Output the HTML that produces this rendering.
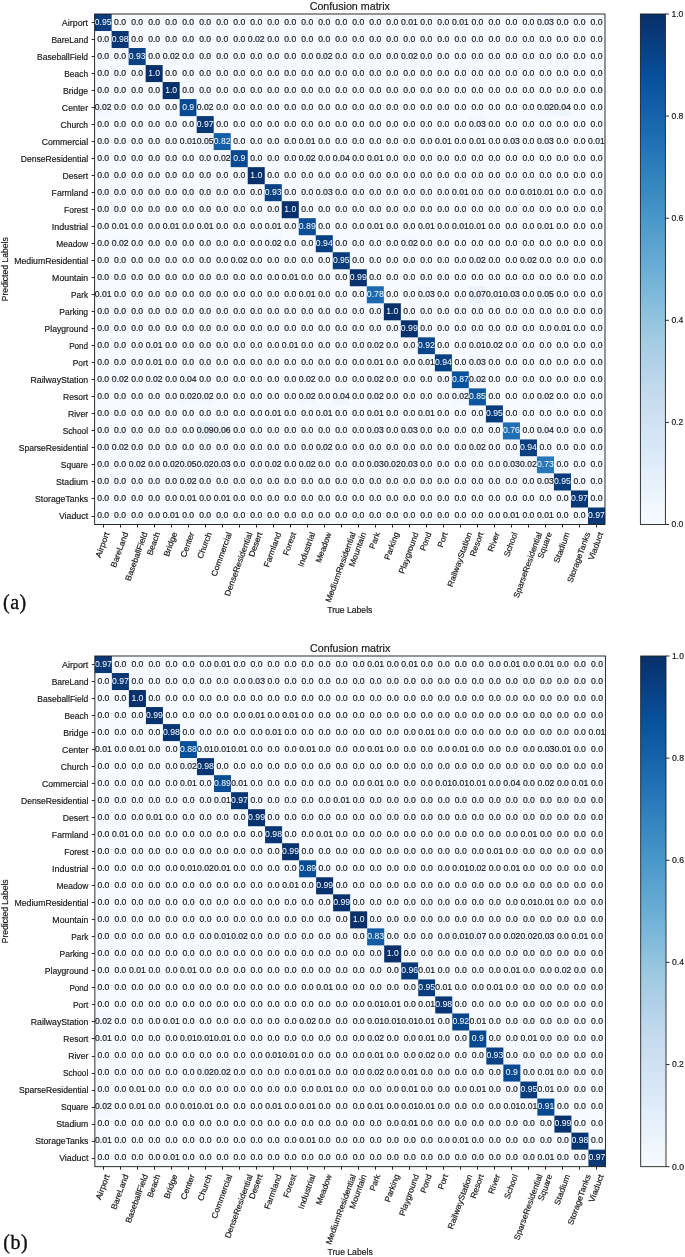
<!DOCTYPE html><html><head><meta charset="utf-8"><title>Confusion matrices</title><style>html,body{margin:0;padding:0;background:#fff}svg{display:block;will-change:transform}text{font-family:"Liberation Sans",sans-serif}.k{stroke:#1a1a1a;stroke-width:0.18px}.w{stroke:none}.s{font-family:"Liberation Serif",serif}</style></head><body>
<svg width="685" height="1257" viewBox="0 0 685 1257">
<defs><linearGradient id="cb" x1="0" y1="1" x2="0" y2="0">
<stop offset="0.0000" stop-color="#f7fbff"/>
<stop offset="0.0156" stop-color="#f4f9fe"/>
<stop offset="0.0312" stop-color="#f1f7fd"/>
<stop offset="0.0469" stop-color="#eef5fc"/>
<stop offset="0.0625" stop-color="#eaf3fb"/>
<stop offset="0.0781" stop-color="#e7f1fa"/>
<stop offset="0.0938" stop-color="#e4eff9"/>
<stop offset="0.1094" stop-color="#e1edf8"/>
<stop offset="0.1250" stop-color="#deebf7"/>
<stop offset="0.1406" stop-color="#dbe9f6"/>
<stop offset="0.1562" stop-color="#d8e7f5"/>
<stop offset="0.1719" stop-color="#d5e5f4"/>
<stop offset="0.1875" stop-color="#d2e3f3"/>
<stop offset="0.2031" stop-color="#cfe1f2"/>
<stop offset="0.2188" stop-color="#ccdff1"/>
<stop offset="0.2344" stop-color="#c9ddf0"/>
<stop offset="0.2500" stop-color="#c6dbef"/>
<stop offset="0.2656" stop-color="#c1d9ed"/>
<stop offset="0.2812" stop-color="#bcd7eb"/>
<stop offset="0.2969" stop-color="#b7d4ea"/>
<stop offset="0.3125" stop-color="#b2d2e8"/>
<stop offset="0.3281" stop-color="#add0e6"/>
<stop offset="0.3438" stop-color="#a8cee4"/>
<stop offset="0.3594" stop-color="#a3cce3"/>
<stop offset="0.3750" stop-color="#9dcae1"/>
<stop offset="0.3906" stop-color="#97c6df"/>
<stop offset="0.4062" stop-color="#91c3de"/>
<stop offset="0.4219" stop-color="#8abfdd"/>
<stop offset="0.4375" stop-color="#84bcdb"/>
<stop offset="0.4531" stop-color="#7db8da"/>
<stop offset="0.4688" stop-color="#77b5d9"/>
<stop offset="0.4844" stop-color="#71b1d7"/>
<stop offset="0.5000" stop-color="#6aaed6"/>
<stop offset="0.5156" stop-color="#65aad4"/>
<stop offset="0.5312" stop-color="#60a7d2"/>
<stop offset="0.5469" stop-color="#5ba3d0"/>
<stop offset="0.5625" stop-color="#56a0ce"/>
<stop offset="0.5781" stop-color="#519ccc"/>
<stop offset="0.5938" stop-color="#4b98ca"/>
<stop offset="0.6094" stop-color="#4695c8"/>
<stop offset="0.6250" stop-color="#4191c6"/>
<stop offset="0.6406" stop-color="#3d8dc4"/>
<stop offset="0.6562" stop-color="#3989c1"/>
<stop offset="0.6719" stop-color="#3585bf"/>
<stop offset="0.6875" stop-color="#3181bd"/>
<stop offset="0.7031" stop-color="#2d7dbb"/>
<stop offset="0.7188" stop-color="#2979b9"/>
<stop offset="0.7344" stop-color="#2474b7"/>
<stop offset="0.7500" stop-color="#2070b4"/>
<stop offset="0.7656" stop-color="#1d6cb1"/>
<stop offset="0.7812" stop-color="#1a68ae"/>
<stop offset="0.7969" stop-color="#1764ab"/>
<stop offset="0.8125" stop-color="#1460a8"/>
<stop offset="0.8281" stop-color="#115ca5"/>
<stop offset="0.8438" stop-color="#0e58a2"/>
<stop offset="0.8594" stop-color="#0a549e"/>
<stop offset="0.8750" stop-color="#08509b"/>
<stop offset="0.8906" stop-color="#084c95"/>
<stop offset="0.9062" stop-color="#08488e"/>
<stop offset="0.9219" stop-color="#084488"/>
<stop offset="0.9375" stop-color="#084082"/>
<stop offset="0.9531" stop-color="#083b7c"/>
<stop offset="0.9688" stop-color="#083776"/>
<stop offset="0.9844" stop-color="#083370"/>
<stop offset="1.0000" stop-color="#08306b"/>
</linearGradient></defs>
<rect width="685" height="1257" fill="#fff"/>
<rect x="94.60" y="14.00" width="510.39" height="510.51" fill="#f7fbff"/>
<rect x="94.60" y="14.00" width="17.03" height="17.04" fill="#083c7d"/>
<rect x="400.83" y="14.00" width="17.03" height="17.04" fill="#f5fafe"/>
<rect x="451.87" y="14.00" width="17.03" height="17.04" fill="#f5fafe"/>
<rect x="536.94" y="14.00" width="17.03" height="17.04" fill="#f2f7fd"/>
<rect x="111.61" y="31.02" width="17.03" height="17.04" fill="#083573"/>
<rect x="247.72" y="31.02" width="17.03" height="17.04" fill="#f3f8fe"/>
<rect x="128.63" y="48.03" width="17.03" height="17.04" fill="#084285"/>
<rect x="162.65" y="48.03" width="17.03" height="17.04" fill="#f3f8fe"/>
<rect x="315.77" y="48.03" width="17.03" height="17.04" fill="#f3f8fe"/>
<rect x="400.83" y="48.03" width="17.03" height="17.04" fill="#f3f8fe"/>
<rect x="145.64" y="65.05" width="17.03" height="17.04" fill="#08306b"/>
<rect x="162.65" y="82.07" width="17.03" height="17.04" fill="#08306b"/>
<rect x="94.60" y="99.08" width="17.03" height="17.04" fill="#f3f8fe"/>
<rect x="179.67" y="99.08" width="17.03" height="17.04" fill="#084a91"/>
<rect x="196.68" y="99.08" width="17.03" height="17.04" fill="#f3f8fe"/>
<rect x="536.94" y="99.08" width="17.03" height="17.04" fill="#f3f8fe"/>
<rect x="553.95" y="99.08" width="17.03" height="17.04" fill="#eff6fc"/>
<rect x="196.68" y="116.10" width="17.03" height="17.04" fill="#083776"/>
<rect x="468.89" y="116.10" width="17.03" height="17.04" fill="#f2f7fd"/>
<rect x="179.67" y="133.12" width="17.03" height="17.04" fill="#f5fafe"/>
<rect x="196.68" y="133.12" width="17.03" height="17.04" fill="#eef5fc"/>
<rect x="213.69" y="133.12" width="17.03" height="17.04" fill="#135fa7"/>
<rect x="298.76" y="133.12" width="17.03" height="17.04" fill="#f5fafe"/>
<rect x="434.86" y="133.12" width="17.03" height="17.04" fill="#f5fafe"/>
<rect x="468.89" y="133.12" width="17.03" height="17.04" fill="#f5fafe"/>
<rect x="502.91" y="133.12" width="17.03" height="17.04" fill="#f2f7fd"/>
<rect x="536.94" y="133.12" width="17.03" height="17.04" fill="#f2f7fd"/>
<rect x="587.98" y="133.12" width="17.03" height="17.04" fill="#f5fafe"/>
<rect x="213.69" y="150.14" width="17.03" height="17.04" fill="#f3f8fe"/>
<rect x="230.70" y="150.14" width="17.03" height="17.04" fill="#084a91"/>
<rect x="298.76" y="150.14" width="17.03" height="17.04" fill="#f3f8fe"/>
<rect x="332.78" y="150.14" width="17.03" height="17.04" fill="#eff6fc"/>
<rect x="366.81" y="150.14" width="17.03" height="17.04" fill="#f5fafe"/>
<rect x="247.72" y="167.15" width="17.03" height="17.04" fill="#08306b"/>
<rect x="264.73" y="184.17" width="17.03" height="17.04" fill="#084285"/>
<rect x="315.77" y="184.17" width="17.03" height="17.04" fill="#f2f7fd"/>
<rect x="451.87" y="184.17" width="17.03" height="17.04" fill="#f5fafe"/>
<rect x="519.93" y="184.17" width="17.03" height="17.04" fill="#f5fafe"/>
<rect x="536.94" y="184.17" width="17.03" height="17.04" fill="#f5fafe"/>
<rect x="281.74" y="201.19" width="17.03" height="17.04" fill="#08306b"/>
<rect x="111.61" y="218.20" width="17.03" height="17.04" fill="#f5fafe"/>
<rect x="162.65" y="218.20" width="17.03" height="17.04" fill="#f5fafe"/>
<rect x="196.68" y="218.20" width="17.03" height="17.04" fill="#f5fafe"/>
<rect x="264.73" y="218.20" width="17.03" height="17.04" fill="#f5fafe"/>
<rect x="298.76" y="218.20" width="17.03" height="17.04" fill="#084d96"/>
<rect x="366.81" y="218.20" width="17.03" height="17.04" fill="#f5fafe"/>
<rect x="417.85" y="218.20" width="17.03" height="17.04" fill="#f5fafe"/>
<rect x="451.87" y="218.20" width="17.03" height="17.04" fill="#f5fafe"/>
<rect x="468.89" y="218.20" width="17.03" height="17.04" fill="#f5fafe"/>
<rect x="536.94" y="218.20" width="17.03" height="17.04" fill="#f5fafe"/>
<rect x="111.61" y="235.22" width="17.03" height="17.04" fill="#f3f8fe"/>
<rect x="264.73" y="235.22" width="17.03" height="17.04" fill="#f3f8fe"/>
<rect x="315.77" y="235.22" width="17.03" height="17.04" fill="#084082"/>
<rect x="400.83" y="235.22" width="17.03" height="17.04" fill="#f3f8fe"/>
<rect x="230.70" y="252.24" width="17.03" height="17.04" fill="#f3f8fe"/>
<rect x="332.78" y="252.24" width="17.03" height="17.04" fill="#083c7d"/>
<rect x="468.89" y="252.24" width="17.03" height="17.04" fill="#f3f8fe"/>
<rect x="519.93" y="252.24" width="17.03" height="17.04" fill="#f3f8fe"/>
<rect x="281.74" y="269.25" width="17.03" height="17.04" fill="#f5fafe"/>
<rect x="349.80" y="269.25" width="17.03" height="17.04" fill="#08326e"/>
<rect x="94.60" y="286.27" width="17.03" height="17.04" fill="#f5fafe"/>
<rect x="298.76" y="286.27" width="17.03" height="17.04" fill="#f5fafe"/>
<rect x="366.81" y="286.27" width="17.03" height="17.04" fill="#1b69af"/>
<rect x="417.85" y="286.27" width="17.03" height="17.04" fill="#f2f7fd"/>
<rect x="468.89" y="286.27" width="17.03" height="17.04" fill="#eaf2fb"/>
<rect x="485.90" y="286.27" width="17.03" height="17.04" fill="#f5fafe"/>
<rect x="502.91" y="286.27" width="17.03" height="17.04" fill="#f2f7fd"/>
<rect x="536.94" y="286.27" width="17.03" height="17.04" fill="#eef5fc"/>
<rect x="383.82" y="303.29" width="17.03" height="17.04" fill="#08306b"/>
<rect x="400.83" y="320.31" width="17.03" height="17.04" fill="#08326e"/>
<rect x="553.95" y="320.31" width="17.03" height="17.04" fill="#f5fafe"/>
<rect x="145.64" y="337.32" width="17.03" height="17.04" fill="#f5fafe"/>
<rect x="281.74" y="337.32" width="17.03" height="17.04" fill="#f5fafe"/>
<rect x="366.81" y="337.32" width="17.03" height="17.04" fill="#f3f8fe"/>
<rect x="417.85" y="337.32" width="17.03" height="17.04" fill="#08458a"/>
<rect x="468.89" y="337.32" width="17.03" height="17.04" fill="#f5fafe"/>
<rect x="485.90" y="337.32" width="17.03" height="17.04" fill="#f3f8fe"/>
<rect x="145.64" y="354.34" width="17.03" height="17.04" fill="#f5fafe"/>
<rect x="366.81" y="354.34" width="17.03" height="17.04" fill="#f5fafe"/>
<rect x="417.85" y="354.34" width="17.03" height="17.04" fill="#f5fafe"/>
<rect x="434.86" y="354.34" width="17.03" height="17.04" fill="#084082"/>
<rect x="468.89" y="354.34" width="17.03" height="17.04" fill="#f2f7fd"/>
<rect x="111.61" y="371.36" width="17.03" height="17.04" fill="#f3f8fe"/>
<rect x="145.64" y="371.36" width="17.03" height="17.04" fill="#f3f8fe"/>
<rect x="179.67" y="371.36" width="17.03" height="17.04" fill="#eff6fc"/>
<rect x="298.76" y="371.36" width="17.03" height="17.04" fill="#f3f8fe"/>
<rect x="366.81" y="371.36" width="17.03" height="17.04" fill="#f3f8fe"/>
<rect x="451.87" y="371.36" width="17.03" height="17.04" fill="#09529d"/>
<rect x="468.89" y="371.36" width="17.03" height="17.04" fill="#f3f8fe"/>
<rect x="179.67" y="388.37" width="17.03" height="17.04" fill="#f3f8fe"/>
<rect x="196.68" y="388.37" width="17.03" height="17.04" fill="#f3f8fe"/>
<rect x="298.76" y="388.37" width="17.03" height="17.04" fill="#f3f8fe"/>
<rect x="332.78" y="388.37" width="17.03" height="17.04" fill="#eff6fc"/>
<rect x="366.81" y="388.37" width="17.03" height="17.04" fill="#f3f8fe"/>
<rect x="451.87" y="388.37" width="17.03" height="17.04" fill="#f3f8fe"/>
<rect x="468.89" y="388.37" width="17.03" height="17.04" fill="#0d57a1"/>
<rect x="536.94" y="388.37" width="17.03" height="17.04" fill="#f3f8fe"/>
<rect x="264.73" y="405.39" width="17.03" height="17.04" fill="#f5fafe"/>
<rect x="315.77" y="405.39" width="17.03" height="17.04" fill="#f5fafe"/>
<rect x="366.81" y="405.39" width="17.03" height="17.04" fill="#f5fafe"/>
<rect x="417.85" y="405.39" width="17.03" height="17.04" fill="#f5fafe"/>
<rect x="485.90" y="405.39" width="17.03" height="17.04" fill="#083c7d"/>
<rect x="196.68" y="422.41" width="17.03" height="17.04" fill="#e5eff9"/>
<rect x="213.69" y="422.41" width="17.03" height="17.04" fill="#ebf3fb"/>
<rect x="366.81" y="422.41" width="17.03" height="17.04" fill="#f2f7fd"/>
<rect x="400.83" y="422.41" width="17.03" height="17.04" fill="#f2f7fd"/>
<rect x="502.91" y="422.41" width="17.03" height="17.04" fill="#1f6eb3"/>
<rect x="536.94" y="422.41" width="17.03" height="17.04" fill="#eff6fc"/>
<rect x="111.61" y="439.43" width="17.03" height="17.04" fill="#f3f8fe"/>
<rect x="315.77" y="439.43" width="17.03" height="17.04" fill="#f3f8fe"/>
<rect x="468.89" y="439.43" width="17.03" height="17.04" fill="#f3f8fe"/>
<rect x="519.93" y="439.43" width="17.03" height="17.04" fill="#084082"/>
<rect x="128.63" y="456.44" width="17.03" height="17.04" fill="#f3f8fe"/>
<rect x="162.65" y="456.44" width="17.03" height="17.04" fill="#f3f8fe"/>
<rect x="179.67" y="456.44" width="17.03" height="17.04" fill="#eef5fc"/>
<rect x="196.68" y="456.44" width="17.03" height="17.04" fill="#f3f8fe"/>
<rect x="213.69" y="456.44" width="17.03" height="17.04" fill="#f2f7fd"/>
<rect x="264.73" y="456.44" width="17.03" height="17.04" fill="#f3f8fe"/>
<rect x="298.76" y="456.44" width="17.03" height="17.04" fill="#f3f8fe"/>
<rect x="366.81" y="456.44" width="17.03" height="17.04" fill="#f2f7fd"/>
<rect x="383.82" y="456.44" width="17.03" height="17.04" fill="#f3f8fe"/>
<rect x="400.83" y="456.44" width="17.03" height="17.04" fill="#f2f7fd"/>
<rect x="502.91" y="456.44" width="17.03" height="17.04" fill="#f2f7fd"/>
<rect x="519.93" y="456.44" width="17.03" height="17.04" fill="#f3f8fe"/>
<rect x="536.94" y="456.44" width="17.03" height="17.04" fill="#2676b8"/>
<rect x="179.67" y="473.46" width="17.03" height="17.04" fill="#f3f8fe"/>
<rect x="536.94" y="473.46" width="17.03" height="17.04" fill="#f2f7fd"/>
<rect x="553.95" y="473.46" width="17.03" height="17.04" fill="#083c7d"/>
<rect x="179.67" y="490.48" width="17.03" height="17.04" fill="#f5fafe"/>
<rect x="213.69" y="490.48" width="17.03" height="17.04" fill="#f5fafe"/>
<rect x="570.96" y="490.48" width="17.03" height="17.04" fill="#083776"/>
<rect x="162.65" y="507.49" width="17.03" height="17.04" fill="#f5fafe"/>
<rect x="502.91" y="507.49" width="17.03" height="17.04" fill="#f5fafe"/>
<rect x="536.94" y="507.49" width="17.03" height="17.04" fill="#f5fafe"/>
<rect x="587.98" y="507.49" width="17.03" height="17.04" fill="#083776"/>
<g class="k" font-size="8.24" text-anchor="middle" fill="#1a1a1a">
<text x="120.12" y="25.26" textLength="11.97" lengthAdjust="spacingAndGlyphs">0.0</text>
<text x="137.13" y="25.26" textLength="11.97" lengthAdjust="spacingAndGlyphs">0.0</text>
<text x="154.15" y="25.26" textLength="11.97" lengthAdjust="spacingAndGlyphs">0.0</text>
<text x="171.16" y="25.26" textLength="11.97" lengthAdjust="spacingAndGlyphs">0.0</text>
<text x="188.17" y="25.26" textLength="11.97" lengthAdjust="spacingAndGlyphs">0.0</text>
<text x="205.18" y="25.26" textLength="11.97" lengthAdjust="spacingAndGlyphs">0.0</text>
<text x="222.20" y="25.26" textLength="11.97" lengthAdjust="spacingAndGlyphs">0.0</text>
<text x="239.21" y="25.26" textLength="11.97" lengthAdjust="spacingAndGlyphs">0.0</text>
<text x="256.22" y="25.26" textLength="11.97" lengthAdjust="spacingAndGlyphs">0.0</text>
<text x="273.24" y="25.26" textLength="11.97" lengthAdjust="spacingAndGlyphs">0.0</text>
<text x="290.25" y="25.26" textLength="11.97" lengthAdjust="spacingAndGlyphs">0.0</text>
<text x="307.26" y="25.26" textLength="11.97" lengthAdjust="spacingAndGlyphs">0.0</text>
<text x="324.28" y="25.26" textLength="11.97" lengthAdjust="spacingAndGlyphs">0.0</text>
<text x="341.29" y="25.26" textLength="11.97" lengthAdjust="spacingAndGlyphs">0.0</text>
<text x="358.30" y="25.26" textLength="11.97" lengthAdjust="spacingAndGlyphs">0.0</text>
<text x="375.31" y="25.26" textLength="11.97" lengthAdjust="spacingAndGlyphs">0.0</text>
<text x="392.33" y="25.26" textLength="11.97" lengthAdjust="spacingAndGlyphs">0.0</text>
<text x="409.34" y="25.26" textLength="16.79" lengthAdjust="spacingAndGlyphs">0.01</text>
<text x="426.35" y="25.26" textLength="11.97" lengthAdjust="spacingAndGlyphs">0.0</text>
<text x="443.37" y="25.26" textLength="11.97" lengthAdjust="spacingAndGlyphs">0.0</text>
<text x="460.38" y="25.26" textLength="16.79" lengthAdjust="spacingAndGlyphs">0.01</text>
<text x="477.39" y="25.26" textLength="11.97" lengthAdjust="spacingAndGlyphs">0.0</text>
<text x="494.41" y="25.26" textLength="11.97" lengthAdjust="spacingAndGlyphs">0.0</text>
<text x="511.42" y="25.26" textLength="11.97" lengthAdjust="spacingAndGlyphs">0.0</text>
<text x="528.43" y="25.26" textLength="11.97" lengthAdjust="spacingAndGlyphs">0.0</text>
<text x="545.44" y="25.26" textLength="16.84" lengthAdjust="spacingAndGlyphs">0.03</text>
<text x="562.46" y="25.26" textLength="11.97" lengthAdjust="spacingAndGlyphs">0.0</text>
<text x="579.47" y="25.26" textLength="11.97" lengthAdjust="spacingAndGlyphs">0.0</text>
<text x="596.48" y="25.26" textLength="11.97" lengthAdjust="spacingAndGlyphs">0.0</text>
<text x="103.11" y="42.25" textLength="11.97" lengthAdjust="spacingAndGlyphs">0.0</text>
<text x="137.13" y="42.25" textLength="11.97" lengthAdjust="spacingAndGlyphs">0.0</text>
<text x="154.15" y="42.25" textLength="11.97" lengthAdjust="spacingAndGlyphs">0.0</text>
<text x="171.16" y="42.25" textLength="11.97" lengthAdjust="spacingAndGlyphs">0.0</text>
<text x="188.17" y="42.25" textLength="11.97" lengthAdjust="spacingAndGlyphs">0.0</text>
<text x="205.18" y="42.25" textLength="11.97" lengthAdjust="spacingAndGlyphs">0.0</text>
<text x="222.20" y="42.25" textLength="11.97" lengthAdjust="spacingAndGlyphs">0.0</text>
<text x="239.21" y="42.25" textLength="11.97" lengthAdjust="spacingAndGlyphs">0.0</text>
<text x="256.22" y="42.25" textLength="16.74" lengthAdjust="spacingAndGlyphs">0.02</text>
<text x="273.24" y="42.25" textLength="11.97" lengthAdjust="spacingAndGlyphs">0.0</text>
<text x="290.25" y="42.25" textLength="11.97" lengthAdjust="spacingAndGlyphs">0.0</text>
<text x="307.26" y="42.25" textLength="11.97" lengthAdjust="spacingAndGlyphs">0.0</text>
<text x="324.28" y="42.25" textLength="11.97" lengthAdjust="spacingAndGlyphs">0.0</text>
<text x="341.29" y="42.25" textLength="11.97" lengthAdjust="spacingAndGlyphs">0.0</text>
<text x="358.30" y="42.25" textLength="11.97" lengthAdjust="spacingAndGlyphs">0.0</text>
<text x="375.31" y="42.25" textLength="11.97" lengthAdjust="spacingAndGlyphs">0.0</text>
<text x="392.33" y="42.25" textLength="11.97" lengthAdjust="spacingAndGlyphs">0.0</text>
<text x="409.34" y="42.25" textLength="11.97" lengthAdjust="spacingAndGlyphs">0.0</text>
<text x="426.35" y="42.25" textLength="11.97" lengthAdjust="spacingAndGlyphs">0.0</text>
<text x="443.37" y="42.25" textLength="11.97" lengthAdjust="spacingAndGlyphs">0.0</text>
<text x="460.38" y="42.25" textLength="11.97" lengthAdjust="spacingAndGlyphs">0.0</text>
<text x="477.39" y="42.25" textLength="11.97" lengthAdjust="spacingAndGlyphs">0.0</text>
<text x="494.41" y="42.25" textLength="11.97" lengthAdjust="spacingAndGlyphs">0.0</text>
<text x="511.42" y="42.25" textLength="11.97" lengthAdjust="spacingAndGlyphs">0.0</text>
<text x="528.43" y="42.25" textLength="11.97" lengthAdjust="spacingAndGlyphs">0.0</text>
<text x="545.44" y="42.25" textLength="11.97" lengthAdjust="spacingAndGlyphs">0.0</text>
<text x="562.46" y="42.25" textLength="11.97" lengthAdjust="spacingAndGlyphs">0.0</text>
<text x="579.47" y="42.25" textLength="11.97" lengthAdjust="spacingAndGlyphs">0.0</text>
<text x="596.48" y="42.25" textLength="11.97" lengthAdjust="spacingAndGlyphs">0.0</text>
<text x="103.11" y="59.24" textLength="11.97" lengthAdjust="spacingAndGlyphs">0.0</text>
<text x="120.12" y="59.24" textLength="11.97" lengthAdjust="spacingAndGlyphs">0.0</text>
<text x="154.15" y="59.24" textLength="11.97" lengthAdjust="spacingAndGlyphs">0.0</text>
<text x="171.16" y="59.24" textLength="16.74" lengthAdjust="spacingAndGlyphs">0.02</text>
<text x="188.17" y="59.24" textLength="11.97" lengthAdjust="spacingAndGlyphs">0.0</text>
<text x="205.18" y="59.24" textLength="11.97" lengthAdjust="spacingAndGlyphs">0.0</text>
<text x="222.20" y="59.24" textLength="11.97" lengthAdjust="spacingAndGlyphs">0.0</text>
<text x="239.21" y="59.24" textLength="11.97" lengthAdjust="spacingAndGlyphs">0.0</text>
<text x="256.22" y="59.24" textLength="11.97" lengthAdjust="spacingAndGlyphs">0.0</text>
<text x="273.24" y="59.24" textLength="11.97" lengthAdjust="spacingAndGlyphs">0.0</text>
<text x="290.25" y="59.24" textLength="11.97" lengthAdjust="spacingAndGlyphs">0.0</text>
<text x="307.26" y="59.24" textLength="11.97" lengthAdjust="spacingAndGlyphs">0.0</text>
<text x="324.28" y="59.24" textLength="16.74" lengthAdjust="spacingAndGlyphs">0.02</text>
<text x="341.29" y="59.24" textLength="11.97" lengthAdjust="spacingAndGlyphs">0.0</text>
<text x="358.30" y="59.24" textLength="11.97" lengthAdjust="spacingAndGlyphs">0.0</text>
<text x="375.31" y="59.24" textLength="11.97" lengthAdjust="spacingAndGlyphs">0.0</text>
<text x="392.33" y="59.24" textLength="11.97" lengthAdjust="spacingAndGlyphs">0.0</text>
<text x="409.34" y="59.24" textLength="16.74" lengthAdjust="spacingAndGlyphs">0.02</text>
<text x="426.35" y="59.24" textLength="11.97" lengthAdjust="spacingAndGlyphs">0.0</text>
<text x="443.37" y="59.24" textLength="11.97" lengthAdjust="spacingAndGlyphs">0.0</text>
<text x="460.38" y="59.24" textLength="11.97" lengthAdjust="spacingAndGlyphs">0.0</text>
<text x="477.39" y="59.24" textLength="11.97" lengthAdjust="spacingAndGlyphs">0.0</text>
<text x="494.41" y="59.24" textLength="11.97" lengthAdjust="spacingAndGlyphs">0.0</text>
<text x="511.42" y="59.24" textLength="11.97" lengthAdjust="spacingAndGlyphs">0.0</text>
<text x="528.43" y="59.24" textLength="11.97" lengthAdjust="spacingAndGlyphs">0.0</text>
<text x="545.44" y="59.24" textLength="11.97" lengthAdjust="spacingAndGlyphs">0.0</text>
<text x="562.46" y="59.24" textLength="11.97" lengthAdjust="spacingAndGlyphs">0.0</text>
<text x="579.47" y="59.24" textLength="11.97" lengthAdjust="spacingAndGlyphs">0.0</text>
<text x="596.48" y="59.24" textLength="11.97" lengthAdjust="spacingAndGlyphs">0.0</text>
<text x="103.11" y="76.23" textLength="11.97" lengthAdjust="spacingAndGlyphs">0.0</text>
<text x="120.12" y="76.23" textLength="11.97" lengthAdjust="spacingAndGlyphs">0.0</text>
<text x="137.13" y="76.23" textLength="11.97" lengthAdjust="spacingAndGlyphs">0.0</text>
<text x="171.16" y="76.23" textLength="11.97" lengthAdjust="spacingAndGlyphs">0.0</text>
<text x="188.17" y="76.23" textLength="11.97" lengthAdjust="spacingAndGlyphs">0.0</text>
<text x="205.18" y="76.23" textLength="11.97" lengthAdjust="spacingAndGlyphs">0.0</text>
<text x="222.20" y="76.23" textLength="11.97" lengthAdjust="spacingAndGlyphs">0.0</text>
<text x="239.21" y="76.23" textLength="11.97" lengthAdjust="spacingAndGlyphs">0.0</text>
<text x="256.22" y="76.23" textLength="11.97" lengthAdjust="spacingAndGlyphs">0.0</text>
<text x="273.24" y="76.23" textLength="11.97" lengthAdjust="spacingAndGlyphs">0.0</text>
<text x="290.25" y="76.23" textLength="11.97" lengthAdjust="spacingAndGlyphs">0.0</text>
<text x="307.26" y="76.23" textLength="11.97" lengthAdjust="spacingAndGlyphs">0.0</text>
<text x="324.28" y="76.23" textLength="11.97" lengthAdjust="spacingAndGlyphs">0.0</text>
<text x="341.29" y="76.23" textLength="11.97" lengthAdjust="spacingAndGlyphs">0.0</text>
<text x="358.30" y="76.23" textLength="11.97" lengthAdjust="spacingAndGlyphs">0.0</text>
<text x="375.31" y="76.23" textLength="11.97" lengthAdjust="spacingAndGlyphs">0.0</text>
<text x="392.33" y="76.23" textLength="11.97" lengthAdjust="spacingAndGlyphs">0.0</text>
<text x="409.34" y="76.23" textLength="11.97" lengthAdjust="spacingAndGlyphs">0.0</text>
<text x="426.35" y="76.23" textLength="11.97" lengthAdjust="spacingAndGlyphs">0.0</text>
<text x="443.37" y="76.23" textLength="11.97" lengthAdjust="spacingAndGlyphs">0.0</text>
<text x="460.38" y="76.23" textLength="11.97" lengthAdjust="spacingAndGlyphs">0.0</text>
<text x="477.39" y="76.23" textLength="11.97" lengthAdjust="spacingAndGlyphs">0.0</text>
<text x="494.41" y="76.23" textLength="11.97" lengthAdjust="spacingAndGlyphs">0.0</text>
<text x="511.42" y="76.23" textLength="11.97" lengthAdjust="spacingAndGlyphs">0.0</text>
<text x="528.43" y="76.23" textLength="11.97" lengthAdjust="spacingAndGlyphs">0.0</text>
<text x="545.44" y="76.23" textLength="11.97" lengthAdjust="spacingAndGlyphs">0.0</text>
<text x="562.46" y="76.23" textLength="11.97" lengthAdjust="spacingAndGlyphs">0.0</text>
<text x="579.47" y="76.23" textLength="11.97" lengthAdjust="spacingAndGlyphs">0.0</text>
<text x="596.48" y="76.23" textLength="11.97" lengthAdjust="spacingAndGlyphs">0.0</text>
<text x="103.11" y="93.22" textLength="11.97" lengthAdjust="spacingAndGlyphs">0.0</text>
<text x="120.12" y="93.22" textLength="11.97" lengthAdjust="spacingAndGlyphs">0.0</text>
<text x="137.13" y="93.22" textLength="11.97" lengthAdjust="spacingAndGlyphs">0.0</text>
<text x="154.15" y="93.22" textLength="11.97" lengthAdjust="spacingAndGlyphs">0.0</text>
<text x="188.17" y="93.22" textLength="11.97" lengthAdjust="spacingAndGlyphs">0.0</text>
<text x="205.18" y="93.22" textLength="11.97" lengthAdjust="spacingAndGlyphs">0.0</text>
<text x="222.20" y="93.22" textLength="11.97" lengthAdjust="spacingAndGlyphs">0.0</text>
<text x="239.21" y="93.22" textLength="11.97" lengthAdjust="spacingAndGlyphs">0.0</text>
<text x="256.22" y="93.22" textLength="11.97" lengthAdjust="spacingAndGlyphs">0.0</text>
<text x="273.24" y="93.22" textLength="11.97" lengthAdjust="spacingAndGlyphs">0.0</text>
<text x="290.25" y="93.22" textLength="11.97" lengthAdjust="spacingAndGlyphs">0.0</text>
<text x="307.26" y="93.22" textLength="11.97" lengthAdjust="spacingAndGlyphs">0.0</text>
<text x="324.28" y="93.22" textLength="11.97" lengthAdjust="spacingAndGlyphs">0.0</text>
<text x="341.29" y="93.22" textLength="11.97" lengthAdjust="spacingAndGlyphs">0.0</text>
<text x="358.30" y="93.22" textLength="11.97" lengthAdjust="spacingAndGlyphs">0.0</text>
<text x="375.31" y="93.22" textLength="11.97" lengthAdjust="spacingAndGlyphs">0.0</text>
<text x="392.33" y="93.22" textLength="11.97" lengthAdjust="spacingAndGlyphs">0.0</text>
<text x="409.34" y="93.22" textLength="11.97" lengthAdjust="spacingAndGlyphs">0.0</text>
<text x="426.35" y="93.22" textLength="11.97" lengthAdjust="spacingAndGlyphs">0.0</text>
<text x="443.37" y="93.22" textLength="11.97" lengthAdjust="spacingAndGlyphs">0.0</text>
<text x="460.38" y="93.22" textLength="11.97" lengthAdjust="spacingAndGlyphs">0.0</text>
<text x="477.39" y="93.22" textLength="11.97" lengthAdjust="spacingAndGlyphs">0.0</text>
<text x="494.41" y="93.22" textLength="11.97" lengthAdjust="spacingAndGlyphs">0.0</text>
<text x="511.42" y="93.22" textLength="11.97" lengthAdjust="spacingAndGlyphs">0.0</text>
<text x="528.43" y="93.22" textLength="11.97" lengthAdjust="spacingAndGlyphs">0.0</text>
<text x="545.44" y="93.22" textLength="11.97" lengthAdjust="spacingAndGlyphs">0.0</text>
<text x="562.46" y="93.22" textLength="11.97" lengthAdjust="spacingAndGlyphs">0.0</text>
<text x="579.47" y="93.22" textLength="11.97" lengthAdjust="spacingAndGlyphs">0.0</text>
<text x="596.48" y="93.22" textLength="11.97" lengthAdjust="spacingAndGlyphs">0.0</text>
<text x="103.11" y="110.21" textLength="16.74" lengthAdjust="spacingAndGlyphs">0.02</text>
<text x="120.12" y="110.21" textLength="11.97" lengthAdjust="spacingAndGlyphs">0.0</text>
<text x="137.13" y="110.21" textLength="11.97" lengthAdjust="spacingAndGlyphs">0.0</text>
<text x="154.15" y="110.21" textLength="11.97" lengthAdjust="spacingAndGlyphs">0.0</text>
<text x="171.16" y="110.21" textLength="11.97" lengthAdjust="spacingAndGlyphs">0.0</text>
<text x="205.18" y="110.21" textLength="16.74" lengthAdjust="spacingAndGlyphs">0.02</text>
<text x="222.20" y="110.21" textLength="11.97" lengthAdjust="spacingAndGlyphs">0.0</text>
<text x="239.21" y="110.21" textLength="11.97" lengthAdjust="spacingAndGlyphs">0.0</text>
<text x="256.22" y="110.21" textLength="11.97" lengthAdjust="spacingAndGlyphs">0.0</text>
<text x="273.24" y="110.21" textLength="11.97" lengthAdjust="spacingAndGlyphs">0.0</text>
<text x="290.25" y="110.21" textLength="11.97" lengthAdjust="spacingAndGlyphs">0.0</text>
<text x="307.26" y="110.21" textLength="11.97" lengthAdjust="spacingAndGlyphs">0.0</text>
<text x="324.28" y="110.21" textLength="11.97" lengthAdjust="spacingAndGlyphs">0.0</text>
<text x="341.29" y="110.21" textLength="11.97" lengthAdjust="spacingAndGlyphs">0.0</text>
<text x="358.30" y="110.21" textLength="11.97" lengthAdjust="spacingAndGlyphs">0.0</text>
<text x="375.31" y="110.21" textLength="11.97" lengthAdjust="spacingAndGlyphs">0.0</text>
<text x="392.33" y="110.21" textLength="11.97" lengthAdjust="spacingAndGlyphs">0.0</text>
<text x="409.34" y="110.21" textLength="11.97" lengthAdjust="spacingAndGlyphs">0.0</text>
<text x="426.35" y="110.21" textLength="11.97" lengthAdjust="spacingAndGlyphs">0.0</text>
<text x="443.37" y="110.21" textLength="11.97" lengthAdjust="spacingAndGlyphs">0.0</text>
<text x="460.38" y="110.21" textLength="11.97" lengthAdjust="spacingAndGlyphs">0.0</text>
<text x="477.39" y="110.21" textLength="11.97" lengthAdjust="spacingAndGlyphs">0.0</text>
<text x="494.41" y="110.21" textLength="11.97" lengthAdjust="spacingAndGlyphs">0.0</text>
<text x="511.42" y="110.21" textLength="11.97" lengthAdjust="spacingAndGlyphs">0.0</text>
<text x="528.43" y="110.21" textLength="11.97" lengthAdjust="spacingAndGlyphs">0.0</text>
<text x="545.44" y="110.21" textLength="16.74" lengthAdjust="spacingAndGlyphs">0.02</text>
<text x="562.46" y="110.21" textLength="16.90" lengthAdjust="spacingAndGlyphs">0.04</text>
<text x="579.47" y="110.21" textLength="11.97" lengthAdjust="spacingAndGlyphs">0.0</text>
<text x="596.48" y="110.21" textLength="11.97" lengthAdjust="spacingAndGlyphs">0.0</text>
<text x="103.11" y="127.20" textLength="11.97" lengthAdjust="spacingAndGlyphs">0.0</text>
<text x="120.12" y="127.20" textLength="11.97" lengthAdjust="spacingAndGlyphs">0.0</text>
<text x="137.13" y="127.20" textLength="11.97" lengthAdjust="spacingAndGlyphs">0.0</text>
<text x="154.15" y="127.20" textLength="11.97" lengthAdjust="spacingAndGlyphs">0.0</text>
<text x="171.16" y="127.20" textLength="11.97" lengthAdjust="spacingAndGlyphs">0.0</text>
<text x="188.17" y="127.20" textLength="11.97" lengthAdjust="spacingAndGlyphs">0.0</text>
<text x="222.20" y="127.20" textLength="11.97" lengthAdjust="spacingAndGlyphs">0.0</text>
<text x="239.21" y="127.20" textLength="11.97" lengthAdjust="spacingAndGlyphs">0.0</text>
<text x="256.22" y="127.20" textLength="11.97" lengthAdjust="spacingAndGlyphs">0.0</text>
<text x="273.24" y="127.20" textLength="11.97" lengthAdjust="spacingAndGlyphs">0.0</text>
<text x="290.25" y="127.20" textLength="11.97" lengthAdjust="spacingAndGlyphs">0.0</text>
<text x="307.26" y="127.20" textLength="11.97" lengthAdjust="spacingAndGlyphs">0.0</text>
<text x="324.28" y="127.20" textLength="11.97" lengthAdjust="spacingAndGlyphs">0.0</text>
<text x="341.29" y="127.20" textLength="11.97" lengthAdjust="spacingAndGlyphs">0.0</text>
<text x="358.30" y="127.20" textLength="11.97" lengthAdjust="spacingAndGlyphs">0.0</text>
<text x="375.31" y="127.20" textLength="11.97" lengthAdjust="spacingAndGlyphs">0.0</text>
<text x="392.33" y="127.20" textLength="11.97" lengthAdjust="spacingAndGlyphs">0.0</text>
<text x="409.34" y="127.20" textLength="11.97" lengthAdjust="spacingAndGlyphs">0.0</text>
<text x="426.35" y="127.20" textLength="11.97" lengthAdjust="spacingAndGlyphs">0.0</text>
<text x="443.37" y="127.20" textLength="11.97" lengthAdjust="spacingAndGlyphs">0.0</text>
<text x="460.38" y="127.20" textLength="11.97" lengthAdjust="spacingAndGlyphs">0.0</text>
<text x="477.39" y="127.20" textLength="16.84" lengthAdjust="spacingAndGlyphs">0.03</text>
<text x="494.41" y="127.20" textLength="11.97" lengthAdjust="spacingAndGlyphs">0.0</text>
<text x="511.42" y="127.20" textLength="11.97" lengthAdjust="spacingAndGlyphs">0.0</text>
<text x="528.43" y="127.20" textLength="11.97" lengthAdjust="spacingAndGlyphs">0.0</text>
<text x="545.44" y="127.20" textLength="11.97" lengthAdjust="spacingAndGlyphs">0.0</text>
<text x="562.46" y="127.20" textLength="11.97" lengthAdjust="spacingAndGlyphs">0.0</text>
<text x="579.47" y="127.20" textLength="11.97" lengthAdjust="spacingAndGlyphs">0.0</text>
<text x="596.48" y="127.20" textLength="11.97" lengthAdjust="spacingAndGlyphs">0.0</text>
<text x="103.11" y="144.19" textLength="11.97" lengthAdjust="spacingAndGlyphs">0.0</text>
<text x="120.12" y="144.19" textLength="11.97" lengthAdjust="spacingAndGlyphs">0.0</text>
<text x="137.13" y="144.19" textLength="11.97" lengthAdjust="spacingAndGlyphs">0.0</text>
<text x="154.15" y="144.19" textLength="11.97" lengthAdjust="spacingAndGlyphs">0.0</text>
<text x="171.16" y="144.19" textLength="11.97" lengthAdjust="spacingAndGlyphs">0.0</text>
<text x="188.17" y="144.19" textLength="16.79" lengthAdjust="spacingAndGlyphs">0.01</text>
<text x="205.18" y="144.19" textLength="16.77" lengthAdjust="spacingAndGlyphs">0.05</text>
<text x="239.21" y="144.19" textLength="11.97" lengthAdjust="spacingAndGlyphs">0.0</text>
<text x="256.22" y="144.19" textLength="11.97" lengthAdjust="spacingAndGlyphs">0.0</text>
<text x="273.24" y="144.19" textLength="11.97" lengthAdjust="spacingAndGlyphs">0.0</text>
<text x="290.25" y="144.19" textLength="11.97" lengthAdjust="spacingAndGlyphs">0.0</text>
<text x="307.26" y="144.19" textLength="16.79" lengthAdjust="spacingAndGlyphs">0.01</text>
<text x="324.28" y="144.19" textLength="11.97" lengthAdjust="spacingAndGlyphs">0.0</text>
<text x="341.29" y="144.19" textLength="11.97" lengthAdjust="spacingAndGlyphs">0.0</text>
<text x="358.30" y="144.19" textLength="11.97" lengthAdjust="spacingAndGlyphs">0.0</text>
<text x="375.31" y="144.19" textLength="11.97" lengthAdjust="spacingAndGlyphs">0.0</text>
<text x="392.33" y="144.19" textLength="11.97" lengthAdjust="spacingAndGlyphs">0.0</text>
<text x="409.34" y="144.19" textLength="11.97" lengthAdjust="spacingAndGlyphs">0.0</text>
<text x="426.35" y="144.19" textLength="11.97" lengthAdjust="spacingAndGlyphs">0.0</text>
<text x="443.37" y="144.19" textLength="16.79" lengthAdjust="spacingAndGlyphs">0.01</text>
<text x="460.38" y="144.19" textLength="11.97" lengthAdjust="spacingAndGlyphs">0.0</text>
<text x="477.39" y="144.19" textLength="16.79" lengthAdjust="spacingAndGlyphs">0.01</text>
<text x="494.41" y="144.19" textLength="11.97" lengthAdjust="spacingAndGlyphs">0.0</text>
<text x="511.42" y="144.19" textLength="16.84" lengthAdjust="spacingAndGlyphs">0.03</text>
<text x="528.43" y="144.19" textLength="11.97" lengthAdjust="spacingAndGlyphs">0.0</text>
<text x="545.44" y="144.19" textLength="16.84" lengthAdjust="spacingAndGlyphs">0.03</text>
<text x="562.46" y="144.19" textLength="11.97" lengthAdjust="spacingAndGlyphs">0.0</text>
<text x="579.47" y="144.19" textLength="11.97" lengthAdjust="spacingAndGlyphs">0.0</text>
<text x="596.48" y="144.19" textLength="16.79" lengthAdjust="spacingAndGlyphs">0.01</text>
<text x="103.11" y="161.18" textLength="11.97" lengthAdjust="spacingAndGlyphs">0.0</text>
<text x="120.12" y="161.18" textLength="11.97" lengthAdjust="spacingAndGlyphs">0.0</text>
<text x="137.13" y="161.18" textLength="11.97" lengthAdjust="spacingAndGlyphs">0.0</text>
<text x="154.15" y="161.18" textLength="11.97" lengthAdjust="spacingAndGlyphs">0.0</text>
<text x="171.16" y="161.18" textLength="11.97" lengthAdjust="spacingAndGlyphs">0.0</text>
<text x="188.17" y="161.18" textLength="11.97" lengthAdjust="spacingAndGlyphs">0.0</text>
<text x="205.18" y="161.18" textLength="11.97" lengthAdjust="spacingAndGlyphs">0.0</text>
<text x="222.20" y="161.18" textLength="16.74" lengthAdjust="spacingAndGlyphs">0.02</text>
<text x="256.22" y="161.18" textLength="11.97" lengthAdjust="spacingAndGlyphs">0.0</text>
<text x="273.24" y="161.18" textLength="11.97" lengthAdjust="spacingAndGlyphs">0.0</text>
<text x="290.25" y="161.18" textLength="11.97" lengthAdjust="spacingAndGlyphs">0.0</text>
<text x="307.26" y="161.18" textLength="16.74" lengthAdjust="spacingAndGlyphs">0.02</text>
<text x="324.28" y="161.18" textLength="11.97" lengthAdjust="spacingAndGlyphs">0.0</text>
<text x="341.29" y="161.18" textLength="16.90" lengthAdjust="spacingAndGlyphs">0.04</text>
<text x="358.30" y="161.18" textLength="11.97" lengthAdjust="spacingAndGlyphs">0.0</text>
<text x="375.31" y="161.18" textLength="16.79" lengthAdjust="spacingAndGlyphs">0.01</text>
<text x="392.33" y="161.18" textLength="11.97" lengthAdjust="spacingAndGlyphs">0.0</text>
<text x="409.34" y="161.18" textLength="11.97" lengthAdjust="spacingAndGlyphs">0.0</text>
<text x="426.35" y="161.18" textLength="11.97" lengthAdjust="spacingAndGlyphs">0.0</text>
<text x="443.37" y="161.18" textLength="11.97" lengthAdjust="spacingAndGlyphs">0.0</text>
<text x="460.38" y="161.18" textLength="11.97" lengthAdjust="spacingAndGlyphs">0.0</text>
<text x="477.39" y="161.18" textLength="11.97" lengthAdjust="spacingAndGlyphs">0.0</text>
<text x="494.41" y="161.18" textLength="11.97" lengthAdjust="spacingAndGlyphs">0.0</text>
<text x="511.42" y="161.18" textLength="11.97" lengthAdjust="spacingAndGlyphs">0.0</text>
<text x="528.43" y="161.18" textLength="11.97" lengthAdjust="spacingAndGlyphs">0.0</text>
<text x="545.44" y="161.18" textLength="11.97" lengthAdjust="spacingAndGlyphs">0.0</text>
<text x="562.46" y="161.18" textLength="11.97" lengthAdjust="spacingAndGlyphs">0.0</text>
<text x="579.47" y="161.18" textLength="11.97" lengthAdjust="spacingAndGlyphs">0.0</text>
<text x="596.48" y="161.18" textLength="11.97" lengthAdjust="spacingAndGlyphs">0.0</text>
<text x="103.11" y="178.17" textLength="11.97" lengthAdjust="spacingAndGlyphs">0.0</text>
<text x="120.12" y="178.17" textLength="11.97" lengthAdjust="spacingAndGlyphs">0.0</text>
<text x="137.13" y="178.17" textLength="11.97" lengthAdjust="spacingAndGlyphs">0.0</text>
<text x="154.15" y="178.17" textLength="11.97" lengthAdjust="spacingAndGlyphs">0.0</text>
<text x="171.16" y="178.17" textLength="11.97" lengthAdjust="spacingAndGlyphs">0.0</text>
<text x="188.17" y="178.17" textLength="11.97" lengthAdjust="spacingAndGlyphs">0.0</text>
<text x="205.18" y="178.17" textLength="11.97" lengthAdjust="spacingAndGlyphs">0.0</text>
<text x="222.20" y="178.17" textLength="11.97" lengthAdjust="spacingAndGlyphs">0.0</text>
<text x="239.21" y="178.17" textLength="11.97" lengthAdjust="spacingAndGlyphs">0.0</text>
<text x="273.24" y="178.17" textLength="11.97" lengthAdjust="spacingAndGlyphs">0.0</text>
<text x="290.25" y="178.17" textLength="11.97" lengthAdjust="spacingAndGlyphs">0.0</text>
<text x="307.26" y="178.17" textLength="11.97" lengthAdjust="spacingAndGlyphs">0.0</text>
<text x="324.28" y="178.17" textLength="11.97" lengthAdjust="spacingAndGlyphs">0.0</text>
<text x="341.29" y="178.17" textLength="11.97" lengthAdjust="spacingAndGlyphs">0.0</text>
<text x="358.30" y="178.17" textLength="11.97" lengthAdjust="spacingAndGlyphs">0.0</text>
<text x="375.31" y="178.17" textLength="11.97" lengthAdjust="spacingAndGlyphs">0.0</text>
<text x="392.33" y="178.17" textLength="11.97" lengthAdjust="spacingAndGlyphs">0.0</text>
<text x="409.34" y="178.17" textLength="11.97" lengthAdjust="spacingAndGlyphs">0.0</text>
<text x="426.35" y="178.17" textLength="11.97" lengthAdjust="spacingAndGlyphs">0.0</text>
<text x="443.37" y="178.17" textLength="11.97" lengthAdjust="spacingAndGlyphs">0.0</text>
<text x="460.38" y="178.17" textLength="11.97" lengthAdjust="spacingAndGlyphs">0.0</text>
<text x="477.39" y="178.17" textLength="11.97" lengthAdjust="spacingAndGlyphs">0.0</text>
<text x="494.41" y="178.17" textLength="11.97" lengthAdjust="spacingAndGlyphs">0.0</text>
<text x="511.42" y="178.17" textLength="11.97" lengthAdjust="spacingAndGlyphs">0.0</text>
<text x="528.43" y="178.17" textLength="11.97" lengthAdjust="spacingAndGlyphs">0.0</text>
<text x="545.44" y="178.17" textLength="11.97" lengthAdjust="spacingAndGlyphs">0.0</text>
<text x="562.46" y="178.17" textLength="11.97" lengthAdjust="spacingAndGlyphs">0.0</text>
<text x="579.47" y="178.17" textLength="11.97" lengthAdjust="spacingAndGlyphs">0.0</text>
<text x="596.48" y="178.17" textLength="11.97" lengthAdjust="spacingAndGlyphs">0.0</text>
<text x="103.11" y="195.16" textLength="11.97" lengthAdjust="spacingAndGlyphs">0.0</text>
<text x="120.12" y="195.16" textLength="11.97" lengthAdjust="spacingAndGlyphs">0.0</text>
<text x="137.13" y="195.16" textLength="11.97" lengthAdjust="spacingAndGlyphs">0.0</text>
<text x="154.15" y="195.16" textLength="11.97" lengthAdjust="spacingAndGlyphs">0.0</text>
<text x="171.16" y="195.16" textLength="11.97" lengthAdjust="spacingAndGlyphs">0.0</text>
<text x="188.17" y="195.16" textLength="11.97" lengthAdjust="spacingAndGlyphs">0.0</text>
<text x="205.18" y="195.16" textLength="11.97" lengthAdjust="spacingAndGlyphs">0.0</text>
<text x="222.20" y="195.16" textLength="11.97" lengthAdjust="spacingAndGlyphs">0.0</text>
<text x="239.21" y="195.16" textLength="11.97" lengthAdjust="spacingAndGlyphs">0.0</text>
<text x="256.22" y="195.16" textLength="11.97" lengthAdjust="spacingAndGlyphs">0.0</text>
<text x="290.25" y="195.16" textLength="11.97" lengthAdjust="spacingAndGlyphs">0.0</text>
<text x="307.26" y="195.16" textLength="11.97" lengthAdjust="spacingAndGlyphs">0.0</text>
<text x="324.28" y="195.16" textLength="16.84" lengthAdjust="spacingAndGlyphs">0.03</text>
<text x="341.29" y="195.16" textLength="11.97" lengthAdjust="spacingAndGlyphs">0.0</text>
<text x="358.30" y="195.16" textLength="11.97" lengthAdjust="spacingAndGlyphs">0.0</text>
<text x="375.31" y="195.16" textLength="11.97" lengthAdjust="spacingAndGlyphs">0.0</text>
<text x="392.33" y="195.16" textLength="11.97" lengthAdjust="spacingAndGlyphs">0.0</text>
<text x="409.34" y="195.16" textLength="11.97" lengthAdjust="spacingAndGlyphs">0.0</text>
<text x="426.35" y="195.16" textLength="11.97" lengthAdjust="spacingAndGlyphs">0.0</text>
<text x="443.37" y="195.16" textLength="11.97" lengthAdjust="spacingAndGlyphs">0.0</text>
<text x="460.38" y="195.16" textLength="16.79" lengthAdjust="spacingAndGlyphs">0.01</text>
<text x="477.39" y="195.16" textLength="11.97" lengthAdjust="spacingAndGlyphs">0.0</text>
<text x="494.41" y="195.16" textLength="11.97" lengthAdjust="spacingAndGlyphs">0.0</text>
<text x="511.42" y="195.16" textLength="11.97" lengthAdjust="spacingAndGlyphs">0.0</text>
<text x="528.43" y="195.16" textLength="16.79" lengthAdjust="spacingAndGlyphs">0.01</text>
<text x="545.44" y="195.16" textLength="16.79" lengthAdjust="spacingAndGlyphs">0.01</text>
<text x="562.46" y="195.16" textLength="11.97" lengthAdjust="spacingAndGlyphs">0.0</text>
<text x="579.47" y="195.16" textLength="11.97" lengthAdjust="spacingAndGlyphs">0.0</text>
<text x="596.48" y="195.16" textLength="11.97" lengthAdjust="spacingAndGlyphs">0.0</text>
<text x="103.11" y="212.15" textLength="11.97" lengthAdjust="spacingAndGlyphs">0.0</text>
<text x="120.12" y="212.15" textLength="11.97" lengthAdjust="spacingAndGlyphs">0.0</text>
<text x="137.13" y="212.15" textLength="11.97" lengthAdjust="spacingAndGlyphs">0.0</text>
<text x="154.15" y="212.15" textLength="11.97" lengthAdjust="spacingAndGlyphs">0.0</text>
<text x="171.16" y="212.15" textLength="11.97" lengthAdjust="spacingAndGlyphs">0.0</text>
<text x="188.17" y="212.15" textLength="11.97" lengthAdjust="spacingAndGlyphs">0.0</text>
<text x="205.18" y="212.15" textLength="11.97" lengthAdjust="spacingAndGlyphs">0.0</text>
<text x="222.20" y="212.15" textLength="11.97" lengthAdjust="spacingAndGlyphs">0.0</text>
<text x="239.21" y="212.15" textLength="11.97" lengthAdjust="spacingAndGlyphs">0.0</text>
<text x="256.22" y="212.15" textLength="11.97" lengthAdjust="spacingAndGlyphs">0.0</text>
<text x="273.24" y="212.15" textLength="11.97" lengthAdjust="spacingAndGlyphs">0.0</text>
<text x="307.26" y="212.15" textLength="11.97" lengthAdjust="spacingAndGlyphs">0.0</text>
<text x="324.28" y="212.15" textLength="11.97" lengthAdjust="spacingAndGlyphs">0.0</text>
<text x="341.29" y="212.15" textLength="11.97" lengthAdjust="spacingAndGlyphs">0.0</text>
<text x="358.30" y="212.15" textLength="11.97" lengthAdjust="spacingAndGlyphs">0.0</text>
<text x="375.31" y="212.15" textLength="11.97" lengthAdjust="spacingAndGlyphs">0.0</text>
<text x="392.33" y="212.15" textLength="11.97" lengthAdjust="spacingAndGlyphs">0.0</text>
<text x="409.34" y="212.15" textLength="11.97" lengthAdjust="spacingAndGlyphs">0.0</text>
<text x="426.35" y="212.15" textLength="11.97" lengthAdjust="spacingAndGlyphs">0.0</text>
<text x="443.37" y="212.15" textLength="11.97" lengthAdjust="spacingAndGlyphs">0.0</text>
<text x="460.38" y="212.15" textLength="11.97" lengthAdjust="spacingAndGlyphs">0.0</text>
<text x="477.39" y="212.15" textLength="11.97" lengthAdjust="spacingAndGlyphs">0.0</text>
<text x="494.41" y="212.15" textLength="11.97" lengthAdjust="spacingAndGlyphs">0.0</text>
<text x="511.42" y="212.15" textLength="11.97" lengthAdjust="spacingAndGlyphs">0.0</text>
<text x="528.43" y="212.15" textLength="11.97" lengthAdjust="spacingAndGlyphs">0.0</text>
<text x="545.44" y="212.15" textLength="11.97" lengthAdjust="spacingAndGlyphs">0.0</text>
<text x="562.46" y="212.15" textLength="11.97" lengthAdjust="spacingAndGlyphs">0.0</text>
<text x="579.47" y="212.15" textLength="11.97" lengthAdjust="spacingAndGlyphs">0.0</text>
<text x="596.48" y="212.15" textLength="11.97" lengthAdjust="spacingAndGlyphs">0.0</text>
<text x="103.11" y="229.14" textLength="11.97" lengthAdjust="spacingAndGlyphs">0.0</text>
<text x="120.12" y="229.14" textLength="16.79" lengthAdjust="spacingAndGlyphs">0.01</text>
<text x="137.13" y="229.14" textLength="11.97" lengthAdjust="spacingAndGlyphs">0.0</text>
<text x="154.15" y="229.14" textLength="11.97" lengthAdjust="spacingAndGlyphs">0.0</text>
<text x="171.16" y="229.14" textLength="16.79" lengthAdjust="spacingAndGlyphs">0.01</text>
<text x="188.17" y="229.14" textLength="11.97" lengthAdjust="spacingAndGlyphs">0.0</text>
<text x="205.18" y="229.14" textLength="16.79" lengthAdjust="spacingAndGlyphs">0.01</text>
<text x="222.20" y="229.14" textLength="11.97" lengthAdjust="spacingAndGlyphs">0.0</text>
<text x="239.21" y="229.14" textLength="11.97" lengthAdjust="spacingAndGlyphs">0.0</text>
<text x="256.22" y="229.14" textLength="11.97" lengthAdjust="spacingAndGlyphs">0.0</text>
<text x="273.24" y="229.14" textLength="16.79" lengthAdjust="spacingAndGlyphs">0.01</text>
<text x="290.25" y="229.14" textLength="11.97" lengthAdjust="spacingAndGlyphs">0.0</text>
<text x="324.28" y="229.14" textLength="11.97" lengthAdjust="spacingAndGlyphs">0.0</text>
<text x="341.29" y="229.14" textLength="11.97" lengthAdjust="spacingAndGlyphs">0.0</text>
<text x="358.30" y="229.14" textLength="11.97" lengthAdjust="spacingAndGlyphs">0.0</text>
<text x="375.31" y="229.14" textLength="16.79" lengthAdjust="spacingAndGlyphs">0.01</text>
<text x="392.33" y="229.14" textLength="11.97" lengthAdjust="spacingAndGlyphs">0.0</text>
<text x="409.34" y="229.14" textLength="11.97" lengthAdjust="spacingAndGlyphs">0.0</text>
<text x="426.35" y="229.14" textLength="16.79" lengthAdjust="spacingAndGlyphs">0.01</text>
<text x="443.37" y="229.14" textLength="11.97" lengthAdjust="spacingAndGlyphs">0.0</text>
<text x="460.38" y="229.14" textLength="16.79" lengthAdjust="spacingAndGlyphs">0.01</text>
<text x="477.39" y="229.14" textLength="16.79" lengthAdjust="spacingAndGlyphs">0.01</text>
<text x="494.41" y="229.14" textLength="11.97" lengthAdjust="spacingAndGlyphs">0.0</text>
<text x="511.42" y="229.14" textLength="11.97" lengthAdjust="spacingAndGlyphs">0.0</text>
<text x="528.43" y="229.14" textLength="11.97" lengthAdjust="spacingAndGlyphs">0.0</text>
<text x="545.44" y="229.14" textLength="16.79" lengthAdjust="spacingAndGlyphs">0.01</text>
<text x="562.46" y="229.14" textLength="11.97" lengthAdjust="spacingAndGlyphs">0.0</text>
<text x="579.47" y="229.14" textLength="11.97" lengthAdjust="spacingAndGlyphs">0.0</text>
<text x="596.48" y="229.14" textLength="11.97" lengthAdjust="spacingAndGlyphs">0.0</text>
<text x="103.11" y="246.13" textLength="11.97" lengthAdjust="spacingAndGlyphs">0.0</text>
<text x="120.12" y="246.13" textLength="16.74" lengthAdjust="spacingAndGlyphs">0.02</text>
<text x="137.13" y="246.13" textLength="11.97" lengthAdjust="spacingAndGlyphs">0.0</text>
<text x="154.15" y="246.13" textLength="11.97" lengthAdjust="spacingAndGlyphs">0.0</text>
<text x="171.16" y="246.13" textLength="11.97" lengthAdjust="spacingAndGlyphs">0.0</text>
<text x="188.17" y="246.13" textLength="11.97" lengthAdjust="spacingAndGlyphs">0.0</text>
<text x="205.18" y="246.13" textLength="11.97" lengthAdjust="spacingAndGlyphs">0.0</text>
<text x="222.20" y="246.13" textLength="11.97" lengthAdjust="spacingAndGlyphs">0.0</text>
<text x="239.21" y="246.13" textLength="11.97" lengthAdjust="spacingAndGlyphs">0.0</text>
<text x="256.22" y="246.13" textLength="11.97" lengthAdjust="spacingAndGlyphs">0.0</text>
<text x="273.24" y="246.13" textLength="16.74" lengthAdjust="spacingAndGlyphs">0.02</text>
<text x="290.25" y="246.13" textLength="11.97" lengthAdjust="spacingAndGlyphs">0.0</text>
<text x="307.26" y="246.13" textLength="11.97" lengthAdjust="spacingAndGlyphs">0.0</text>
<text x="341.29" y="246.13" textLength="11.97" lengthAdjust="spacingAndGlyphs">0.0</text>
<text x="358.30" y="246.13" textLength="11.97" lengthAdjust="spacingAndGlyphs">0.0</text>
<text x="375.31" y="246.13" textLength="11.97" lengthAdjust="spacingAndGlyphs">0.0</text>
<text x="392.33" y="246.13" textLength="11.97" lengthAdjust="spacingAndGlyphs">0.0</text>
<text x="409.34" y="246.13" textLength="16.74" lengthAdjust="spacingAndGlyphs">0.02</text>
<text x="426.35" y="246.13" textLength="11.97" lengthAdjust="spacingAndGlyphs">0.0</text>
<text x="443.37" y="246.13" textLength="11.97" lengthAdjust="spacingAndGlyphs">0.0</text>
<text x="460.38" y="246.13" textLength="11.97" lengthAdjust="spacingAndGlyphs">0.0</text>
<text x="477.39" y="246.13" textLength="11.97" lengthAdjust="spacingAndGlyphs">0.0</text>
<text x="494.41" y="246.13" textLength="11.97" lengthAdjust="spacingAndGlyphs">0.0</text>
<text x="511.42" y="246.13" textLength="11.97" lengthAdjust="spacingAndGlyphs">0.0</text>
<text x="528.43" y="246.13" textLength="11.97" lengthAdjust="spacingAndGlyphs">0.0</text>
<text x="545.44" y="246.13" textLength="11.97" lengthAdjust="spacingAndGlyphs">0.0</text>
<text x="562.46" y="246.13" textLength="11.97" lengthAdjust="spacingAndGlyphs">0.0</text>
<text x="579.47" y="246.13" textLength="11.97" lengthAdjust="spacingAndGlyphs">0.0</text>
<text x="596.48" y="246.13" textLength="11.97" lengthAdjust="spacingAndGlyphs">0.0</text>
<text x="103.11" y="263.12" textLength="11.97" lengthAdjust="spacingAndGlyphs">0.0</text>
<text x="120.12" y="263.12" textLength="11.97" lengthAdjust="spacingAndGlyphs">0.0</text>
<text x="137.13" y="263.12" textLength="11.97" lengthAdjust="spacingAndGlyphs">0.0</text>
<text x="154.15" y="263.12" textLength="11.97" lengthAdjust="spacingAndGlyphs">0.0</text>
<text x="171.16" y="263.12" textLength="11.97" lengthAdjust="spacingAndGlyphs">0.0</text>
<text x="188.17" y="263.12" textLength="11.97" lengthAdjust="spacingAndGlyphs">0.0</text>
<text x="205.18" y="263.12" textLength="11.97" lengthAdjust="spacingAndGlyphs">0.0</text>
<text x="222.20" y="263.12" textLength="11.97" lengthAdjust="spacingAndGlyphs">0.0</text>
<text x="239.21" y="263.12" textLength="16.74" lengthAdjust="spacingAndGlyphs">0.02</text>
<text x="256.22" y="263.12" textLength="11.97" lengthAdjust="spacingAndGlyphs">0.0</text>
<text x="273.24" y="263.12" textLength="11.97" lengthAdjust="spacingAndGlyphs">0.0</text>
<text x="290.25" y="263.12" textLength="11.97" lengthAdjust="spacingAndGlyphs">0.0</text>
<text x="307.26" y="263.12" textLength="11.97" lengthAdjust="spacingAndGlyphs">0.0</text>
<text x="324.28" y="263.12" textLength="11.97" lengthAdjust="spacingAndGlyphs">0.0</text>
<text x="358.30" y="263.12" textLength="11.97" lengthAdjust="spacingAndGlyphs">0.0</text>
<text x="375.31" y="263.12" textLength="11.97" lengthAdjust="spacingAndGlyphs">0.0</text>
<text x="392.33" y="263.12" textLength="11.97" lengthAdjust="spacingAndGlyphs">0.0</text>
<text x="409.34" y="263.12" textLength="11.97" lengthAdjust="spacingAndGlyphs">0.0</text>
<text x="426.35" y="263.12" textLength="11.97" lengthAdjust="spacingAndGlyphs">0.0</text>
<text x="443.37" y="263.12" textLength="11.97" lengthAdjust="spacingAndGlyphs">0.0</text>
<text x="460.38" y="263.12" textLength="11.97" lengthAdjust="spacingAndGlyphs">0.0</text>
<text x="477.39" y="263.12" textLength="16.74" lengthAdjust="spacingAndGlyphs">0.02</text>
<text x="494.41" y="263.12" textLength="11.97" lengthAdjust="spacingAndGlyphs">0.0</text>
<text x="511.42" y="263.12" textLength="11.97" lengthAdjust="spacingAndGlyphs">0.0</text>
<text x="528.43" y="263.12" textLength="16.74" lengthAdjust="spacingAndGlyphs">0.02</text>
<text x="545.44" y="263.12" textLength="11.97" lengthAdjust="spacingAndGlyphs">0.0</text>
<text x="562.46" y="263.12" textLength="11.97" lengthAdjust="spacingAndGlyphs">0.0</text>
<text x="579.47" y="263.12" textLength="11.97" lengthAdjust="spacingAndGlyphs">0.0</text>
<text x="596.48" y="263.12" textLength="11.97" lengthAdjust="spacingAndGlyphs">0.0</text>
<text x="103.11" y="280.11" textLength="11.97" lengthAdjust="spacingAndGlyphs">0.0</text>
<text x="120.12" y="280.11" textLength="11.97" lengthAdjust="spacingAndGlyphs">0.0</text>
<text x="137.13" y="280.11" textLength="11.97" lengthAdjust="spacingAndGlyphs">0.0</text>
<text x="154.15" y="280.11" textLength="11.97" lengthAdjust="spacingAndGlyphs">0.0</text>
<text x="171.16" y="280.11" textLength="11.97" lengthAdjust="spacingAndGlyphs">0.0</text>
<text x="188.17" y="280.11" textLength="11.97" lengthAdjust="spacingAndGlyphs">0.0</text>
<text x="205.18" y="280.11" textLength="11.97" lengthAdjust="spacingAndGlyphs">0.0</text>
<text x="222.20" y="280.11" textLength="11.97" lengthAdjust="spacingAndGlyphs">0.0</text>
<text x="239.21" y="280.11" textLength="11.97" lengthAdjust="spacingAndGlyphs">0.0</text>
<text x="256.22" y="280.11" textLength="11.97" lengthAdjust="spacingAndGlyphs">0.0</text>
<text x="273.24" y="280.11" textLength="11.97" lengthAdjust="spacingAndGlyphs">0.0</text>
<text x="290.25" y="280.11" textLength="16.79" lengthAdjust="spacingAndGlyphs">0.01</text>
<text x="307.26" y="280.11" textLength="11.97" lengthAdjust="spacingAndGlyphs">0.0</text>
<text x="324.28" y="280.11" textLength="11.97" lengthAdjust="spacingAndGlyphs">0.0</text>
<text x="341.29" y="280.11" textLength="11.97" lengthAdjust="spacingAndGlyphs">0.0</text>
<text x="375.31" y="280.11" textLength="11.97" lengthAdjust="spacingAndGlyphs">0.0</text>
<text x="392.33" y="280.11" textLength="11.97" lengthAdjust="spacingAndGlyphs">0.0</text>
<text x="409.34" y="280.11" textLength="11.97" lengthAdjust="spacingAndGlyphs">0.0</text>
<text x="426.35" y="280.11" textLength="11.97" lengthAdjust="spacingAndGlyphs">0.0</text>
<text x="443.37" y="280.11" textLength="11.97" lengthAdjust="spacingAndGlyphs">0.0</text>
<text x="460.38" y="280.11" textLength="11.97" lengthAdjust="spacingAndGlyphs">0.0</text>
<text x="477.39" y="280.11" textLength="11.97" lengthAdjust="spacingAndGlyphs">0.0</text>
<text x="494.41" y="280.11" textLength="11.97" lengthAdjust="spacingAndGlyphs">0.0</text>
<text x="511.42" y="280.11" textLength="11.97" lengthAdjust="spacingAndGlyphs">0.0</text>
<text x="528.43" y="280.11" textLength="11.97" lengthAdjust="spacingAndGlyphs">0.0</text>
<text x="545.44" y="280.11" textLength="11.97" lengthAdjust="spacingAndGlyphs">0.0</text>
<text x="562.46" y="280.11" textLength="11.97" lengthAdjust="spacingAndGlyphs">0.0</text>
<text x="579.47" y="280.11" textLength="11.97" lengthAdjust="spacingAndGlyphs">0.0</text>
<text x="596.48" y="280.11" textLength="11.97" lengthAdjust="spacingAndGlyphs">0.0</text>
<text x="103.11" y="297.10" textLength="16.79" lengthAdjust="spacingAndGlyphs">0.01</text>
<text x="120.12" y="297.10" textLength="11.97" lengthAdjust="spacingAndGlyphs">0.0</text>
<text x="137.13" y="297.10" textLength="11.97" lengthAdjust="spacingAndGlyphs">0.0</text>
<text x="154.15" y="297.10" textLength="11.97" lengthAdjust="spacingAndGlyphs">0.0</text>
<text x="171.16" y="297.10" textLength="11.97" lengthAdjust="spacingAndGlyphs">0.0</text>
<text x="188.17" y="297.10" textLength="11.97" lengthAdjust="spacingAndGlyphs">0.0</text>
<text x="205.18" y="297.10" textLength="11.97" lengthAdjust="spacingAndGlyphs">0.0</text>
<text x="222.20" y="297.10" textLength="11.97" lengthAdjust="spacingAndGlyphs">0.0</text>
<text x="239.21" y="297.10" textLength="11.97" lengthAdjust="spacingAndGlyphs">0.0</text>
<text x="256.22" y="297.10" textLength="11.97" lengthAdjust="spacingAndGlyphs">0.0</text>
<text x="273.24" y="297.10" textLength="11.97" lengthAdjust="spacingAndGlyphs">0.0</text>
<text x="290.25" y="297.10" textLength="11.97" lengthAdjust="spacingAndGlyphs">0.0</text>
<text x="307.26" y="297.10" textLength="16.79" lengthAdjust="spacingAndGlyphs">0.01</text>
<text x="324.28" y="297.10" textLength="11.97" lengthAdjust="spacingAndGlyphs">0.0</text>
<text x="341.29" y="297.10" textLength="11.97" lengthAdjust="spacingAndGlyphs">0.0</text>
<text x="358.30" y="297.10" textLength="11.97" lengthAdjust="spacingAndGlyphs">0.0</text>
<text x="392.33" y="297.10" textLength="11.97" lengthAdjust="spacingAndGlyphs">0.0</text>
<text x="409.34" y="297.10" textLength="11.97" lengthAdjust="spacingAndGlyphs">0.0</text>
<text x="426.35" y="297.10" textLength="16.84" lengthAdjust="spacingAndGlyphs">0.03</text>
<text x="443.37" y="297.10" textLength="11.97" lengthAdjust="spacingAndGlyphs">0.0</text>
<text x="460.38" y="297.10" textLength="11.97" lengthAdjust="spacingAndGlyphs">0.0</text>
<text x="477.39" y="297.10" textLength="16.86" lengthAdjust="spacingAndGlyphs">0.07</text>
<text x="494.41" y="297.10" textLength="16.79" lengthAdjust="spacingAndGlyphs">0.01</text>
<text x="511.42" y="297.10" textLength="16.84" lengthAdjust="spacingAndGlyphs">0.03</text>
<text x="528.43" y="297.10" textLength="11.97" lengthAdjust="spacingAndGlyphs">0.0</text>
<text x="545.44" y="297.10" textLength="16.77" lengthAdjust="spacingAndGlyphs">0.05</text>
<text x="562.46" y="297.10" textLength="11.97" lengthAdjust="spacingAndGlyphs">0.0</text>
<text x="579.47" y="297.10" textLength="11.97" lengthAdjust="spacingAndGlyphs">0.0</text>
<text x="596.48" y="297.10" textLength="11.97" lengthAdjust="spacingAndGlyphs">0.0</text>
<text x="103.11" y="314.09" textLength="11.97" lengthAdjust="spacingAndGlyphs">0.0</text>
<text x="120.12" y="314.09" textLength="11.97" lengthAdjust="spacingAndGlyphs">0.0</text>
<text x="137.13" y="314.09" textLength="11.97" lengthAdjust="spacingAndGlyphs">0.0</text>
<text x="154.15" y="314.09" textLength="11.97" lengthAdjust="spacingAndGlyphs">0.0</text>
<text x="171.16" y="314.09" textLength="11.97" lengthAdjust="spacingAndGlyphs">0.0</text>
<text x="188.17" y="314.09" textLength="11.97" lengthAdjust="spacingAndGlyphs">0.0</text>
<text x="205.18" y="314.09" textLength="11.97" lengthAdjust="spacingAndGlyphs">0.0</text>
<text x="222.20" y="314.09" textLength="11.97" lengthAdjust="spacingAndGlyphs">0.0</text>
<text x="239.21" y="314.09" textLength="11.97" lengthAdjust="spacingAndGlyphs">0.0</text>
<text x="256.22" y="314.09" textLength="11.97" lengthAdjust="spacingAndGlyphs">0.0</text>
<text x="273.24" y="314.09" textLength="11.97" lengthAdjust="spacingAndGlyphs">0.0</text>
<text x="290.25" y="314.09" textLength="11.97" lengthAdjust="spacingAndGlyphs">0.0</text>
<text x="307.26" y="314.09" textLength="11.97" lengthAdjust="spacingAndGlyphs">0.0</text>
<text x="324.28" y="314.09" textLength="11.97" lengthAdjust="spacingAndGlyphs">0.0</text>
<text x="341.29" y="314.09" textLength="11.97" lengthAdjust="spacingAndGlyphs">0.0</text>
<text x="358.30" y="314.09" textLength="11.97" lengthAdjust="spacingAndGlyphs">0.0</text>
<text x="375.31" y="314.09" textLength="11.97" lengthAdjust="spacingAndGlyphs">0.0</text>
<text x="409.34" y="314.09" textLength="11.97" lengthAdjust="spacingAndGlyphs">0.0</text>
<text x="426.35" y="314.09" textLength="11.97" lengthAdjust="spacingAndGlyphs">0.0</text>
<text x="443.37" y="314.09" textLength="11.97" lengthAdjust="spacingAndGlyphs">0.0</text>
<text x="460.38" y="314.09" textLength="11.97" lengthAdjust="spacingAndGlyphs">0.0</text>
<text x="477.39" y="314.09" textLength="11.97" lengthAdjust="spacingAndGlyphs">0.0</text>
<text x="494.41" y="314.09" textLength="11.97" lengthAdjust="spacingAndGlyphs">0.0</text>
<text x="511.42" y="314.09" textLength="11.97" lengthAdjust="spacingAndGlyphs">0.0</text>
<text x="528.43" y="314.09" textLength="11.97" lengthAdjust="spacingAndGlyphs">0.0</text>
<text x="545.44" y="314.09" textLength="11.97" lengthAdjust="spacingAndGlyphs">0.0</text>
<text x="562.46" y="314.09" textLength="11.97" lengthAdjust="spacingAndGlyphs">0.0</text>
<text x="579.47" y="314.09" textLength="11.97" lengthAdjust="spacingAndGlyphs">0.0</text>
<text x="596.48" y="314.09" textLength="11.97" lengthAdjust="spacingAndGlyphs">0.0</text>
<text x="103.11" y="331.08" textLength="11.97" lengthAdjust="spacingAndGlyphs">0.0</text>
<text x="120.12" y="331.08" textLength="11.97" lengthAdjust="spacingAndGlyphs">0.0</text>
<text x="137.13" y="331.08" textLength="11.97" lengthAdjust="spacingAndGlyphs">0.0</text>
<text x="154.15" y="331.08" textLength="11.97" lengthAdjust="spacingAndGlyphs">0.0</text>
<text x="171.16" y="331.08" textLength="11.97" lengthAdjust="spacingAndGlyphs">0.0</text>
<text x="188.17" y="331.08" textLength="11.97" lengthAdjust="spacingAndGlyphs">0.0</text>
<text x="205.18" y="331.08" textLength="11.97" lengthAdjust="spacingAndGlyphs">0.0</text>
<text x="222.20" y="331.08" textLength="11.97" lengthAdjust="spacingAndGlyphs">0.0</text>
<text x="239.21" y="331.08" textLength="11.97" lengthAdjust="spacingAndGlyphs">0.0</text>
<text x="256.22" y="331.08" textLength="11.97" lengthAdjust="spacingAndGlyphs">0.0</text>
<text x="273.24" y="331.08" textLength="11.97" lengthAdjust="spacingAndGlyphs">0.0</text>
<text x="290.25" y="331.08" textLength="11.97" lengthAdjust="spacingAndGlyphs">0.0</text>
<text x="307.26" y="331.08" textLength="11.97" lengthAdjust="spacingAndGlyphs">0.0</text>
<text x="324.28" y="331.08" textLength="11.97" lengthAdjust="spacingAndGlyphs">0.0</text>
<text x="341.29" y="331.08" textLength="11.97" lengthAdjust="spacingAndGlyphs">0.0</text>
<text x="358.30" y="331.08" textLength="11.97" lengthAdjust="spacingAndGlyphs">0.0</text>
<text x="375.31" y="331.08" textLength="11.97" lengthAdjust="spacingAndGlyphs">0.0</text>
<text x="392.33" y="331.08" textLength="11.97" lengthAdjust="spacingAndGlyphs">0.0</text>
<text x="426.35" y="331.08" textLength="11.97" lengthAdjust="spacingAndGlyphs">0.0</text>
<text x="443.37" y="331.08" textLength="11.97" lengthAdjust="spacingAndGlyphs">0.0</text>
<text x="460.38" y="331.08" textLength="11.97" lengthAdjust="spacingAndGlyphs">0.0</text>
<text x="477.39" y="331.08" textLength="11.97" lengthAdjust="spacingAndGlyphs">0.0</text>
<text x="494.41" y="331.08" textLength="11.97" lengthAdjust="spacingAndGlyphs">0.0</text>
<text x="511.42" y="331.08" textLength="11.97" lengthAdjust="spacingAndGlyphs">0.0</text>
<text x="528.43" y="331.08" textLength="11.97" lengthAdjust="spacingAndGlyphs">0.0</text>
<text x="545.44" y="331.08" textLength="11.97" lengthAdjust="spacingAndGlyphs">0.0</text>
<text x="562.46" y="331.08" textLength="16.79" lengthAdjust="spacingAndGlyphs">0.01</text>
<text x="579.47" y="331.08" textLength="11.97" lengthAdjust="spacingAndGlyphs">0.0</text>
<text x="596.48" y="331.08" textLength="11.97" lengthAdjust="spacingAndGlyphs">0.0</text>
<text x="103.11" y="348.07" textLength="11.97" lengthAdjust="spacingAndGlyphs">0.0</text>
<text x="120.12" y="348.07" textLength="11.97" lengthAdjust="spacingAndGlyphs">0.0</text>
<text x="137.13" y="348.07" textLength="11.97" lengthAdjust="spacingAndGlyphs">0.0</text>
<text x="154.15" y="348.07" textLength="16.79" lengthAdjust="spacingAndGlyphs">0.01</text>
<text x="171.16" y="348.07" textLength="11.97" lengthAdjust="spacingAndGlyphs">0.0</text>
<text x="188.17" y="348.07" textLength="11.97" lengthAdjust="spacingAndGlyphs">0.0</text>
<text x="205.18" y="348.07" textLength="11.97" lengthAdjust="spacingAndGlyphs">0.0</text>
<text x="222.20" y="348.07" textLength="11.97" lengthAdjust="spacingAndGlyphs">0.0</text>
<text x="239.21" y="348.07" textLength="11.97" lengthAdjust="spacingAndGlyphs">0.0</text>
<text x="256.22" y="348.07" textLength="11.97" lengthAdjust="spacingAndGlyphs">0.0</text>
<text x="273.24" y="348.07" textLength="11.97" lengthAdjust="spacingAndGlyphs">0.0</text>
<text x="290.25" y="348.07" textLength="16.79" lengthAdjust="spacingAndGlyphs">0.01</text>
<text x="307.26" y="348.07" textLength="11.97" lengthAdjust="spacingAndGlyphs">0.0</text>
<text x="324.28" y="348.07" textLength="11.97" lengthAdjust="spacingAndGlyphs">0.0</text>
<text x="341.29" y="348.07" textLength="11.97" lengthAdjust="spacingAndGlyphs">0.0</text>
<text x="358.30" y="348.07" textLength="11.97" lengthAdjust="spacingAndGlyphs">0.0</text>
<text x="375.31" y="348.07" textLength="16.74" lengthAdjust="spacingAndGlyphs">0.02</text>
<text x="392.33" y="348.07" textLength="11.97" lengthAdjust="spacingAndGlyphs">0.0</text>
<text x="409.34" y="348.07" textLength="11.97" lengthAdjust="spacingAndGlyphs">0.0</text>
<text x="443.37" y="348.07" textLength="11.97" lengthAdjust="spacingAndGlyphs">0.0</text>
<text x="460.38" y="348.07" textLength="11.97" lengthAdjust="spacingAndGlyphs">0.0</text>
<text x="477.39" y="348.07" textLength="16.79" lengthAdjust="spacingAndGlyphs">0.01</text>
<text x="494.41" y="348.07" textLength="16.74" lengthAdjust="spacingAndGlyphs">0.02</text>
<text x="511.42" y="348.07" textLength="11.97" lengthAdjust="spacingAndGlyphs">0.0</text>
<text x="528.43" y="348.07" textLength="11.97" lengthAdjust="spacingAndGlyphs">0.0</text>
<text x="545.44" y="348.07" textLength="11.97" lengthAdjust="spacingAndGlyphs">0.0</text>
<text x="562.46" y="348.07" textLength="11.97" lengthAdjust="spacingAndGlyphs">0.0</text>
<text x="579.47" y="348.07" textLength="11.97" lengthAdjust="spacingAndGlyphs">0.0</text>
<text x="596.48" y="348.07" textLength="11.97" lengthAdjust="spacingAndGlyphs">0.0</text>
<text x="103.11" y="365.06" textLength="11.97" lengthAdjust="spacingAndGlyphs">0.0</text>
<text x="120.12" y="365.06" textLength="11.97" lengthAdjust="spacingAndGlyphs">0.0</text>
<text x="137.13" y="365.06" textLength="11.97" lengthAdjust="spacingAndGlyphs">0.0</text>
<text x="154.15" y="365.06" textLength="16.79" lengthAdjust="spacingAndGlyphs">0.01</text>
<text x="171.16" y="365.06" textLength="11.97" lengthAdjust="spacingAndGlyphs">0.0</text>
<text x="188.17" y="365.06" textLength="11.97" lengthAdjust="spacingAndGlyphs">0.0</text>
<text x="205.18" y="365.06" textLength="11.97" lengthAdjust="spacingAndGlyphs">0.0</text>
<text x="222.20" y="365.06" textLength="11.97" lengthAdjust="spacingAndGlyphs">0.0</text>
<text x="239.21" y="365.06" textLength="11.97" lengthAdjust="spacingAndGlyphs">0.0</text>
<text x="256.22" y="365.06" textLength="11.97" lengthAdjust="spacingAndGlyphs">0.0</text>
<text x="273.24" y="365.06" textLength="11.97" lengthAdjust="spacingAndGlyphs">0.0</text>
<text x="290.25" y="365.06" textLength="11.97" lengthAdjust="spacingAndGlyphs">0.0</text>
<text x="307.26" y="365.06" textLength="11.97" lengthAdjust="spacingAndGlyphs">0.0</text>
<text x="324.28" y="365.06" textLength="11.97" lengthAdjust="spacingAndGlyphs">0.0</text>
<text x="341.29" y="365.06" textLength="11.97" lengthAdjust="spacingAndGlyphs">0.0</text>
<text x="358.30" y="365.06" textLength="11.97" lengthAdjust="spacingAndGlyphs">0.0</text>
<text x="375.31" y="365.06" textLength="16.79" lengthAdjust="spacingAndGlyphs">0.01</text>
<text x="392.33" y="365.06" textLength="11.97" lengthAdjust="spacingAndGlyphs">0.0</text>
<text x="409.34" y="365.06" textLength="11.97" lengthAdjust="spacingAndGlyphs">0.0</text>
<text x="426.35" y="365.06" textLength="16.79" lengthAdjust="spacingAndGlyphs">0.01</text>
<text x="460.38" y="365.06" textLength="11.97" lengthAdjust="spacingAndGlyphs">0.0</text>
<text x="477.39" y="365.06" textLength="16.84" lengthAdjust="spacingAndGlyphs">0.03</text>
<text x="494.41" y="365.06" textLength="11.97" lengthAdjust="spacingAndGlyphs">0.0</text>
<text x="511.42" y="365.06" textLength="11.97" lengthAdjust="spacingAndGlyphs">0.0</text>
<text x="528.43" y="365.06" textLength="11.97" lengthAdjust="spacingAndGlyphs">0.0</text>
<text x="545.44" y="365.06" textLength="11.97" lengthAdjust="spacingAndGlyphs">0.0</text>
<text x="562.46" y="365.06" textLength="11.97" lengthAdjust="spacingAndGlyphs">0.0</text>
<text x="579.47" y="365.06" textLength="11.97" lengthAdjust="spacingAndGlyphs">0.0</text>
<text x="596.48" y="365.06" textLength="11.97" lengthAdjust="spacingAndGlyphs">0.0</text>
<text x="103.11" y="382.05" textLength="11.97" lengthAdjust="spacingAndGlyphs">0.0</text>
<text x="120.12" y="382.05" textLength="16.74" lengthAdjust="spacingAndGlyphs">0.02</text>
<text x="137.13" y="382.05" textLength="11.97" lengthAdjust="spacingAndGlyphs">0.0</text>
<text x="154.15" y="382.05" textLength="16.74" lengthAdjust="spacingAndGlyphs">0.02</text>
<text x="171.16" y="382.05" textLength="11.97" lengthAdjust="spacingAndGlyphs">0.0</text>
<text x="188.17" y="382.05" textLength="16.90" lengthAdjust="spacingAndGlyphs">0.04</text>
<text x="205.18" y="382.05" textLength="11.97" lengthAdjust="spacingAndGlyphs">0.0</text>
<text x="222.20" y="382.05" textLength="11.97" lengthAdjust="spacingAndGlyphs">0.0</text>
<text x="239.21" y="382.05" textLength="11.97" lengthAdjust="spacingAndGlyphs">0.0</text>
<text x="256.22" y="382.05" textLength="11.97" lengthAdjust="spacingAndGlyphs">0.0</text>
<text x="273.24" y="382.05" textLength="11.97" lengthAdjust="spacingAndGlyphs">0.0</text>
<text x="290.25" y="382.05" textLength="11.97" lengthAdjust="spacingAndGlyphs">0.0</text>
<text x="307.26" y="382.05" textLength="16.74" lengthAdjust="spacingAndGlyphs">0.02</text>
<text x="324.28" y="382.05" textLength="11.97" lengthAdjust="spacingAndGlyphs">0.0</text>
<text x="341.29" y="382.05" textLength="11.97" lengthAdjust="spacingAndGlyphs">0.0</text>
<text x="358.30" y="382.05" textLength="11.97" lengthAdjust="spacingAndGlyphs">0.0</text>
<text x="375.31" y="382.05" textLength="16.74" lengthAdjust="spacingAndGlyphs">0.02</text>
<text x="392.33" y="382.05" textLength="11.97" lengthAdjust="spacingAndGlyphs">0.0</text>
<text x="409.34" y="382.05" textLength="11.97" lengthAdjust="spacingAndGlyphs">0.0</text>
<text x="426.35" y="382.05" textLength="11.97" lengthAdjust="spacingAndGlyphs">0.0</text>
<text x="443.37" y="382.05" textLength="11.97" lengthAdjust="spacingAndGlyphs">0.0</text>
<text x="477.39" y="382.05" textLength="16.74" lengthAdjust="spacingAndGlyphs">0.02</text>
<text x="494.41" y="382.05" textLength="11.97" lengthAdjust="spacingAndGlyphs">0.0</text>
<text x="511.42" y="382.05" textLength="11.97" lengthAdjust="spacingAndGlyphs">0.0</text>
<text x="528.43" y="382.05" textLength="11.97" lengthAdjust="spacingAndGlyphs">0.0</text>
<text x="545.44" y="382.05" textLength="11.97" lengthAdjust="spacingAndGlyphs">0.0</text>
<text x="562.46" y="382.05" textLength="11.97" lengthAdjust="spacingAndGlyphs">0.0</text>
<text x="579.47" y="382.05" textLength="11.97" lengthAdjust="spacingAndGlyphs">0.0</text>
<text x="596.48" y="382.05" textLength="11.97" lengthAdjust="spacingAndGlyphs">0.0</text>
<text x="103.11" y="399.04" textLength="11.97" lengthAdjust="spacingAndGlyphs">0.0</text>
<text x="120.12" y="399.04" textLength="11.97" lengthAdjust="spacingAndGlyphs">0.0</text>
<text x="137.13" y="399.04" textLength="11.97" lengthAdjust="spacingAndGlyphs">0.0</text>
<text x="154.15" y="399.04" textLength="11.97" lengthAdjust="spacingAndGlyphs">0.0</text>
<text x="171.16" y="399.04" textLength="11.97" lengthAdjust="spacingAndGlyphs">0.0</text>
<text x="188.17" y="399.04" textLength="16.74" lengthAdjust="spacingAndGlyphs">0.02</text>
<text x="205.18" y="399.04" textLength="16.74" lengthAdjust="spacingAndGlyphs">0.02</text>
<text x="222.20" y="399.04" textLength="11.97" lengthAdjust="spacingAndGlyphs">0.0</text>
<text x="239.21" y="399.04" textLength="11.97" lengthAdjust="spacingAndGlyphs">0.0</text>
<text x="256.22" y="399.04" textLength="11.97" lengthAdjust="spacingAndGlyphs">0.0</text>
<text x="273.24" y="399.04" textLength="11.97" lengthAdjust="spacingAndGlyphs">0.0</text>
<text x="290.25" y="399.04" textLength="11.97" lengthAdjust="spacingAndGlyphs">0.0</text>
<text x="307.26" y="399.04" textLength="16.74" lengthAdjust="spacingAndGlyphs">0.02</text>
<text x="324.28" y="399.04" textLength="11.97" lengthAdjust="spacingAndGlyphs">0.0</text>
<text x="341.29" y="399.04" textLength="16.90" lengthAdjust="spacingAndGlyphs">0.04</text>
<text x="358.30" y="399.04" textLength="11.97" lengthAdjust="spacingAndGlyphs">0.0</text>
<text x="375.31" y="399.04" textLength="16.74" lengthAdjust="spacingAndGlyphs">0.02</text>
<text x="392.33" y="399.04" textLength="11.97" lengthAdjust="spacingAndGlyphs">0.0</text>
<text x="409.34" y="399.04" textLength="11.97" lengthAdjust="spacingAndGlyphs">0.0</text>
<text x="426.35" y="399.04" textLength="11.97" lengthAdjust="spacingAndGlyphs">0.0</text>
<text x="443.37" y="399.04" textLength="11.97" lengthAdjust="spacingAndGlyphs">0.0</text>
<text x="460.38" y="399.04" textLength="16.74" lengthAdjust="spacingAndGlyphs">0.02</text>
<text x="494.41" y="399.04" textLength="11.97" lengthAdjust="spacingAndGlyphs">0.0</text>
<text x="511.42" y="399.04" textLength="11.97" lengthAdjust="spacingAndGlyphs">0.0</text>
<text x="528.43" y="399.04" textLength="11.97" lengthAdjust="spacingAndGlyphs">0.0</text>
<text x="545.44" y="399.04" textLength="16.74" lengthAdjust="spacingAndGlyphs">0.02</text>
<text x="562.46" y="399.04" textLength="11.97" lengthAdjust="spacingAndGlyphs">0.0</text>
<text x="579.47" y="399.04" textLength="11.97" lengthAdjust="spacingAndGlyphs">0.0</text>
<text x="596.48" y="399.04" textLength="11.97" lengthAdjust="spacingAndGlyphs">0.0</text>
<text x="103.11" y="416.03" textLength="11.97" lengthAdjust="spacingAndGlyphs">0.0</text>
<text x="120.12" y="416.03" textLength="11.97" lengthAdjust="spacingAndGlyphs">0.0</text>
<text x="137.13" y="416.03" textLength="11.97" lengthAdjust="spacingAndGlyphs">0.0</text>
<text x="154.15" y="416.03" textLength="11.97" lengthAdjust="spacingAndGlyphs">0.0</text>
<text x="171.16" y="416.03" textLength="11.97" lengthAdjust="spacingAndGlyphs">0.0</text>
<text x="188.17" y="416.03" textLength="11.97" lengthAdjust="spacingAndGlyphs">0.0</text>
<text x="205.18" y="416.03" textLength="11.97" lengthAdjust="spacingAndGlyphs">0.0</text>
<text x="222.20" y="416.03" textLength="11.97" lengthAdjust="spacingAndGlyphs">0.0</text>
<text x="239.21" y="416.03" textLength="11.97" lengthAdjust="spacingAndGlyphs">0.0</text>
<text x="256.22" y="416.03" textLength="11.97" lengthAdjust="spacingAndGlyphs">0.0</text>
<text x="273.24" y="416.03" textLength="16.79" lengthAdjust="spacingAndGlyphs">0.01</text>
<text x="290.25" y="416.03" textLength="11.97" lengthAdjust="spacingAndGlyphs">0.0</text>
<text x="307.26" y="416.03" textLength="11.97" lengthAdjust="spacingAndGlyphs">0.0</text>
<text x="324.28" y="416.03" textLength="16.79" lengthAdjust="spacingAndGlyphs">0.01</text>
<text x="341.29" y="416.03" textLength="11.97" lengthAdjust="spacingAndGlyphs">0.0</text>
<text x="358.30" y="416.03" textLength="11.97" lengthAdjust="spacingAndGlyphs">0.0</text>
<text x="375.31" y="416.03" textLength="16.79" lengthAdjust="spacingAndGlyphs">0.01</text>
<text x="392.33" y="416.03" textLength="11.97" lengthAdjust="spacingAndGlyphs">0.0</text>
<text x="409.34" y="416.03" textLength="11.97" lengthAdjust="spacingAndGlyphs">0.0</text>
<text x="426.35" y="416.03" textLength="16.79" lengthAdjust="spacingAndGlyphs">0.01</text>
<text x="443.37" y="416.03" textLength="11.97" lengthAdjust="spacingAndGlyphs">0.0</text>
<text x="460.38" y="416.03" textLength="11.97" lengthAdjust="spacingAndGlyphs">0.0</text>
<text x="477.39" y="416.03" textLength="11.97" lengthAdjust="spacingAndGlyphs">0.0</text>
<text x="511.42" y="416.03" textLength="11.97" lengthAdjust="spacingAndGlyphs">0.0</text>
<text x="528.43" y="416.03" textLength="11.97" lengthAdjust="spacingAndGlyphs">0.0</text>
<text x="545.44" y="416.03" textLength="11.97" lengthAdjust="spacingAndGlyphs">0.0</text>
<text x="562.46" y="416.03" textLength="11.97" lengthAdjust="spacingAndGlyphs">0.0</text>
<text x="579.47" y="416.03" textLength="11.97" lengthAdjust="spacingAndGlyphs">0.0</text>
<text x="596.48" y="416.03" textLength="11.97" lengthAdjust="spacingAndGlyphs">0.0</text>
<text x="103.11" y="433.02" textLength="11.97" lengthAdjust="spacingAndGlyphs">0.0</text>
<text x="120.12" y="433.02" textLength="11.97" lengthAdjust="spacingAndGlyphs">0.0</text>
<text x="137.13" y="433.02" textLength="11.97" lengthAdjust="spacingAndGlyphs">0.0</text>
<text x="154.15" y="433.02" textLength="11.97" lengthAdjust="spacingAndGlyphs">0.0</text>
<text x="171.16" y="433.02" textLength="11.97" lengthAdjust="spacingAndGlyphs">0.0</text>
<text x="188.17" y="433.02" textLength="11.97" lengthAdjust="spacingAndGlyphs">0.0</text>
<text x="205.18" y="433.02" textLength="16.95" lengthAdjust="spacingAndGlyphs">0.09</text>
<text x="222.20" y="433.02" textLength="16.98" lengthAdjust="spacingAndGlyphs">0.06</text>
<text x="239.21" y="433.02" textLength="11.97" lengthAdjust="spacingAndGlyphs">0.0</text>
<text x="256.22" y="433.02" textLength="11.97" lengthAdjust="spacingAndGlyphs">0.0</text>
<text x="273.24" y="433.02" textLength="11.97" lengthAdjust="spacingAndGlyphs">0.0</text>
<text x="290.25" y="433.02" textLength="11.97" lengthAdjust="spacingAndGlyphs">0.0</text>
<text x="307.26" y="433.02" textLength="11.97" lengthAdjust="spacingAndGlyphs">0.0</text>
<text x="324.28" y="433.02" textLength="11.97" lengthAdjust="spacingAndGlyphs">0.0</text>
<text x="341.29" y="433.02" textLength="11.97" lengthAdjust="spacingAndGlyphs">0.0</text>
<text x="358.30" y="433.02" textLength="11.97" lengthAdjust="spacingAndGlyphs">0.0</text>
<text x="375.31" y="433.02" textLength="16.84" lengthAdjust="spacingAndGlyphs">0.03</text>
<text x="392.33" y="433.02" textLength="11.97" lengthAdjust="spacingAndGlyphs">0.0</text>
<text x="409.34" y="433.02" textLength="16.84" lengthAdjust="spacingAndGlyphs">0.03</text>
<text x="426.35" y="433.02" textLength="11.97" lengthAdjust="spacingAndGlyphs">0.0</text>
<text x="443.37" y="433.02" textLength="11.97" lengthAdjust="spacingAndGlyphs">0.0</text>
<text x="460.38" y="433.02" textLength="11.97" lengthAdjust="spacingAndGlyphs">0.0</text>
<text x="477.39" y="433.02" textLength="11.97" lengthAdjust="spacingAndGlyphs">0.0</text>
<text x="494.41" y="433.02" textLength="11.97" lengthAdjust="spacingAndGlyphs">0.0</text>
<text x="528.43" y="433.02" textLength="11.97" lengthAdjust="spacingAndGlyphs">0.0</text>
<text x="545.44" y="433.02" textLength="16.90" lengthAdjust="spacingAndGlyphs">0.04</text>
<text x="562.46" y="433.02" textLength="11.97" lengthAdjust="spacingAndGlyphs">0.0</text>
<text x="579.47" y="433.02" textLength="11.97" lengthAdjust="spacingAndGlyphs">0.0</text>
<text x="596.48" y="433.02" textLength="11.97" lengthAdjust="spacingAndGlyphs">0.0</text>
<text x="103.11" y="450.01" textLength="11.97" lengthAdjust="spacingAndGlyphs">0.0</text>
<text x="120.12" y="450.01" textLength="16.74" lengthAdjust="spacingAndGlyphs">0.02</text>
<text x="137.13" y="450.01" textLength="11.97" lengthAdjust="spacingAndGlyphs">0.0</text>
<text x="154.15" y="450.01" textLength="11.97" lengthAdjust="spacingAndGlyphs">0.0</text>
<text x="171.16" y="450.01" textLength="11.97" lengthAdjust="spacingAndGlyphs">0.0</text>
<text x="188.17" y="450.01" textLength="11.97" lengthAdjust="spacingAndGlyphs">0.0</text>
<text x="205.18" y="450.01" textLength="11.97" lengthAdjust="spacingAndGlyphs">0.0</text>
<text x="222.20" y="450.01" textLength="11.97" lengthAdjust="spacingAndGlyphs">0.0</text>
<text x="239.21" y="450.01" textLength="11.97" lengthAdjust="spacingAndGlyphs">0.0</text>
<text x="256.22" y="450.01" textLength="11.97" lengthAdjust="spacingAndGlyphs">0.0</text>
<text x="273.24" y="450.01" textLength="11.97" lengthAdjust="spacingAndGlyphs">0.0</text>
<text x="290.25" y="450.01" textLength="11.97" lengthAdjust="spacingAndGlyphs">0.0</text>
<text x="307.26" y="450.01" textLength="11.97" lengthAdjust="spacingAndGlyphs">0.0</text>
<text x="324.28" y="450.01" textLength="16.74" lengthAdjust="spacingAndGlyphs">0.02</text>
<text x="341.29" y="450.01" textLength="11.97" lengthAdjust="spacingAndGlyphs">0.0</text>
<text x="358.30" y="450.01" textLength="11.97" lengthAdjust="spacingAndGlyphs">0.0</text>
<text x="375.31" y="450.01" textLength="11.97" lengthAdjust="spacingAndGlyphs">0.0</text>
<text x="392.33" y="450.01" textLength="11.97" lengthAdjust="spacingAndGlyphs">0.0</text>
<text x="409.34" y="450.01" textLength="11.97" lengthAdjust="spacingAndGlyphs">0.0</text>
<text x="426.35" y="450.01" textLength="11.97" lengthAdjust="spacingAndGlyphs">0.0</text>
<text x="443.37" y="450.01" textLength="11.97" lengthAdjust="spacingAndGlyphs">0.0</text>
<text x="460.38" y="450.01" textLength="11.97" lengthAdjust="spacingAndGlyphs">0.0</text>
<text x="477.39" y="450.01" textLength="16.74" lengthAdjust="spacingAndGlyphs">0.02</text>
<text x="494.41" y="450.01" textLength="11.97" lengthAdjust="spacingAndGlyphs">0.0</text>
<text x="511.42" y="450.01" textLength="11.97" lengthAdjust="spacingAndGlyphs">0.0</text>
<text x="545.44" y="450.01" textLength="11.97" lengthAdjust="spacingAndGlyphs">0.0</text>
<text x="562.46" y="450.01" textLength="11.97" lengthAdjust="spacingAndGlyphs">0.0</text>
<text x="579.47" y="450.01" textLength="11.97" lengthAdjust="spacingAndGlyphs">0.0</text>
<text x="596.48" y="450.01" textLength="11.97" lengthAdjust="spacingAndGlyphs">0.0</text>
<text x="103.11" y="467.00" textLength="11.97" lengthAdjust="spacingAndGlyphs">0.0</text>
<text x="120.12" y="467.00" textLength="11.97" lengthAdjust="spacingAndGlyphs">0.0</text>
<text x="137.13" y="467.00" textLength="16.74" lengthAdjust="spacingAndGlyphs">0.02</text>
<text x="154.15" y="467.00" textLength="11.97" lengthAdjust="spacingAndGlyphs">0.0</text>
<text x="171.16" y="467.00" textLength="16.74" lengthAdjust="spacingAndGlyphs">0.02</text>
<text x="188.17" y="467.00" textLength="16.77" lengthAdjust="spacingAndGlyphs">0.05</text>
<text x="205.18" y="467.00" textLength="16.74" lengthAdjust="spacingAndGlyphs">0.02</text>
<text x="222.20" y="467.00" textLength="16.84" lengthAdjust="spacingAndGlyphs">0.03</text>
<text x="239.21" y="467.00" textLength="11.97" lengthAdjust="spacingAndGlyphs">0.0</text>
<text x="256.22" y="467.00" textLength="11.97" lengthAdjust="spacingAndGlyphs">0.0</text>
<text x="273.24" y="467.00" textLength="16.74" lengthAdjust="spacingAndGlyphs">0.02</text>
<text x="290.25" y="467.00" textLength="11.97" lengthAdjust="spacingAndGlyphs">0.0</text>
<text x="307.26" y="467.00" textLength="16.74" lengthAdjust="spacingAndGlyphs">0.02</text>
<text x="324.28" y="467.00" textLength="11.97" lengthAdjust="spacingAndGlyphs">0.0</text>
<text x="341.29" y="467.00" textLength="11.97" lengthAdjust="spacingAndGlyphs">0.0</text>
<text x="358.30" y="467.00" textLength="11.97" lengthAdjust="spacingAndGlyphs">0.0</text>
<text x="375.31" y="467.00" textLength="16.84" lengthAdjust="spacingAndGlyphs">0.03</text>
<text x="392.33" y="467.00" textLength="16.74" lengthAdjust="spacingAndGlyphs">0.02</text>
<text x="409.34" y="467.00" textLength="16.84" lengthAdjust="spacingAndGlyphs">0.03</text>
<text x="426.35" y="467.00" textLength="11.97" lengthAdjust="spacingAndGlyphs">0.0</text>
<text x="443.37" y="467.00" textLength="11.97" lengthAdjust="spacingAndGlyphs">0.0</text>
<text x="460.38" y="467.00" textLength="11.97" lengthAdjust="spacingAndGlyphs">0.0</text>
<text x="477.39" y="467.00" textLength="11.97" lengthAdjust="spacingAndGlyphs">0.0</text>
<text x="494.41" y="467.00" textLength="11.97" lengthAdjust="spacingAndGlyphs">0.0</text>
<text x="511.42" y="467.00" textLength="16.84" lengthAdjust="spacingAndGlyphs">0.03</text>
<text x="528.43" y="467.00" textLength="16.74" lengthAdjust="spacingAndGlyphs">0.02</text>
<text x="562.46" y="467.00" textLength="11.97" lengthAdjust="spacingAndGlyphs">0.0</text>
<text x="579.47" y="467.00" textLength="11.97" lengthAdjust="spacingAndGlyphs">0.0</text>
<text x="596.48" y="467.00" textLength="11.97" lengthAdjust="spacingAndGlyphs">0.0</text>
<text x="103.11" y="483.99" textLength="11.97" lengthAdjust="spacingAndGlyphs">0.0</text>
<text x="120.12" y="483.99" textLength="11.97" lengthAdjust="spacingAndGlyphs">0.0</text>
<text x="137.13" y="483.99" textLength="11.97" lengthAdjust="spacingAndGlyphs">0.0</text>
<text x="154.15" y="483.99" textLength="11.97" lengthAdjust="spacingAndGlyphs">0.0</text>
<text x="171.16" y="483.99" textLength="11.97" lengthAdjust="spacingAndGlyphs">0.0</text>
<text x="188.17" y="483.99" textLength="16.74" lengthAdjust="spacingAndGlyphs">0.02</text>
<text x="205.18" y="483.99" textLength="11.97" lengthAdjust="spacingAndGlyphs">0.0</text>
<text x="222.20" y="483.99" textLength="11.97" lengthAdjust="spacingAndGlyphs">0.0</text>
<text x="239.21" y="483.99" textLength="11.97" lengthAdjust="spacingAndGlyphs">0.0</text>
<text x="256.22" y="483.99" textLength="11.97" lengthAdjust="spacingAndGlyphs">0.0</text>
<text x="273.24" y="483.99" textLength="11.97" lengthAdjust="spacingAndGlyphs">0.0</text>
<text x="290.25" y="483.99" textLength="11.97" lengthAdjust="spacingAndGlyphs">0.0</text>
<text x="307.26" y="483.99" textLength="11.97" lengthAdjust="spacingAndGlyphs">0.0</text>
<text x="324.28" y="483.99" textLength="11.97" lengthAdjust="spacingAndGlyphs">0.0</text>
<text x="341.29" y="483.99" textLength="11.97" lengthAdjust="spacingAndGlyphs">0.0</text>
<text x="358.30" y="483.99" textLength="11.97" lengthAdjust="spacingAndGlyphs">0.0</text>
<text x="375.31" y="483.99" textLength="11.97" lengthAdjust="spacingAndGlyphs">0.0</text>
<text x="392.33" y="483.99" textLength="11.97" lengthAdjust="spacingAndGlyphs">0.0</text>
<text x="409.34" y="483.99" textLength="11.97" lengthAdjust="spacingAndGlyphs">0.0</text>
<text x="426.35" y="483.99" textLength="11.97" lengthAdjust="spacingAndGlyphs">0.0</text>
<text x="443.37" y="483.99" textLength="11.97" lengthAdjust="spacingAndGlyphs">0.0</text>
<text x="460.38" y="483.99" textLength="11.97" lengthAdjust="spacingAndGlyphs">0.0</text>
<text x="477.39" y="483.99" textLength="11.97" lengthAdjust="spacingAndGlyphs">0.0</text>
<text x="494.41" y="483.99" textLength="11.97" lengthAdjust="spacingAndGlyphs">0.0</text>
<text x="511.42" y="483.99" textLength="11.97" lengthAdjust="spacingAndGlyphs">0.0</text>
<text x="528.43" y="483.99" textLength="11.97" lengthAdjust="spacingAndGlyphs">0.0</text>
<text x="545.44" y="483.99" textLength="16.84" lengthAdjust="spacingAndGlyphs">0.03</text>
<text x="579.47" y="483.99" textLength="11.97" lengthAdjust="spacingAndGlyphs">0.0</text>
<text x="596.48" y="483.99" textLength="11.97" lengthAdjust="spacingAndGlyphs">0.0</text>
<text x="103.11" y="500.98" textLength="11.97" lengthAdjust="spacingAndGlyphs">0.0</text>
<text x="120.12" y="500.98" textLength="11.97" lengthAdjust="spacingAndGlyphs">0.0</text>
<text x="137.13" y="500.98" textLength="11.97" lengthAdjust="spacingAndGlyphs">0.0</text>
<text x="154.15" y="500.98" textLength="11.97" lengthAdjust="spacingAndGlyphs">0.0</text>
<text x="171.16" y="500.98" textLength="11.97" lengthAdjust="spacingAndGlyphs">0.0</text>
<text x="188.17" y="500.98" textLength="16.79" lengthAdjust="spacingAndGlyphs">0.01</text>
<text x="205.18" y="500.98" textLength="11.97" lengthAdjust="spacingAndGlyphs">0.0</text>
<text x="222.20" y="500.98" textLength="16.79" lengthAdjust="spacingAndGlyphs">0.01</text>
<text x="239.21" y="500.98" textLength="11.97" lengthAdjust="spacingAndGlyphs">0.0</text>
<text x="256.22" y="500.98" textLength="11.97" lengthAdjust="spacingAndGlyphs">0.0</text>
<text x="273.24" y="500.98" textLength="11.97" lengthAdjust="spacingAndGlyphs">0.0</text>
<text x="290.25" y="500.98" textLength="11.97" lengthAdjust="spacingAndGlyphs">0.0</text>
<text x="307.26" y="500.98" textLength="11.97" lengthAdjust="spacingAndGlyphs">0.0</text>
<text x="324.28" y="500.98" textLength="11.97" lengthAdjust="spacingAndGlyphs">0.0</text>
<text x="341.29" y="500.98" textLength="11.97" lengthAdjust="spacingAndGlyphs">0.0</text>
<text x="358.30" y="500.98" textLength="11.97" lengthAdjust="spacingAndGlyphs">0.0</text>
<text x="375.31" y="500.98" textLength="11.97" lengthAdjust="spacingAndGlyphs">0.0</text>
<text x="392.33" y="500.98" textLength="11.97" lengthAdjust="spacingAndGlyphs">0.0</text>
<text x="409.34" y="500.98" textLength="11.97" lengthAdjust="spacingAndGlyphs">0.0</text>
<text x="426.35" y="500.98" textLength="11.97" lengthAdjust="spacingAndGlyphs">0.0</text>
<text x="443.37" y="500.98" textLength="11.97" lengthAdjust="spacingAndGlyphs">0.0</text>
<text x="460.38" y="500.98" textLength="11.97" lengthAdjust="spacingAndGlyphs">0.0</text>
<text x="477.39" y="500.98" textLength="11.97" lengthAdjust="spacingAndGlyphs">0.0</text>
<text x="494.41" y="500.98" textLength="11.97" lengthAdjust="spacingAndGlyphs">0.0</text>
<text x="511.42" y="500.98" textLength="11.97" lengthAdjust="spacingAndGlyphs">0.0</text>
<text x="528.43" y="500.98" textLength="11.97" lengthAdjust="spacingAndGlyphs">0.0</text>
<text x="545.44" y="500.98" textLength="11.97" lengthAdjust="spacingAndGlyphs">0.0</text>
<text x="562.46" y="500.98" textLength="11.97" lengthAdjust="spacingAndGlyphs">0.0</text>
<text x="596.48" y="500.98" textLength="11.97" lengthAdjust="spacingAndGlyphs">0.0</text>
<text x="103.11" y="517.97" textLength="11.97" lengthAdjust="spacingAndGlyphs">0.0</text>
<text x="120.12" y="517.97" textLength="11.97" lengthAdjust="spacingAndGlyphs">0.0</text>
<text x="137.13" y="517.97" textLength="11.97" lengthAdjust="spacingAndGlyphs">0.0</text>
<text x="154.15" y="517.97" textLength="11.97" lengthAdjust="spacingAndGlyphs">0.0</text>
<text x="171.16" y="517.97" textLength="16.79" lengthAdjust="spacingAndGlyphs">0.01</text>
<text x="188.17" y="517.97" textLength="11.97" lengthAdjust="spacingAndGlyphs">0.0</text>
<text x="205.18" y="517.97" textLength="11.97" lengthAdjust="spacingAndGlyphs">0.0</text>
<text x="222.20" y="517.97" textLength="11.97" lengthAdjust="spacingAndGlyphs">0.0</text>
<text x="239.21" y="517.97" textLength="11.97" lengthAdjust="spacingAndGlyphs">0.0</text>
<text x="256.22" y="517.97" textLength="11.97" lengthAdjust="spacingAndGlyphs">0.0</text>
<text x="273.24" y="517.97" textLength="11.97" lengthAdjust="spacingAndGlyphs">0.0</text>
<text x="290.25" y="517.97" textLength="11.97" lengthAdjust="spacingAndGlyphs">0.0</text>
<text x="307.26" y="517.97" textLength="11.97" lengthAdjust="spacingAndGlyphs">0.0</text>
<text x="324.28" y="517.97" textLength="11.97" lengthAdjust="spacingAndGlyphs">0.0</text>
<text x="341.29" y="517.97" textLength="11.97" lengthAdjust="spacingAndGlyphs">0.0</text>
<text x="358.30" y="517.97" textLength="11.97" lengthAdjust="spacingAndGlyphs">0.0</text>
<text x="375.31" y="517.97" textLength="11.97" lengthAdjust="spacingAndGlyphs">0.0</text>
<text x="392.33" y="517.97" textLength="11.97" lengthAdjust="spacingAndGlyphs">0.0</text>
<text x="409.34" y="517.97" textLength="11.97" lengthAdjust="spacingAndGlyphs">0.0</text>
<text x="426.35" y="517.97" textLength="11.97" lengthAdjust="spacingAndGlyphs">0.0</text>
<text x="443.37" y="517.97" textLength="11.97" lengthAdjust="spacingAndGlyphs">0.0</text>
<text x="460.38" y="517.97" textLength="11.97" lengthAdjust="spacingAndGlyphs">0.0</text>
<text x="477.39" y="517.97" textLength="11.97" lengthAdjust="spacingAndGlyphs">0.0</text>
<text x="494.41" y="517.97" textLength="11.97" lengthAdjust="spacingAndGlyphs">0.0</text>
<text x="511.42" y="517.97" textLength="16.79" lengthAdjust="spacingAndGlyphs">0.01</text>
<text x="528.43" y="517.97" textLength="11.97" lengthAdjust="spacingAndGlyphs">0.0</text>
<text x="545.44" y="517.97" textLength="16.79" lengthAdjust="spacingAndGlyphs">0.01</text>
<text x="562.46" y="517.97" textLength="11.97" lengthAdjust="spacingAndGlyphs">0.0</text>
<text x="579.47" y="517.97" textLength="11.97" lengthAdjust="spacingAndGlyphs">0.0</text>
</g>
<g class="w" font-size="8.24" text-anchor="middle" fill="#fff"><text x="103.11" y="25.26" textLength="16.77" lengthAdjust="spacingAndGlyphs">0.95</text><text x="120.12" y="42.25" textLength="16.93" lengthAdjust="spacingAndGlyphs">0.98</text><text x="137.13" y="59.24" textLength="16.84" lengthAdjust="spacingAndGlyphs">0.93</text><text x="154.15" y="76.23" textLength="11.95" lengthAdjust="spacingAndGlyphs">1.0</text><text x="171.16" y="93.22" textLength="11.95" lengthAdjust="spacingAndGlyphs">1.0</text><text x="188.17" y="110.21" textLength="12.02" lengthAdjust="spacingAndGlyphs">0.9</text><text x="205.18" y="127.20" textLength="16.86" lengthAdjust="spacingAndGlyphs">0.97</text><text x="222.20" y="144.19" textLength="16.74" lengthAdjust="spacingAndGlyphs">0.82</text><text x="239.21" y="161.18" textLength="12.02" lengthAdjust="spacingAndGlyphs">0.9</text><text x="256.22" y="178.17" textLength="11.95" lengthAdjust="spacingAndGlyphs">1.0</text><text x="273.24" y="195.16" textLength="16.84" lengthAdjust="spacingAndGlyphs">0.93</text><text x="290.25" y="212.15" textLength="11.95" lengthAdjust="spacingAndGlyphs">1.0</text><text x="307.26" y="229.14" textLength="16.95" lengthAdjust="spacingAndGlyphs">0.89</text><text x="324.28" y="246.13" textLength="16.90" lengthAdjust="spacingAndGlyphs">0.94</text><text x="341.29" y="263.12" textLength="16.77" lengthAdjust="spacingAndGlyphs">0.95</text><text x="358.30" y="280.11" textLength="16.95" lengthAdjust="spacingAndGlyphs">0.99</text><text x="375.31" y="297.10" textLength="16.93" lengthAdjust="spacingAndGlyphs">0.78</text><text x="392.33" y="314.09" textLength="11.95" lengthAdjust="spacingAndGlyphs">1.0</text><text x="409.34" y="331.08" textLength="16.95" lengthAdjust="spacingAndGlyphs">0.99</text><text x="426.35" y="348.07" textLength="16.74" lengthAdjust="spacingAndGlyphs">0.92</text><text x="443.37" y="365.06" textLength="16.90" lengthAdjust="spacingAndGlyphs">0.94</text><text x="460.38" y="382.05" textLength="16.86" lengthAdjust="spacingAndGlyphs">0.87</text><text x="477.39" y="399.04" textLength="16.77" lengthAdjust="spacingAndGlyphs">0.85</text><text x="494.41" y="416.03" textLength="16.77" lengthAdjust="spacingAndGlyphs">0.95</text><text x="511.42" y="433.02" textLength="16.98" lengthAdjust="spacingAndGlyphs">0.76</text><text x="528.43" y="450.01" textLength="16.90" lengthAdjust="spacingAndGlyphs">0.94</text><text x="545.44" y="467.00" textLength="16.84" lengthAdjust="spacingAndGlyphs">0.73</text><text x="562.46" y="483.99" textLength="16.77" lengthAdjust="spacingAndGlyphs">0.95</text><text x="579.47" y="500.98" textLength="16.86" lengthAdjust="spacingAndGlyphs">0.97</text><text x="596.48" y="517.97" textLength="16.86" lengthAdjust="spacingAndGlyphs">0.97</text></g>
<rect x="94.60" y="14.00" width="510.39" height="510.51" fill="none" stroke="#222" stroke-width="0.95"/>
<path d="M91.60 22.50H94.60M103.50 524.51V527.51M91.60 39.50H94.60M120.50 524.51V527.51M91.60 56.50H94.60M137.50 524.51V527.51M91.60 73.50H94.60M154.50 524.51V527.51M91.60 90.50H94.60M171.50 524.51V527.51M91.60 107.50H94.60M188.50 524.51V527.51M91.60 124.50H94.60M205.50 524.51V527.51M91.60 141.50H94.60M222.50 524.51V527.51M91.60 158.50H94.60M239.50 524.51V527.51M91.60 175.50H94.60M256.50 524.51V527.51M91.60 192.50H94.60M273.50 524.51V527.51M91.60 209.50H94.60M290.50 524.51V527.51M91.60 226.50H94.60M307.50 524.51V527.51M91.60 243.50H94.60M324.50 524.51V527.51M91.60 260.50H94.60M341.50 524.51V527.51M91.60 277.50H94.60M358.50 524.51V527.51M91.60 294.50H94.60M375.50 524.51V527.51M91.60 311.50H94.60M392.50 524.51V527.51M91.60 328.50H94.60M409.50 524.51V527.51M91.60 345.50H94.60M426.50 524.51V527.51M91.60 362.50H94.60M443.50 524.51V527.51M91.60 379.50H94.60M460.50 524.51V527.51M91.60 396.50H94.60M477.50 524.51V527.51M91.60 413.50H94.60M494.50 524.51V527.51M91.60 430.50H94.60M511.50 524.51V527.51M91.60 447.50H94.60M528.50 524.51V527.51M91.60 464.50H94.60M545.50 524.51V527.51M91.60 481.50H94.60M562.50 524.51V527.51M91.60 498.50H94.60M579.50 524.51V527.51M91.60 516.50H94.60M596.50 524.51V527.51" stroke="#2a2a2a" stroke-width="1" fill="none"/>
<g class="k" font-size="8.24" text-anchor="end" fill="#1a1a1a">
<text x="88.10" y="25.96" textLength="26.36" lengthAdjust="spacingAndGlyphs">Airport</text>
<text x="88.10" y="42.95" textLength="36.69" lengthAdjust="spacingAndGlyphs">BareLand</text>
<text x="88.10" y="59.94" textLength="51.08" lengthAdjust="spacingAndGlyphs">BaseballField</text>
<text x="88.10" y="76.93" textLength="23.82" lengthAdjust="spacingAndGlyphs">Beach</text>
<text x="88.10" y="93.92" textLength="25.19" lengthAdjust="spacingAndGlyphs">Bridge</text>
<text x="88.10" y="110.91" textLength="26.24" lengthAdjust="spacingAndGlyphs">Center</text>
<text x="88.10" y="127.90" textLength="27.49" lengthAdjust="spacingAndGlyphs">Church</text>
<text x="88.10" y="144.89" textLength="46.38" lengthAdjust="spacingAndGlyphs">Commercial</text>
<text x="88.10" y="161.88" textLength="67.28" lengthAdjust="spacingAndGlyphs">DenseResidential</text>
<text x="88.10" y="178.87" textLength="25.60" lengthAdjust="spacingAndGlyphs">Desert</text>
<text x="88.10" y="195.86" textLength="36.48" lengthAdjust="spacingAndGlyphs">Farmland</text>
<text x="88.10" y="212.85" textLength="24.04" lengthAdjust="spacingAndGlyphs">Forest</text>
<text x="88.10" y="229.84" textLength="36.28" lengthAdjust="spacingAndGlyphs">Industrial</text>
<text x="88.10" y="246.83" textLength="31.79" lengthAdjust="spacingAndGlyphs">Meadow</text>
<text x="88.10" y="263.82" textLength="73.83" lengthAdjust="spacingAndGlyphs">MediumResidential</text>
<text x="88.10" y="280.81" textLength="35.97" lengthAdjust="spacingAndGlyphs">Mountain</text>
<text x="88.10" y="297.80" textLength="16.98" lengthAdjust="spacingAndGlyphs">Park</text>
<text x="88.10" y="314.79" textLength="28.86" lengthAdjust="spacingAndGlyphs">Parking</text>
<text x="88.10" y="331.78" textLength="43.55" lengthAdjust="spacingAndGlyphs">Playground</text>
<text x="88.10" y="348.77" textLength="18.97" lengthAdjust="spacingAndGlyphs">Pond</text>
<text x="88.10" y="365.76" textLength="15.45" lengthAdjust="spacingAndGlyphs">Port</text>
<text x="88.10" y="382.75" textLength="57.53" lengthAdjust="spacingAndGlyphs">RailwayStation</text>
<text x="88.10" y="399.74" textLength="24.97" lengthAdjust="spacingAndGlyphs">Resort</text>
<text x="88.10" y="416.73" textLength="20.17" lengthAdjust="spacingAndGlyphs">River</text>
<text x="88.10" y="433.72" textLength="25.43" lengthAdjust="spacingAndGlyphs">School</text>
<text x="88.10" y="450.71" textLength="69.34" lengthAdjust="spacingAndGlyphs">SparseResidential</text>
<text x="88.10" y="467.70" textLength="27.29" lengthAdjust="spacingAndGlyphs">Square</text>
<text x="88.10" y="484.69" textLength="32.04" lengthAdjust="spacingAndGlyphs">Stadium</text>
<text x="88.10" y="501.68" textLength="53.05" lengthAdjust="spacingAndGlyphs">StorageTanks</text>
<text x="88.10" y="518.67" textLength="29.19" lengthAdjust="spacingAndGlyphs">Viaduct</text>
</g>
<g class="k" font-size="8.24" text-anchor="end" fill="#1a1a1a">
<text x="109.51" y="533.42" transform="rotate(-70 109.51 533.42)" textLength="26.36" lengthAdjust="spacingAndGlyphs">Airport</text>
<text x="128.29" y="533.42" transform="rotate(-70 128.29 533.42)" textLength="36.69" lengthAdjust="spacingAndGlyphs">BareLand</text>
<text x="147.76" y="533.42" transform="rotate(-70 147.76 533.42)" textLength="51.08" lengthAdjust="spacingAndGlyphs">BaseballField</text>
<text x="160.11" y="533.42" transform="rotate(-70 160.11 533.42)" textLength="23.82" lengthAdjust="spacingAndGlyphs">Beach</text>
<text x="177.36" y="533.42" transform="rotate(-70 177.36 533.42)" textLength="25.19" lengthAdjust="spacingAndGlyphs">Bridge</text>
<text x="194.55" y="533.42" transform="rotate(-70 194.55 533.42)" textLength="26.24" lengthAdjust="spacingAndGlyphs">Center</text>
<text x="211.78" y="533.42" transform="rotate(-70 211.78 533.42)" textLength="27.49" lengthAdjust="spacingAndGlyphs">Church</text>
<text x="232.02" y="533.42" transform="rotate(-70 232.02 533.42)" textLength="46.38" lengthAdjust="spacingAndGlyphs">Commercial</text>
<text x="252.61" y="533.42" transform="rotate(-70 252.61 533.42)" textLength="67.28" lengthAdjust="spacingAndGlyphs">DenseResidential</text>
<text x="262.49" y="533.42" transform="rotate(-70 262.49 533.42)" textLength="25.60" lengthAdjust="spacingAndGlyphs">Desert</text>
<text x="281.37" y="533.42" transform="rotate(-70 281.37 533.42)" textLength="36.48" lengthAdjust="spacingAndGlyphs">Farmland</text>
<text x="296.25" y="533.42" transform="rotate(-70 296.25 533.42)" textLength="24.04" lengthAdjust="spacingAndGlyphs">Forest</text>
<text x="315.36" y="533.42" transform="rotate(-70 315.36 533.42)" textLength="36.28" lengthAdjust="spacingAndGlyphs">Industrial</text>
<text x="331.60" y="533.42" transform="rotate(-70 331.60 533.42)" textLength="31.79" lengthAdjust="spacingAndGlyphs">Meadow</text>
<text x="355.81" y="533.42" transform="rotate(-70 355.81 533.42)" textLength="73.83" lengthAdjust="spacingAndGlyphs">MediumResidential</text>
<text x="366.35" y="533.42" transform="rotate(-70 366.35 533.42)" textLength="35.97" lengthAdjust="spacingAndGlyphs">Mountain</text>
<text x="380.11" y="533.42" transform="rotate(-70 380.11 533.42)" textLength="16.98" lengthAdjust="spacingAndGlyphs">Park</text>
<text x="399.16" y="533.42" transform="rotate(-70 399.16 533.42)" textLength="28.86" lengthAdjust="spacingAndGlyphs">Parking</text>
<text x="418.68" y="533.42" transform="rotate(-70 418.68 533.42)" textLength="43.55" lengthAdjust="spacingAndGlyphs">Playground</text>
<text x="431.49" y="533.42" transform="rotate(-70 431.49 533.42)" textLength="18.97" lengthAdjust="spacingAndGlyphs">Pond</text>
<text x="447.90" y="533.42" transform="rotate(-70 447.90 533.42)" textLength="15.45" lengthAdjust="spacingAndGlyphs">Port</text>
<text x="472.11" y="533.42" transform="rotate(-70 472.11 533.42)" textLength="57.53" lengthAdjust="spacingAndGlyphs">RailwayStation</text>
<text x="483.56" y="533.42" transform="rotate(-70 483.56 533.42)" textLength="24.97" lengthAdjust="spacingAndGlyphs">Resort</text>
<text x="499.75" y="533.42" transform="rotate(-70 499.75 533.42)" textLength="20.17" lengthAdjust="spacingAndGlyphs">River</text>
<text x="517.66" y="533.42" transform="rotate(-70 517.66 533.42)" textLength="25.43" lengthAdjust="spacingAndGlyphs">School</text>
<text x="542.18" y="533.42" transform="rotate(-70 542.18 533.42)" textLength="69.34" lengthAdjust="spacingAndGlyphs">SparseResidential</text>
<text x="552.01" y="533.42" transform="rotate(-70 552.01 533.42)" textLength="27.29" lengthAdjust="spacingAndGlyphs">Square</text>
<text x="569.83" y="533.42" transform="rotate(-70 569.83 533.42)" textLength="32.04" lengthAdjust="spacingAndGlyphs">Stadium</text>
<text x="590.44" y="533.42" transform="rotate(-70 590.44 533.42)" textLength="53.05" lengthAdjust="spacingAndGlyphs">StorageTanks</text>
<text x="603.37" y="533.42" transform="rotate(-70 603.37 533.42)" textLength="29.19" lengthAdjust="spacingAndGlyphs">Viaduct</text>
</g>
<text class="k" x="349.80" y="613.20" font-size="8.24" text-anchor="middle" fill="#1a1a1a" textLength="45.15" lengthAdjust="spacingAndGlyphs">True Labels</text>
<text class="k" x="0" y="0" transform="translate(7.9 269.25) rotate(-90)" font-size="8.24" text-anchor="middle" fill="#1a1a1a" textLength="63.97" lengthAdjust="spacingAndGlyphs">Predicted Labels</text>
<text class="k" x="349.80" y="9.50" font-size="9.99" text-anchor="middle" fill="#1a1a1a" textLength="80.21" lengthAdjust="spacingAndGlyphs">Confusion matrix</text>
<rect x="640.4" y="14.00" width="25.00" height="510.51" fill="url(#cb)" stroke="#222" stroke-width="0.9"/>
<g class="k" font-size="8.24" fill="#1a1a1a">
<text x="671.40" y="527.36" textLength="11.97" lengthAdjust="spacingAndGlyphs">0.0</text>
<text x="671.40" y="425.26" textLength="11.80" lengthAdjust="spacingAndGlyphs">0.2</text>
<text x="671.40" y="323.16" textLength="11.97" lengthAdjust="spacingAndGlyphs">0.4</text>
<text x="671.40" y="221.05" textLength="12.05" lengthAdjust="spacingAndGlyphs">0.6</text>
<text x="671.40" y="118.95" textLength="12.00" lengthAdjust="spacingAndGlyphs">0.8</text>
<text x="671.40" y="16.85" textLength="11.95" lengthAdjust="spacingAndGlyphs">1.0</text>
</g>
<path d="M665.40 524.51H668.90M665.40 422.41H668.90M665.40 320.31H668.90M665.40 218.20H668.90M665.40 116.10H668.90M665.40 14.00H668.90" stroke="#2a2a2a" stroke-width="1" fill="none"/>
<text class="s" x="3.0" y="609.2" font-size="20" letter-spacing="0.5" fill="#111" stroke="#111" stroke-width="0.35">(a)</text>
<rect x="94.85" y="656.00" width="510.60" height="510.66" fill="#f7fbff"/>
<rect x="94.85" y="656.00" width="17.04" height="17.04" fill="#083776"/>
<rect x="213.99" y="656.00" width="17.04" height="17.04" fill="#f5fafe"/>
<rect x="367.17" y="656.00" width="17.04" height="17.04" fill="#f5fafe"/>
<rect x="401.21" y="656.00" width="17.04" height="17.04" fill="#f5fafe"/>
<rect x="503.33" y="656.00" width="17.04" height="17.04" fill="#f5fafe"/>
<rect x="537.37" y="656.00" width="17.04" height="17.04" fill="#f5fafe"/>
<rect x="111.87" y="673.02" width="17.04" height="17.04" fill="#083776"/>
<rect x="248.03" y="673.02" width="17.04" height="17.04" fill="#f2f7fd"/>
<rect x="128.89" y="690.04" width="17.04" height="17.04" fill="#08306b"/>
<rect x="145.91" y="707.07" width="17.04" height="17.04" fill="#08326e"/>
<rect x="248.03" y="707.07" width="17.04" height="17.04" fill="#f5fafe"/>
<rect x="282.07" y="707.07" width="17.04" height="17.04" fill="#f5fafe"/>
<rect x="162.93" y="724.09" width="17.04" height="17.04" fill="#083573"/>
<rect x="265.05" y="724.09" width="17.04" height="17.04" fill="#f5fafe"/>
<rect x="418.23" y="724.09" width="17.04" height="17.04" fill="#f5fafe"/>
<rect x="588.43" y="724.09" width="17.04" height="17.04" fill="#f5fafe"/>
<rect x="94.85" y="741.11" width="17.04" height="17.04" fill="#f5fafe"/>
<rect x="128.89" y="741.11" width="17.04" height="17.04" fill="#f5fafe"/>
<rect x="179.95" y="741.11" width="17.04" height="17.04" fill="#084f99"/>
<rect x="196.97" y="741.11" width="17.04" height="17.04" fill="#f5fafe"/>
<rect x="213.99" y="741.11" width="17.04" height="17.04" fill="#f5fafe"/>
<rect x="231.01" y="741.11" width="17.04" height="17.04" fill="#f5fafe"/>
<rect x="299.09" y="741.11" width="17.04" height="17.04" fill="#f5fafe"/>
<rect x="367.17" y="741.11" width="17.04" height="17.04" fill="#f5fafe"/>
<rect x="452.27" y="741.11" width="17.04" height="17.04" fill="#f5fafe"/>
<rect x="537.37" y="741.11" width="17.04" height="17.04" fill="#f2f7fd"/>
<rect x="554.39" y="741.11" width="17.04" height="17.04" fill="#f5fafe"/>
<rect x="179.95" y="758.13" width="17.04" height="17.04" fill="#f3f8fe"/>
<rect x="196.97" y="758.13" width="17.04" height="17.04" fill="#083573"/>
<rect x="179.95" y="775.15" width="17.04" height="17.04" fill="#f5fafe"/>
<rect x="213.99" y="775.15" width="17.04" height="17.04" fill="#084d96"/>
<rect x="231.01" y="775.15" width="17.04" height="17.04" fill="#f5fafe"/>
<rect x="367.17" y="775.15" width="17.04" height="17.04" fill="#f5fafe"/>
<rect x="435.25" y="775.15" width="17.04" height="17.04" fill="#f5fafe"/>
<rect x="452.27" y="775.15" width="17.04" height="17.04" fill="#f5fafe"/>
<rect x="469.29" y="775.15" width="17.04" height="17.04" fill="#f5fafe"/>
<rect x="503.33" y="775.15" width="17.04" height="17.04" fill="#eff6fc"/>
<rect x="537.37" y="775.15" width="17.04" height="17.04" fill="#f3f8fe"/>
<rect x="571.41" y="775.15" width="17.04" height="17.04" fill="#f5fafe"/>
<rect x="213.99" y="792.18" width="17.04" height="17.04" fill="#f5fafe"/>
<rect x="231.01" y="792.18" width="17.04" height="17.04" fill="#083776"/>
<rect x="333.13" y="792.18" width="17.04" height="17.04" fill="#f5fafe"/>
<rect x="145.91" y="809.20" width="17.04" height="17.04" fill="#f5fafe"/>
<rect x="248.03" y="809.20" width="17.04" height="17.04" fill="#08326e"/>
<rect x="111.87" y="826.22" width="17.04" height="17.04" fill="#f5fafe"/>
<rect x="265.05" y="826.22" width="17.04" height="17.04" fill="#083573"/>
<rect x="316.11" y="826.22" width="17.04" height="17.04" fill="#f5fafe"/>
<rect x="520.35" y="826.22" width="17.04" height="17.04" fill="#f5fafe"/>
<rect x="282.07" y="843.24" width="17.04" height="17.04" fill="#08326e"/>
<rect x="486.31" y="843.24" width="17.04" height="17.04" fill="#f5fafe"/>
<rect x="179.95" y="860.26" width="17.04" height="17.04" fill="#f5fafe"/>
<rect x="196.97" y="860.26" width="17.04" height="17.04" fill="#f3f8fe"/>
<rect x="213.99" y="860.26" width="17.04" height="17.04" fill="#f5fafe"/>
<rect x="299.09" y="860.26" width="17.04" height="17.04" fill="#084d96"/>
<rect x="452.27" y="860.26" width="17.04" height="17.04" fill="#f5fafe"/>
<rect x="469.29" y="860.26" width="17.04" height="17.04" fill="#f3f8fe"/>
<rect x="503.33" y="860.26" width="17.04" height="17.04" fill="#f5fafe"/>
<rect x="282.07" y="877.29" width="17.04" height="17.04" fill="#f5fafe"/>
<rect x="316.11" y="877.29" width="17.04" height="17.04" fill="#08326e"/>
<rect x="333.13" y="894.31" width="17.04" height="17.04" fill="#08326e"/>
<rect x="520.35" y="894.31" width="17.04" height="17.04" fill="#f5fafe"/>
<rect x="537.37" y="894.31" width="17.04" height="17.04" fill="#f5fafe"/>
<rect x="350.15" y="911.33" width="17.04" height="17.04" fill="#08306b"/>
<rect x="213.99" y="928.35" width="17.04" height="17.04" fill="#f5fafe"/>
<rect x="231.01" y="928.35" width="17.04" height="17.04" fill="#f3f8fe"/>
<rect x="367.17" y="928.35" width="17.04" height="17.04" fill="#115ca5"/>
<rect x="452.27" y="928.35" width="17.04" height="17.04" fill="#f5fafe"/>
<rect x="469.29" y="928.35" width="17.04" height="17.04" fill="#eaf2fb"/>
<rect x="503.33" y="928.35" width="17.04" height="17.04" fill="#f3f8fe"/>
<rect x="520.35" y="928.35" width="17.04" height="17.04" fill="#f3f8fe"/>
<rect x="537.37" y="928.35" width="17.04" height="17.04" fill="#f2f7fd"/>
<rect x="571.41" y="928.35" width="17.04" height="17.04" fill="#f5fafe"/>
<rect x="384.19" y="945.37" width="17.04" height="17.04" fill="#08306b"/>
<rect x="128.89" y="962.40" width="17.04" height="17.04" fill="#f5fafe"/>
<rect x="179.95" y="962.40" width="17.04" height="17.04" fill="#f5fafe"/>
<rect x="401.21" y="962.40" width="17.04" height="17.04" fill="#083a7a"/>
<rect x="418.23" y="962.40" width="17.04" height="17.04" fill="#f5fafe"/>
<rect x="503.33" y="962.40" width="17.04" height="17.04" fill="#f5fafe"/>
<rect x="554.39" y="962.40" width="17.04" height="17.04" fill="#f3f8fe"/>
<rect x="316.11" y="979.42" width="17.04" height="17.04" fill="#f5fafe"/>
<rect x="418.23" y="979.42" width="17.04" height="17.04" fill="#083c7d"/>
<rect x="435.25" y="979.42" width="17.04" height="17.04" fill="#f5fafe"/>
<rect x="486.31" y="979.42" width="17.04" height="17.04" fill="#f5fafe"/>
<rect x="367.17" y="996.44" width="17.04" height="17.04" fill="#f5fafe"/>
<rect x="384.19" y="996.44" width="17.04" height="17.04" fill="#f5fafe"/>
<rect x="418.23" y="996.44" width="17.04" height="17.04" fill="#f5fafe"/>
<rect x="435.25" y="996.44" width="17.04" height="17.04" fill="#083573"/>
<rect x="94.85" y="1013.46" width="17.04" height="17.04" fill="#f3f8fe"/>
<rect x="162.93" y="1013.46" width="17.04" height="17.04" fill="#f5fafe"/>
<rect x="299.09" y="1013.46" width="17.04" height="17.04" fill="#f3f8fe"/>
<rect x="367.17" y="1013.46" width="17.04" height="17.04" fill="#f5fafe"/>
<rect x="384.19" y="1013.46" width="17.04" height="17.04" fill="#f5fafe"/>
<rect x="401.21" y="1013.46" width="17.04" height="17.04" fill="#f5fafe"/>
<rect x="418.23" y="1013.46" width="17.04" height="17.04" fill="#f5fafe"/>
<rect x="452.27" y="1013.46" width="17.04" height="17.04" fill="#08458a"/>
<rect x="469.29" y="1013.46" width="17.04" height="17.04" fill="#f5fafe"/>
<rect x="94.85" y="1030.48" width="17.04" height="17.04" fill="#f5fafe"/>
<rect x="179.95" y="1030.48" width="17.04" height="17.04" fill="#f5fafe"/>
<rect x="196.97" y="1030.48" width="17.04" height="17.04" fill="#f5fafe"/>
<rect x="213.99" y="1030.48" width="17.04" height="17.04" fill="#f5fafe"/>
<rect x="367.17" y="1030.48" width="17.04" height="17.04" fill="#f3f8fe"/>
<rect x="418.23" y="1030.48" width="17.04" height="17.04" fill="#f5fafe"/>
<rect x="469.29" y="1030.48" width="17.04" height="17.04" fill="#084a91"/>
<rect x="520.35" y="1030.48" width="17.04" height="17.04" fill="#f5fafe"/>
<rect x="265.05" y="1047.51" width="17.04" height="17.04" fill="#f5fafe"/>
<rect x="282.07" y="1047.51" width="17.04" height="17.04" fill="#f5fafe"/>
<rect x="367.17" y="1047.51" width="17.04" height="17.04" fill="#f5fafe"/>
<rect x="418.23" y="1047.51" width="17.04" height="17.04" fill="#f3f8fe"/>
<rect x="486.31" y="1047.51" width="17.04" height="17.04" fill="#084285"/>
<rect x="196.97" y="1064.53" width="17.04" height="17.04" fill="#f3f8fe"/>
<rect x="213.99" y="1064.53" width="17.04" height="17.04" fill="#f3f8fe"/>
<rect x="299.09" y="1064.53" width="17.04" height="17.04" fill="#f5fafe"/>
<rect x="367.17" y="1064.53" width="17.04" height="17.04" fill="#f3f8fe"/>
<rect x="401.21" y="1064.53" width="17.04" height="17.04" fill="#f5fafe"/>
<rect x="503.33" y="1064.53" width="17.04" height="17.04" fill="#084a91"/>
<rect x="537.37" y="1064.53" width="17.04" height="17.04" fill="#f5fafe"/>
<rect x="128.89" y="1081.55" width="17.04" height="17.04" fill="#f5fafe"/>
<rect x="316.11" y="1081.55" width="17.04" height="17.04" fill="#f5fafe"/>
<rect x="401.21" y="1081.55" width="17.04" height="17.04" fill="#f5fafe"/>
<rect x="469.29" y="1081.55" width="17.04" height="17.04" fill="#f5fafe"/>
<rect x="520.35" y="1081.55" width="17.04" height="17.04" fill="#083c7d"/>
<rect x="537.37" y="1081.55" width="17.04" height="17.04" fill="#f5fafe"/>
<rect x="94.85" y="1098.57" width="17.04" height="17.04" fill="#f3f8fe"/>
<rect x="128.89" y="1098.57" width="17.04" height="17.04" fill="#f5fafe"/>
<rect x="179.95" y="1098.57" width="17.04" height="17.04" fill="#f5fafe"/>
<rect x="196.97" y="1098.57" width="17.04" height="17.04" fill="#f5fafe"/>
<rect x="265.05" y="1098.57" width="17.04" height="17.04" fill="#f5fafe"/>
<rect x="299.09" y="1098.57" width="17.04" height="17.04" fill="#f5fafe"/>
<rect x="367.17" y="1098.57" width="17.04" height="17.04" fill="#f5fafe"/>
<rect x="401.21" y="1098.57" width="17.04" height="17.04" fill="#f5fafe"/>
<rect x="418.23" y="1098.57" width="17.04" height="17.04" fill="#f5fafe"/>
<rect x="503.33" y="1098.57" width="17.04" height="17.04" fill="#f5fafe"/>
<rect x="520.35" y="1098.57" width="17.04" height="17.04" fill="#f5fafe"/>
<rect x="537.37" y="1098.57" width="17.04" height="17.04" fill="#08488e"/>
<rect x="401.21" y="1115.59" width="17.04" height="17.04" fill="#f5fafe"/>
<rect x="554.39" y="1115.59" width="17.04" height="17.04" fill="#08326e"/>
<rect x="94.85" y="1132.62" width="17.04" height="17.04" fill="#f5fafe"/>
<rect x="299.09" y="1132.62" width="17.04" height="17.04" fill="#f5fafe"/>
<rect x="452.27" y="1132.62" width="17.04" height="17.04" fill="#f5fafe"/>
<rect x="571.41" y="1132.62" width="17.04" height="17.04" fill="#083573"/>
<rect x="162.93" y="1149.64" width="17.04" height="17.04" fill="#f5fafe"/>
<rect x="537.37" y="1149.64" width="17.04" height="17.04" fill="#f5fafe"/>
<rect x="588.43" y="1149.64" width="17.04" height="17.04" fill="#083776"/>
<g class="k" font-size="8.24" text-anchor="middle" fill="#1a1a1a">
<text x="120.38" y="667.26" textLength="11.97" lengthAdjust="spacingAndGlyphs">0.0</text>
<text x="137.40" y="667.26" textLength="11.97" lengthAdjust="spacingAndGlyphs">0.0</text>
<text x="154.42" y="667.26" textLength="11.97" lengthAdjust="spacingAndGlyphs">0.0</text>
<text x="171.44" y="667.26" textLength="11.97" lengthAdjust="spacingAndGlyphs">0.0</text>
<text x="188.46" y="667.26" textLength="11.97" lengthAdjust="spacingAndGlyphs">0.0</text>
<text x="205.48" y="667.26" textLength="11.97" lengthAdjust="spacingAndGlyphs">0.0</text>
<text x="222.50" y="667.26" textLength="16.79" lengthAdjust="spacingAndGlyphs">0.01</text>
<text x="239.52" y="667.26" textLength="11.97" lengthAdjust="spacingAndGlyphs">0.0</text>
<text x="256.54" y="667.26" textLength="11.97" lengthAdjust="spacingAndGlyphs">0.0</text>
<text x="273.56" y="667.26" textLength="11.97" lengthAdjust="spacingAndGlyphs">0.0</text>
<text x="290.58" y="667.26" textLength="11.97" lengthAdjust="spacingAndGlyphs">0.0</text>
<text x="307.60" y="667.26" textLength="11.97" lengthAdjust="spacingAndGlyphs">0.0</text>
<text x="324.62" y="667.26" textLength="11.97" lengthAdjust="spacingAndGlyphs">0.0</text>
<text x="341.64" y="667.26" textLength="11.97" lengthAdjust="spacingAndGlyphs">0.0</text>
<text x="358.66" y="667.26" textLength="11.97" lengthAdjust="spacingAndGlyphs">0.0</text>
<text x="375.68" y="667.26" textLength="16.79" lengthAdjust="spacingAndGlyphs">0.01</text>
<text x="392.70" y="667.26" textLength="11.97" lengthAdjust="spacingAndGlyphs">0.0</text>
<text x="409.72" y="667.26" textLength="16.79" lengthAdjust="spacingAndGlyphs">0.01</text>
<text x="426.74" y="667.26" textLength="11.97" lengthAdjust="spacingAndGlyphs">0.0</text>
<text x="443.76" y="667.26" textLength="11.97" lengthAdjust="spacingAndGlyphs">0.0</text>
<text x="460.78" y="667.26" textLength="11.97" lengthAdjust="spacingAndGlyphs">0.0</text>
<text x="477.80" y="667.26" textLength="11.97" lengthAdjust="spacingAndGlyphs">0.0</text>
<text x="494.82" y="667.26" textLength="11.97" lengthAdjust="spacingAndGlyphs">0.0</text>
<text x="511.84" y="667.26" textLength="16.79" lengthAdjust="spacingAndGlyphs">0.01</text>
<text x="528.86" y="667.26" textLength="11.97" lengthAdjust="spacingAndGlyphs">0.0</text>
<text x="545.88" y="667.26" textLength="16.79" lengthAdjust="spacingAndGlyphs">0.01</text>
<text x="562.90" y="667.26" textLength="11.97" lengthAdjust="spacingAndGlyphs">0.0</text>
<text x="579.92" y="667.26" textLength="11.97" lengthAdjust="spacingAndGlyphs">0.0</text>
<text x="596.94" y="667.26" textLength="11.97" lengthAdjust="spacingAndGlyphs">0.0</text>
<text x="103.36" y="684.26" textLength="11.97" lengthAdjust="spacingAndGlyphs">0.0</text>
<text x="137.40" y="684.26" textLength="11.97" lengthAdjust="spacingAndGlyphs">0.0</text>
<text x="154.42" y="684.26" textLength="11.97" lengthAdjust="spacingAndGlyphs">0.0</text>
<text x="171.44" y="684.26" textLength="11.97" lengthAdjust="spacingAndGlyphs">0.0</text>
<text x="188.46" y="684.26" textLength="11.97" lengthAdjust="spacingAndGlyphs">0.0</text>
<text x="205.48" y="684.26" textLength="11.97" lengthAdjust="spacingAndGlyphs">0.0</text>
<text x="222.50" y="684.26" textLength="11.97" lengthAdjust="spacingAndGlyphs">0.0</text>
<text x="239.52" y="684.26" textLength="11.97" lengthAdjust="spacingAndGlyphs">0.0</text>
<text x="256.54" y="684.26" textLength="16.84" lengthAdjust="spacingAndGlyphs">0.03</text>
<text x="273.56" y="684.26" textLength="11.97" lengthAdjust="spacingAndGlyphs">0.0</text>
<text x="290.58" y="684.26" textLength="11.97" lengthAdjust="spacingAndGlyphs">0.0</text>
<text x="307.60" y="684.26" textLength="11.97" lengthAdjust="spacingAndGlyphs">0.0</text>
<text x="324.62" y="684.26" textLength="11.97" lengthAdjust="spacingAndGlyphs">0.0</text>
<text x="341.64" y="684.26" textLength="11.97" lengthAdjust="spacingAndGlyphs">0.0</text>
<text x="358.66" y="684.26" textLength="11.97" lengthAdjust="spacingAndGlyphs">0.0</text>
<text x="375.68" y="684.26" textLength="11.97" lengthAdjust="spacingAndGlyphs">0.0</text>
<text x="392.70" y="684.26" textLength="11.97" lengthAdjust="spacingAndGlyphs">0.0</text>
<text x="409.72" y="684.26" textLength="11.97" lengthAdjust="spacingAndGlyphs">0.0</text>
<text x="426.74" y="684.26" textLength="11.97" lengthAdjust="spacingAndGlyphs">0.0</text>
<text x="443.76" y="684.26" textLength="11.97" lengthAdjust="spacingAndGlyphs">0.0</text>
<text x="460.78" y="684.26" textLength="11.97" lengthAdjust="spacingAndGlyphs">0.0</text>
<text x="477.80" y="684.26" textLength="11.97" lengthAdjust="spacingAndGlyphs">0.0</text>
<text x="494.82" y="684.26" textLength="11.97" lengthAdjust="spacingAndGlyphs">0.0</text>
<text x="511.84" y="684.26" textLength="11.97" lengthAdjust="spacingAndGlyphs">0.0</text>
<text x="528.86" y="684.26" textLength="11.97" lengthAdjust="spacingAndGlyphs">0.0</text>
<text x="545.88" y="684.26" textLength="11.97" lengthAdjust="spacingAndGlyphs">0.0</text>
<text x="562.90" y="684.26" textLength="11.97" lengthAdjust="spacingAndGlyphs">0.0</text>
<text x="579.92" y="684.26" textLength="11.97" lengthAdjust="spacingAndGlyphs">0.0</text>
<text x="596.94" y="684.26" textLength="11.97" lengthAdjust="spacingAndGlyphs">0.0</text>
<text x="103.36" y="701.26" textLength="11.97" lengthAdjust="spacingAndGlyphs">0.0</text>
<text x="120.38" y="701.26" textLength="11.97" lengthAdjust="spacingAndGlyphs">0.0</text>
<text x="154.42" y="701.26" textLength="11.97" lengthAdjust="spacingAndGlyphs">0.0</text>
<text x="171.44" y="701.26" textLength="11.97" lengthAdjust="spacingAndGlyphs">0.0</text>
<text x="188.46" y="701.26" textLength="11.97" lengthAdjust="spacingAndGlyphs">0.0</text>
<text x="205.48" y="701.26" textLength="11.97" lengthAdjust="spacingAndGlyphs">0.0</text>
<text x="222.50" y="701.26" textLength="11.97" lengthAdjust="spacingAndGlyphs">0.0</text>
<text x="239.52" y="701.26" textLength="11.97" lengthAdjust="spacingAndGlyphs">0.0</text>
<text x="256.54" y="701.26" textLength="11.97" lengthAdjust="spacingAndGlyphs">0.0</text>
<text x="273.56" y="701.26" textLength="11.97" lengthAdjust="spacingAndGlyphs">0.0</text>
<text x="290.58" y="701.26" textLength="11.97" lengthAdjust="spacingAndGlyphs">0.0</text>
<text x="307.60" y="701.26" textLength="11.97" lengthAdjust="spacingAndGlyphs">0.0</text>
<text x="324.62" y="701.26" textLength="11.97" lengthAdjust="spacingAndGlyphs">0.0</text>
<text x="341.64" y="701.26" textLength="11.97" lengthAdjust="spacingAndGlyphs">0.0</text>
<text x="358.66" y="701.26" textLength="11.97" lengthAdjust="spacingAndGlyphs">0.0</text>
<text x="375.68" y="701.26" textLength="11.97" lengthAdjust="spacingAndGlyphs">0.0</text>
<text x="392.70" y="701.26" textLength="11.97" lengthAdjust="spacingAndGlyphs">0.0</text>
<text x="409.72" y="701.26" textLength="11.97" lengthAdjust="spacingAndGlyphs">0.0</text>
<text x="426.74" y="701.26" textLength="11.97" lengthAdjust="spacingAndGlyphs">0.0</text>
<text x="443.76" y="701.26" textLength="11.97" lengthAdjust="spacingAndGlyphs">0.0</text>
<text x="460.78" y="701.26" textLength="11.97" lengthAdjust="spacingAndGlyphs">0.0</text>
<text x="477.80" y="701.26" textLength="11.97" lengthAdjust="spacingAndGlyphs">0.0</text>
<text x="494.82" y="701.26" textLength="11.97" lengthAdjust="spacingAndGlyphs">0.0</text>
<text x="511.84" y="701.26" textLength="11.97" lengthAdjust="spacingAndGlyphs">0.0</text>
<text x="528.86" y="701.26" textLength="11.97" lengthAdjust="spacingAndGlyphs">0.0</text>
<text x="545.88" y="701.26" textLength="11.97" lengthAdjust="spacingAndGlyphs">0.0</text>
<text x="562.90" y="701.26" textLength="11.97" lengthAdjust="spacingAndGlyphs">0.0</text>
<text x="579.92" y="701.26" textLength="11.97" lengthAdjust="spacingAndGlyphs">0.0</text>
<text x="596.94" y="701.26" textLength="11.97" lengthAdjust="spacingAndGlyphs">0.0</text>
<text x="103.36" y="718.26" textLength="11.97" lengthAdjust="spacingAndGlyphs">0.0</text>
<text x="120.38" y="718.26" textLength="11.97" lengthAdjust="spacingAndGlyphs">0.0</text>
<text x="137.40" y="718.26" textLength="11.97" lengthAdjust="spacingAndGlyphs">0.0</text>
<text x="171.44" y="718.26" textLength="11.97" lengthAdjust="spacingAndGlyphs">0.0</text>
<text x="188.46" y="718.26" textLength="11.97" lengthAdjust="spacingAndGlyphs">0.0</text>
<text x="205.48" y="718.26" textLength="11.97" lengthAdjust="spacingAndGlyphs">0.0</text>
<text x="222.50" y="718.26" textLength="11.97" lengthAdjust="spacingAndGlyphs">0.0</text>
<text x="239.52" y="718.26" textLength="11.97" lengthAdjust="spacingAndGlyphs">0.0</text>
<text x="256.54" y="718.26" textLength="16.79" lengthAdjust="spacingAndGlyphs">0.01</text>
<text x="273.56" y="718.26" textLength="11.97" lengthAdjust="spacingAndGlyphs">0.0</text>
<text x="290.58" y="718.26" textLength="16.79" lengthAdjust="spacingAndGlyphs">0.01</text>
<text x="307.60" y="718.26" textLength="11.97" lengthAdjust="spacingAndGlyphs">0.0</text>
<text x="324.62" y="718.26" textLength="11.97" lengthAdjust="spacingAndGlyphs">0.0</text>
<text x="341.64" y="718.26" textLength="11.97" lengthAdjust="spacingAndGlyphs">0.0</text>
<text x="358.66" y="718.26" textLength="11.97" lengthAdjust="spacingAndGlyphs">0.0</text>
<text x="375.68" y="718.26" textLength="11.97" lengthAdjust="spacingAndGlyphs">0.0</text>
<text x="392.70" y="718.26" textLength="11.97" lengthAdjust="spacingAndGlyphs">0.0</text>
<text x="409.72" y="718.26" textLength="11.97" lengthAdjust="spacingAndGlyphs">0.0</text>
<text x="426.74" y="718.26" textLength="11.97" lengthAdjust="spacingAndGlyphs">0.0</text>
<text x="443.76" y="718.26" textLength="11.97" lengthAdjust="spacingAndGlyphs">0.0</text>
<text x="460.78" y="718.26" textLength="11.97" lengthAdjust="spacingAndGlyphs">0.0</text>
<text x="477.80" y="718.26" textLength="11.97" lengthAdjust="spacingAndGlyphs">0.0</text>
<text x="494.82" y="718.26" textLength="11.97" lengthAdjust="spacingAndGlyphs">0.0</text>
<text x="511.84" y="718.26" textLength="11.97" lengthAdjust="spacingAndGlyphs">0.0</text>
<text x="528.86" y="718.26" textLength="11.97" lengthAdjust="spacingAndGlyphs">0.0</text>
<text x="545.88" y="718.26" textLength="11.97" lengthAdjust="spacingAndGlyphs">0.0</text>
<text x="562.90" y="718.26" textLength="11.97" lengthAdjust="spacingAndGlyphs">0.0</text>
<text x="579.92" y="718.26" textLength="11.97" lengthAdjust="spacingAndGlyphs">0.0</text>
<text x="596.94" y="718.26" textLength="11.97" lengthAdjust="spacingAndGlyphs">0.0</text>
<text x="103.36" y="735.26" textLength="11.97" lengthAdjust="spacingAndGlyphs">0.0</text>
<text x="120.38" y="735.26" textLength="11.97" lengthAdjust="spacingAndGlyphs">0.0</text>
<text x="137.40" y="735.26" textLength="11.97" lengthAdjust="spacingAndGlyphs">0.0</text>
<text x="154.42" y="735.26" textLength="11.97" lengthAdjust="spacingAndGlyphs">0.0</text>
<text x="188.46" y="735.26" textLength="11.97" lengthAdjust="spacingAndGlyphs">0.0</text>
<text x="205.48" y="735.26" textLength="11.97" lengthAdjust="spacingAndGlyphs">0.0</text>
<text x="222.50" y="735.26" textLength="11.97" lengthAdjust="spacingAndGlyphs">0.0</text>
<text x="239.52" y="735.26" textLength="11.97" lengthAdjust="spacingAndGlyphs">0.0</text>
<text x="256.54" y="735.26" textLength="11.97" lengthAdjust="spacingAndGlyphs">0.0</text>
<text x="273.56" y="735.26" textLength="16.79" lengthAdjust="spacingAndGlyphs">0.01</text>
<text x="290.58" y="735.26" textLength="11.97" lengthAdjust="spacingAndGlyphs">0.0</text>
<text x="307.60" y="735.26" textLength="11.97" lengthAdjust="spacingAndGlyphs">0.0</text>
<text x="324.62" y="735.26" textLength="11.97" lengthAdjust="spacingAndGlyphs">0.0</text>
<text x="341.64" y="735.26" textLength="11.97" lengthAdjust="spacingAndGlyphs">0.0</text>
<text x="358.66" y="735.26" textLength="11.97" lengthAdjust="spacingAndGlyphs">0.0</text>
<text x="375.68" y="735.26" textLength="11.97" lengthAdjust="spacingAndGlyphs">0.0</text>
<text x="392.70" y="735.26" textLength="11.97" lengthAdjust="spacingAndGlyphs">0.0</text>
<text x="409.72" y="735.26" textLength="11.97" lengthAdjust="spacingAndGlyphs">0.0</text>
<text x="426.74" y="735.26" textLength="16.79" lengthAdjust="spacingAndGlyphs">0.01</text>
<text x="443.76" y="735.26" textLength="11.97" lengthAdjust="spacingAndGlyphs">0.0</text>
<text x="460.78" y="735.26" textLength="11.97" lengthAdjust="spacingAndGlyphs">0.0</text>
<text x="477.80" y="735.26" textLength="11.97" lengthAdjust="spacingAndGlyphs">0.0</text>
<text x="494.82" y="735.26" textLength="11.97" lengthAdjust="spacingAndGlyphs">0.0</text>
<text x="511.84" y="735.26" textLength="11.97" lengthAdjust="spacingAndGlyphs">0.0</text>
<text x="528.86" y="735.26" textLength="11.97" lengthAdjust="spacingAndGlyphs">0.0</text>
<text x="545.88" y="735.26" textLength="11.97" lengthAdjust="spacingAndGlyphs">0.0</text>
<text x="562.90" y="735.26" textLength="11.97" lengthAdjust="spacingAndGlyphs">0.0</text>
<text x="579.92" y="735.26" textLength="11.97" lengthAdjust="spacingAndGlyphs">0.0</text>
<text x="596.94" y="735.26" textLength="16.79" lengthAdjust="spacingAndGlyphs">0.01</text>
<text x="103.36" y="752.26" textLength="16.79" lengthAdjust="spacingAndGlyphs">0.01</text>
<text x="120.38" y="752.26" textLength="11.97" lengthAdjust="spacingAndGlyphs">0.0</text>
<text x="137.40" y="752.26" textLength="16.79" lengthAdjust="spacingAndGlyphs">0.01</text>
<text x="154.42" y="752.26" textLength="11.97" lengthAdjust="spacingAndGlyphs">0.0</text>
<text x="171.44" y="752.26" textLength="11.97" lengthAdjust="spacingAndGlyphs">0.0</text>
<text x="205.48" y="752.26" textLength="16.79" lengthAdjust="spacingAndGlyphs">0.01</text>
<text x="222.50" y="752.26" textLength="16.79" lengthAdjust="spacingAndGlyphs">0.01</text>
<text x="239.52" y="752.26" textLength="16.79" lengthAdjust="spacingAndGlyphs">0.01</text>
<text x="256.54" y="752.26" textLength="11.97" lengthAdjust="spacingAndGlyphs">0.0</text>
<text x="273.56" y="752.26" textLength="11.97" lengthAdjust="spacingAndGlyphs">0.0</text>
<text x="290.58" y="752.26" textLength="11.97" lengthAdjust="spacingAndGlyphs">0.0</text>
<text x="307.60" y="752.26" textLength="16.79" lengthAdjust="spacingAndGlyphs">0.01</text>
<text x="324.62" y="752.26" textLength="11.97" lengthAdjust="spacingAndGlyphs">0.0</text>
<text x="341.64" y="752.26" textLength="11.97" lengthAdjust="spacingAndGlyphs">0.0</text>
<text x="358.66" y="752.26" textLength="11.97" lengthAdjust="spacingAndGlyphs">0.0</text>
<text x="375.68" y="752.26" textLength="16.79" lengthAdjust="spacingAndGlyphs">0.01</text>
<text x="392.70" y="752.26" textLength="11.97" lengthAdjust="spacingAndGlyphs">0.0</text>
<text x="409.72" y="752.26" textLength="11.97" lengthAdjust="spacingAndGlyphs">0.0</text>
<text x="426.74" y="752.26" textLength="11.97" lengthAdjust="spacingAndGlyphs">0.0</text>
<text x="443.76" y="752.26" textLength="11.97" lengthAdjust="spacingAndGlyphs">0.0</text>
<text x="460.78" y="752.26" textLength="16.79" lengthAdjust="spacingAndGlyphs">0.01</text>
<text x="477.80" y="752.26" textLength="11.97" lengthAdjust="spacingAndGlyphs">0.0</text>
<text x="494.82" y="752.26" textLength="11.97" lengthAdjust="spacingAndGlyphs">0.0</text>
<text x="511.84" y="752.26" textLength="11.97" lengthAdjust="spacingAndGlyphs">0.0</text>
<text x="528.86" y="752.26" textLength="11.97" lengthAdjust="spacingAndGlyphs">0.0</text>
<text x="545.88" y="752.26" textLength="16.84" lengthAdjust="spacingAndGlyphs">0.03</text>
<text x="562.90" y="752.26" textLength="16.79" lengthAdjust="spacingAndGlyphs">0.01</text>
<text x="579.92" y="752.26" textLength="11.97" lengthAdjust="spacingAndGlyphs">0.0</text>
<text x="596.94" y="752.26" textLength="11.97" lengthAdjust="spacingAndGlyphs">0.0</text>
<text x="103.36" y="769.26" textLength="11.97" lengthAdjust="spacingAndGlyphs">0.0</text>
<text x="120.38" y="769.26" textLength="11.97" lengthAdjust="spacingAndGlyphs">0.0</text>
<text x="137.40" y="769.26" textLength="11.97" lengthAdjust="spacingAndGlyphs">0.0</text>
<text x="154.42" y="769.26" textLength="11.97" lengthAdjust="spacingAndGlyphs">0.0</text>
<text x="171.44" y="769.26" textLength="11.97" lengthAdjust="spacingAndGlyphs">0.0</text>
<text x="188.46" y="769.26" textLength="16.74" lengthAdjust="spacingAndGlyphs">0.02</text>
<text x="222.50" y="769.26" textLength="11.97" lengthAdjust="spacingAndGlyphs">0.0</text>
<text x="239.52" y="769.26" textLength="11.97" lengthAdjust="spacingAndGlyphs">0.0</text>
<text x="256.54" y="769.26" textLength="11.97" lengthAdjust="spacingAndGlyphs">0.0</text>
<text x="273.56" y="769.26" textLength="11.97" lengthAdjust="spacingAndGlyphs">0.0</text>
<text x="290.58" y="769.26" textLength="11.97" lengthAdjust="spacingAndGlyphs">0.0</text>
<text x="307.60" y="769.26" textLength="11.97" lengthAdjust="spacingAndGlyphs">0.0</text>
<text x="324.62" y="769.26" textLength="11.97" lengthAdjust="spacingAndGlyphs">0.0</text>
<text x="341.64" y="769.26" textLength="11.97" lengthAdjust="spacingAndGlyphs">0.0</text>
<text x="358.66" y="769.26" textLength="11.97" lengthAdjust="spacingAndGlyphs">0.0</text>
<text x="375.68" y="769.26" textLength="11.97" lengthAdjust="spacingAndGlyphs">0.0</text>
<text x="392.70" y="769.26" textLength="11.97" lengthAdjust="spacingAndGlyphs">0.0</text>
<text x="409.72" y="769.26" textLength="11.97" lengthAdjust="spacingAndGlyphs">0.0</text>
<text x="426.74" y="769.26" textLength="11.97" lengthAdjust="spacingAndGlyphs">0.0</text>
<text x="443.76" y="769.26" textLength="11.97" lengthAdjust="spacingAndGlyphs">0.0</text>
<text x="460.78" y="769.26" textLength="11.97" lengthAdjust="spacingAndGlyphs">0.0</text>
<text x="477.80" y="769.26" textLength="11.97" lengthAdjust="spacingAndGlyphs">0.0</text>
<text x="494.82" y="769.26" textLength="11.97" lengthAdjust="spacingAndGlyphs">0.0</text>
<text x="511.84" y="769.26" textLength="11.97" lengthAdjust="spacingAndGlyphs">0.0</text>
<text x="528.86" y="769.26" textLength="11.97" lengthAdjust="spacingAndGlyphs">0.0</text>
<text x="545.88" y="769.26" textLength="11.97" lengthAdjust="spacingAndGlyphs">0.0</text>
<text x="562.90" y="769.26" textLength="11.97" lengthAdjust="spacingAndGlyphs">0.0</text>
<text x="579.92" y="769.26" textLength="11.97" lengthAdjust="spacingAndGlyphs">0.0</text>
<text x="596.94" y="769.26" textLength="11.97" lengthAdjust="spacingAndGlyphs">0.0</text>
<text x="103.36" y="786.26" textLength="11.97" lengthAdjust="spacingAndGlyphs">0.0</text>
<text x="120.38" y="786.26" textLength="11.97" lengthAdjust="spacingAndGlyphs">0.0</text>
<text x="137.40" y="786.26" textLength="11.97" lengthAdjust="spacingAndGlyphs">0.0</text>
<text x="154.42" y="786.26" textLength="11.97" lengthAdjust="spacingAndGlyphs">0.0</text>
<text x="171.44" y="786.26" textLength="11.97" lengthAdjust="spacingAndGlyphs">0.0</text>
<text x="188.46" y="786.26" textLength="16.79" lengthAdjust="spacingAndGlyphs">0.01</text>
<text x="205.48" y="786.26" textLength="11.97" lengthAdjust="spacingAndGlyphs">0.0</text>
<text x="239.52" y="786.26" textLength="16.79" lengthAdjust="spacingAndGlyphs">0.01</text>
<text x="256.54" y="786.26" textLength="11.97" lengthAdjust="spacingAndGlyphs">0.0</text>
<text x="273.56" y="786.26" textLength="11.97" lengthAdjust="spacingAndGlyphs">0.0</text>
<text x="290.58" y="786.26" textLength="11.97" lengthAdjust="spacingAndGlyphs">0.0</text>
<text x="307.60" y="786.26" textLength="11.97" lengthAdjust="spacingAndGlyphs">0.0</text>
<text x="324.62" y="786.26" textLength="11.97" lengthAdjust="spacingAndGlyphs">0.0</text>
<text x="341.64" y="786.26" textLength="11.97" lengthAdjust="spacingAndGlyphs">0.0</text>
<text x="358.66" y="786.26" textLength="11.97" lengthAdjust="spacingAndGlyphs">0.0</text>
<text x="375.68" y="786.26" textLength="16.79" lengthAdjust="spacingAndGlyphs">0.01</text>
<text x="392.70" y="786.26" textLength="11.97" lengthAdjust="spacingAndGlyphs">0.0</text>
<text x="409.72" y="786.26" textLength="11.97" lengthAdjust="spacingAndGlyphs">0.0</text>
<text x="426.74" y="786.26" textLength="11.97" lengthAdjust="spacingAndGlyphs">0.0</text>
<text x="443.76" y="786.26" textLength="16.79" lengthAdjust="spacingAndGlyphs">0.01</text>
<text x="460.78" y="786.26" textLength="16.79" lengthAdjust="spacingAndGlyphs">0.01</text>
<text x="477.80" y="786.26" textLength="16.79" lengthAdjust="spacingAndGlyphs">0.01</text>
<text x="494.82" y="786.26" textLength="11.97" lengthAdjust="spacingAndGlyphs">0.0</text>
<text x="511.84" y="786.26" textLength="16.90" lengthAdjust="spacingAndGlyphs">0.04</text>
<text x="528.86" y="786.26" textLength="11.97" lengthAdjust="spacingAndGlyphs">0.0</text>
<text x="545.88" y="786.26" textLength="16.74" lengthAdjust="spacingAndGlyphs">0.02</text>
<text x="562.90" y="786.26" textLength="11.97" lengthAdjust="spacingAndGlyphs">0.0</text>
<text x="579.92" y="786.26" textLength="16.79" lengthAdjust="spacingAndGlyphs">0.01</text>
<text x="596.94" y="786.26" textLength="11.97" lengthAdjust="spacingAndGlyphs">0.0</text>
<text x="103.36" y="803.26" textLength="11.97" lengthAdjust="spacingAndGlyphs">0.0</text>
<text x="120.38" y="803.26" textLength="11.97" lengthAdjust="spacingAndGlyphs">0.0</text>
<text x="137.40" y="803.26" textLength="11.97" lengthAdjust="spacingAndGlyphs">0.0</text>
<text x="154.42" y="803.26" textLength="11.97" lengthAdjust="spacingAndGlyphs">0.0</text>
<text x="171.44" y="803.26" textLength="11.97" lengthAdjust="spacingAndGlyphs">0.0</text>
<text x="188.46" y="803.26" textLength="11.97" lengthAdjust="spacingAndGlyphs">0.0</text>
<text x="205.48" y="803.26" textLength="11.97" lengthAdjust="spacingAndGlyphs">0.0</text>
<text x="222.50" y="803.26" textLength="16.79" lengthAdjust="spacingAndGlyphs">0.01</text>
<text x="256.54" y="803.26" textLength="11.97" lengthAdjust="spacingAndGlyphs">0.0</text>
<text x="273.56" y="803.26" textLength="11.97" lengthAdjust="spacingAndGlyphs">0.0</text>
<text x="290.58" y="803.26" textLength="11.97" lengthAdjust="spacingAndGlyphs">0.0</text>
<text x="307.60" y="803.26" textLength="11.97" lengthAdjust="spacingAndGlyphs">0.0</text>
<text x="324.62" y="803.26" textLength="11.97" lengthAdjust="spacingAndGlyphs">0.0</text>
<text x="341.64" y="803.26" textLength="16.79" lengthAdjust="spacingAndGlyphs">0.01</text>
<text x="358.66" y="803.26" textLength="11.97" lengthAdjust="spacingAndGlyphs">0.0</text>
<text x="375.68" y="803.26" textLength="11.97" lengthAdjust="spacingAndGlyphs">0.0</text>
<text x="392.70" y="803.26" textLength="11.97" lengthAdjust="spacingAndGlyphs">0.0</text>
<text x="409.72" y="803.26" textLength="11.97" lengthAdjust="spacingAndGlyphs">0.0</text>
<text x="426.74" y="803.26" textLength="11.97" lengthAdjust="spacingAndGlyphs">0.0</text>
<text x="443.76" y="803.26" textLength="11.97" lengthAdjust="spacingAndGlyphs">0.0</text>
<text x="460.78" y="803.26" textLength="11.97" lengthAdjust="spacingAndGlyphs">0.0</text>
<text x="477.80" y="803.26" textLength="11.97" lengthAdjust="spacingAndGlyphs">0.0</text>
<text x="494.82" y="803.26" textLength="11.97" lengthAdjust="spacingAndGlyphs">0.0</text>
<text x="511.84" y="803.26" textLength="11.97" lengthAdjust="spacingAndGlyphs">0.0</text>
<text x="528.86" y="803.26" textLength="11.97" lengthAdjust="spacingAndGlyphs">0.0</text>
<text x="545.88" y="803.26" textLength="11.97" lengthAdjust="spacingAndGlyphs">0.0</text>
<text x="562.90" y="803.26" textLength="11.97" lengthAdjust="spacingAndGlyphs">0.0</text>
<text x="579.92" y="803.26" textLength="11.97" lengthAdjust="spacingAndGlyphs">0.0</text>
<text x="596.94" y="803.26" textLength="11.97" lengthAdjust="spacingAndGlyphs">0.0</text>
<text x="103.36" y="820.26" textLength="11.97" lengthAdjust="spacingAndGlyphs">0.0</text>
<text x="120.38" y="820.26" textLength="11.97" lengthAdjust="spacingAndGlyphs">0.0</text>
<text x="137.40" y="820.26" textLength="11.97" lengthAdjust="spacingAndGlyphs">0.0</text>
<text x="154.42" y="820.26" textLength="16.79" lengthAdjust="spacingAndGlyphs">0.01</text>
<text x="171.44" y="820.26" textLength="11.97" lengthAdjust="spacingAndGlyphs">0.0</text>
<text x="188.46" y="820.26" textLength="11.97" lengthAdjust="spacingAndGlyphs">0.0</text>
<text x="205.48" y="820.26" textLength="11.97" lengthAdjust="spacingAndGlyphs">0.0</text>
<text x="222.50" y="820.26" textLength="11.97" lengthAdjust="spacingAndGlyphs">0.0</text>
<text x="239.52" y="820.26" textLength="11.97" lengthAdjust="spacingAndGlyphs">0.0</text>
<text x="273.56" y="820.26" textLength="11.97" lengthAdjust="spacingAndGlyphs">0.0</text>
<text x="290.58" y="820.26" textLength="11.97" lengthAdjust="spacingAndGlyphs">0.0</text>
<text x="307.60" y="820.26" textLength="11.97" lengthAdjust="spacingAndGlyphs">0.0</text>
<text x="324.62" y="820.26" textLength="11.97" lengthAdjust="spacingAndGlyphs">0.0</text>
<text x="341.64" y="820.26" textLength="11.97" lengthAdjust="spacingAndGlyphs">0.0</text>
<text x="358.66" y="820.26" textLength="11.97" lengthAdjust="spacingAndGlyphs">0.0</text>
<text x="375.68" y="820.26" textLength="11.97" lengthAdjust="spacingAndGlyphs">0.0</text>
<text x="392.70" y="820.26" textLength="11.97" lengthAdjust="spacingAndGlyphs">0.0</text>
<text x="409.72" y="820.26" textLength="11.97" lengthAdjust="spacingAndGlyphs">0.0</text>
<text x="426.74" y="820.26" textLength="11.97" lengthAdjust="spacingAndGlyphs">0.0</text>
<text x="443.76" y="820.26" textLength="11.97" lengthAdjust="spacingAndGlyphs">0.0</text>
<text x="460.78" y="820.26" textLength="11.97" lengthAdjust="spacingAndGlyphs">0.0</text>
<text x="477.80" y="820.26" textLength="11.97" lengthAdjust="spacingAndGlyphs">0.0</text>
<text x="494.82" y="820.26" textLength="11.97" lengthAdjust="spacingAndGlyphs">0.0</text>
<text x="511.84" y="820.26" textLength="11.97" lengthAdjust="spacingAndGlyphs">0.0</text>
<text x="528.86" y="820.26" textLength="11.97" lengthAdjust="spacingAndGlyphs">0.0</text>
<text x="545.88" y="820.26" textLength="11.97" lengthAdjust="spacingAndGlyphs">0.0</text>
<text x="562.90" y="820.26" textLength="11.97" lengthAdjust="spacingAndGlyphs">0.0</text>
<text x="579.92" y="820.26" textLength="11.97" lengthAdjust="spacingAndGlyphs">0.0</text>
<text x="596.94" y="820.26" textLength="11.97" lengthAdjust="spacingAndGlyphs">0.0</text>
<text x="103.36" y="837.26" textLength="11.97" lengthAdjust="spacingAndGlyphs">0.0</text>
<text x="120.38" y="837.26" textLength="16.79" lengthAdjust="spacingAndGlyphs">0.01</text>
<text x="137.40" y="837.26" textLength="11.97" lengthAdjust="spacingAndGlyphs">0.0</text>
<text x="154.42" y="837.26" textLength="11.97" lengthAdjust="spacingAndGlyphs">0.0</text>
<text x="171.44" y="837.26" textLength="11.97" lengthAdjust="spacingAndGlyphs">0.0</text>
<text x="188.46" y="837.26" textLength="11.97" lengthAdjust="spacingAndGlyphs">0.0</text>
<text x="205.48" y="837.26" textLength="11.97" lengthAdjust="spacingAndGlyphs">0.0</text>
<text x="222.50" y="837.26" textLength="11.97" lengthAdjust="spacingAndGlyphs">0.0</text>
<text x="239.52" y="837.26" textLength="11.97" lengthAdjust="spacingAndGlyphs">0.0</text>
<text x="256.54" y="837.26" textLength="11.97" lengthAdjust="spacingAndGlyphs">0.0</text>
<text x="290.58" y="837.26" textLength="11.97" lengthAdjust="spacingAndGlyphs">0.0</text>
<text x="307.60" y="837.26" textLength="11.97" lengthAdjust="spacingAndGlyphs">0.0</text>
<text x="324.62" y="837.26" textLength="16.79" lengthAdjust="spacingAndGlyphs">0.01</text>
<text x="341.64" y="837.26" textLength="11.97" lengthAdjust="spacingAndGlyphs">0.0</text>
<text x="358.66" y="837.26" textLength="11.97" lengthAdjust="spacingAndGlyphs">0.0</text>
<text x="375.68" y="837.26" textLength="11.97" lengthAdjust="spacingAndGlyphs">0.0</text>
<text x="392.70" y="837.26" textLength="11.97" lengthAdjust="spacingAndGlyphs">0.0</text>
<text x="409.72" y="837.26" textLength="11.97" lengthAdjust="spacingAndGlyphs">0.0</text>
<text x="426.74" y="837.26" textLength="11.97" lengthAdjust="spacingAndGlyphs">0.0</text>
<text x="443.76" y="837.26" textLength="11.97" lengthAdjust="spacingAndGlyphs">0.0</text>
<text x="460.78" y="837.26" textLength="11.97" lengthAdjust="spacingAndGlyphs">0.0</text>
<text x="477.80" y="837.26" textLength="11.97" lengthAdjust="spacingAndGlyphs">0.0</text>
<text x="494.82" y="837.26" textLength="11.97" lengthAdjust="spacingAndGlyphs">0.0</text>
<text x="511.84" y="837.26" textLength="11.97" lengthAdjust="spacingAndGlyphs">0.0</text>
<text x="528.86" y="837.26" textLength="16.79" lengthAdjust="spacingAndGlyphs">0.01</text>
<text x="545.88" y="837.26" textLength="11.97" lengthAdjust="spacingAndGlyphs">0.0</text>
<text x="562.90" y="837.26" textLength="11.97" lengthAdjust="spacingAndGlyphs">0.0</text>
<text x="579.92" y="837.26" textLength="11.97" lengthAdjust="spacingAndGlyphs">0.0</text>
<text x="596.94" y="837.26" textLength="11.97" lengthAdjust="spacingAndGlyphs">0.0</text>
<text x="103.36" y="854.26" textLength="11.97" lengthAdjust="spacingAndGlyphs">0.0</text>
<text x="120.38" y="854.26" textLength="11.97" lengthAdjust="spacingAndGlyphs">0.0</text>
<text x="137.40" y="854.26" textLength="11.97" lengthAdjust="spacingAndGlyphs">0.0</text>
<text x="154.42" y="854.26" textLength="11.97" lengthAdjust="spacingAndGlyphs">0.0</text>
<text x="171.44" y="854.26" textLength="11.97" lengthAdjust="spacingAndGlyphs">0.0</text>
<text x="188.46" y="854.26" textLength="11.97" lengthAdjust="spacingAndGlyphs">0.0</text>
<text x="205.48" y="854.26" textLength="11.97" lengthAdjust="spacingAndGlyphs">0.0</text>
<text x="222.50" y="854.26" textLength="11.97" lengthAdjust="spacingAndGlyphs">0.0</text>
<text x="239.52" y="854.26" textLength="11.97" lengthAdjust="spacingAndGlyphs">0.0</text>
<text x="256.54" y="854.26" textLength="11.97" lengthAdjust="spacingAndGlyphs">0.0</text>
<text x="273.56" y="854.26" textLength="11.97" lengthAdjust="spacingAndGlyphs">0.0</text>
<text x="307.60" y="854.26" textLength="11.97" lengthAdjust="spacingAndGlyphs">0.0</text>
<text x="324.62" y="854.26" textLength="11.97" lengthAdjust="spacingAndGlyphs">0.0</text>
<text x="341.64" y="854.26" textLength="11.97" lengthAdjust="spacingAndGlyphs">0.0</text>
<text x="358.66" y="854.26" textLength="11.97" lengthAdjust="spacingAndGlyphs">0.0</text>
<text x="375.68" y="854.26" textLength="11.97" lengthAdjust="spacingAndGlyphs">0.0</text>
<text x="392.70" y="854.26" textLength="11.97" lengthAdjust="spacingAndGlyphs">0.0</text>
<text x="409.72" y="854.26" textLength="11.97" lengthAdjust="spacingAndGlyphs">0.0</text>
<text x="426.74" y="854.26" textLength="11.97" lengthAdjust="spacingAndGlyphs">0.0</text>
<text x="443.76" y="854.26" textLength="11.97" lengthAdjust="spacingAndGlyphs">0.0</text>
<text x="460.78" y="854.26" textLength="11.97" lengthAdjust="spacingAndGlyphs">0.0</text>
<text x="477.80" y="854.26" textLength="11.97" lengthAdjust="spacingAndGlyphs">0.0</text>
<text x="494.82" y="854.26" textLength="16.79" lengthAdjust="spacingAndGlyphs">0.01</text>
<text x="511.84" y="854.26" textLength="11.97" lengthAdjust="spacingAndGlyphs">0.0</text>
<text x="528.86" y="854.26" textLength="11.97" lengthAdjust="spacingAndGlyphs">0.0</text>
<text x="545.88" y="854.26" textLength="11.97" lengthAdjust="spacingAndGlyphs">0.0</text>
<text x="562.90" y="854.26" textLength="11.97" lengthAdjust="spacingAndGlyphs">0.0</text>
<text x="579.92" y="854.26" textLength="11.97" lengthAdjust="spacingAndGlyphs">0.0</text>
<text x="596.94" y="854.26" textLength="11.97" lengthAdjust="spacingAndGlyphs">0.0</text>
<text x="103.36" y="871.26" textLength="11.97" lengthAdjust="spacingAndGlyphs">0.0</text>
<text x="120.38" y="871.26" textLength="11.97" lengthAdjust="spacingAndGlyphs">0.0</text>
<text x="137.40" y="871.26" textLength="11.97" lengthAdjust="spacingAndGlyphs">0.0</text>
<text x="154.42" y="871.26" textLength="11.97" lengthAdjust="spacingAndGlyphs">0.0</text>
<text x="171.44" y="871.26" textLength="11.97" lengthAdjust="spacingAndGlyphs">0.0</text>
<text x="188.46" y="871.26" textLength="16.79" lengthAdjust="spacingAndGlyphs">0.01</text>
<text x="205.48" y="871.26" textLength="16.74" lengthAdjust="spacingAndGlyphs">0.02</text>
<text x="222.50" y="871.26" textLength="16.79" lengthAdjust="spacingAndGlyphs">0.01</text>
<text x="239.52" y="871.26" textLength="11.97" lengthAdjust="spacingAndGlyphs">0.0</text>
<text x="256.54" y="871.26" textLength="11.97" lengthAdjust="spacingAndGlyphs">0.0</text>
<text x="273.56" y="871.26" textLength="11.97" lengthAdjust="spacingAndGlyphs">0.0</text>
<text x="290.58" y="871.26" textLength="11.97" lengthAdjust="spacingAndGlyphs">0.0</text>
<text x="324.62" y="871.26" textLength="11.97" lengthAdjust="spacingAndGlyphs">0.0</text>
<text x="341.64" y="871.26" textLength="11.97" lengthAdjust="spacingAndGlyphs">0.0</text>
<text x="358.66" y="871.26" textLength="11.97" lengthAdjust="spacingAndGlyphs">0.0</text>
<text x="375.68" y="871.26" textLength="11.97" lengthAdjust="spacingAndGlyphs">0.0</text>
<text x="392.70" y="871.26" textLength="11.97" lengthAdjust="spacingAndGlyphs">0.0</text>
<text x="409.72" y="871.26" textLength="11.97" lengthAdjust="spacingAndGlyphs">0.0</text>
<text x="426.74" y="871.26" textLength="11.97" lengthAdjust="spacingAndGlyphs">0.0</text>
<text x="443.76" y="871.26" textLength="11.97" lengthAdjust="spacingAndGlyphs">0.0</text>
<text x="460.78" y="871.26" textLength="16.79" lengthAdjust="spacingAndGlyphs">0.01</text>
<text x="477.80" y="871.26" textLength="16.74" lengthAdjust="spacingAndGlyphs">0.02</text>
<text x="494.82" y="871.26" textLength="11.97" lengthAdjust="spacingAndGlyphs">0.0</text>
<text x="511.84" y="871.26" textLength="16.79" lengthAdjust="spacingAndGlyphs">0.01</text>
<text x="528.86" y="871.26" textLength="11.97" lengthAdjust="spacingAndGlyphs">0.0</text>
<text x="545.88" y="871.26" textLength="11.97" lengthAdjust="spacingAndGlyphs">0.0</text>
<text x="562.90" y="871.26" textLength="11.97" lengthAdjust="spacingAndGlyphs">0.0</text>
<text x="579.92" y="871.26" textLength="11.97" lengthAdjust="spacingAndGlyphs">0.0</text>
<text x="596.94" y="871.26" textLength="11.97" lengthAdjust="spacingAndGlyphs">0.0</text>
<text x="103.36" y="888.26" textLength="11.97" lengthAdjust="spacingAndGlyphs">0.0</text>
<text x="120.38" y="888.26" textLength="11.97" lengthAdjust="spacingAndGlyphs">0.0</text>
<text x="137.40" y="888.26" textLength="11.97" lengthAdjust="spacingAndGlyphs">0.0</text>
<text x="154.42" y="888.26" textLength="11.97" lengthAdjust="spacingAndGlyphs">0.0</text>
<text x="171.44" y="888.26" textLength="11.97" lengthAdjust="spacingAndGlyphs">0.0</text>
<text x="188.46" y="888.26" textLength="11.97" lengthAdjust="spacingAndGlyphs">0.0</text>
<text x="205.48" y="888.26" textLength="11.97" lengthAdjust="spacingAndGlyphs">0.0</text>
<text x="222.50" y="888.26" textLength="11.97" lengthAdjust="spacingAndGlyphs">0.0</text>
<text x="239.52" y="888.26" textLength="11.97" lengthAdjust="spacingAndGlyphs">0.0</text>
<text x="256.54" y="888.26" textLength="11.97" lengthAdjust="spacingAndGlyphs">0.0</text>
<text x="273.56" y="888.26" textLength="11.97" lengthAdjust="spacingAndGlyphs">0.0</text>
<text x="290.58" y="888.26" textLength="16.79" lengthAdjust="spacingAndGlyphs">0.01</text>
<text x="307.60" y="888.26" textLength="11.97" lengthAdjust="spacingAndGlyphs">0.0</text>
<text x="341.64" y="888.26" textLength="11.97" lengthAdjust="spacingAndGlyphs">0.0</text>
<text x="358.66" y="888.26" textLength="11.97" lengthAdjust="spacingAndGlyphs">0.0</text>
<text x="375.68" y="888.26" textLength="11.97" lengthAdjust="spacingAndGlyphs">0.0</text>
<text x="392.70" y="888.26" textLength="11.97" lengthAdjust="spacingAndGlyphs">0.0</text>
<text x="409.72" y="888.26" textLength="11.97" lengthAdjust="spacingAndGlyphs">0.0</text>
<text x="426.74" y="888.26" textLength="11.97" lengthAdjust="spacingAndGlyphs">0.0</text>
<text x="443.76" y="888.26" textLength="11.97" lengthAdjust="spacingAndGlyphs">0.0</text>
<text x="460.78" y="888.26" textLength="11.97" lengthAdjust="spacingAndGlyphs">0.0</text>
<text x="477.80" y="888.26" textLength="11.97" lengthAdjust="spacingAndGlyphs">0.0</text>
<text x="494.82" y="888.26" textLength="11.97" lengthAdjust="spacingAndGlyphs">0.0</text>
<text x="511.84" y="888.26" textLength="11.97" lengthAdjust="spacingAndGlyphs">0.0</text>
<text x="528.86" y="888.26" textLength="11.97" lengthAdjust="spacingAndGlyphs">0.0</text>
<text x="545.88" y="888.26" textLength="11.97" lengthAdjust="spacingAndGlyphs">0.0</text>
<text x="562.90" y="888.26" textLength="11.97" lengthAdjust="spacingAndGlyphs">0.0</text>
<text x="579.92" y="888.26" textLength="11.97" lengthAdjust="spacingAndGlyphs">0.0</text>
<text x="596.94" y="888.26" textLength="11.97" lengthAdjust="spacingAndGlyphs">0.0</text>
<text x="103.36" y="905.26" textLength="11.97" lengthAdjust="spacingAndGlyphs">0.0</text>
<text x="120.38" y="905.26" textLength="11.97" lengthAdjust="spacingAndGlyphs">0.0</text>
<text x="137.40" y="905.26" textLength="11.97" lengthAdjust="spacingAndGlyphs">0.0</text>
<text x="154.42" y="905.26" textLength="11.97" lengthAdjust="spacingAndGlyphs">0.0</text>
<text x="171.44" y="905.26" textLength="11.97" lengthAdjust="spacingAndGlyphs">0.0</text>
<text x="188.46" y="905.26" textLength="11.97" lengthAdjust="spacingAndGlyphs">0.0</text>
<text x="205.48" y="905.26" textLength="11.97" lengthAdjust="spacingAndGlyphs">0.0</text>
<text x="222.50" y="905.26" textLength="11.97" lengthAdjust="spacingAndGlyphs">0.0</text>
<text x="239.52" y="905.26" textLength="11.97" lengthAdjust="spacingAndGlyphs">0.0</text>
<text x="256.54" y="905.26" textLength="11.97" lengthAdjust="spacingAndGlyphs">0.0</text>
<text x="273.56" y="905.26" textLength="11.97" lengthAdjust="spacingAndGlyphs">0.0</text>
<text x="290.58" y="905.26" textLength="11.97" lengthAdjust="spacingAndGlyphs">0.0</text>
<text x="307.60" y="905.26" textLength="11.97" lengthAdjust="spacingAndGlyphs">0.0</text>
<text x="324.62" y="905.26" textLength="11.97" lengthAdjust="spacingAndGlyphs">0.0</text>
<text x="358.66" y="905.26" textLength="11.97" lengthAdjust="spacingAndGlyphs">0.0</text>
<text x="375.68" y="905.26" textLength="11.97" lengthAdjust="spacingAndGlyphs">0.0</text>
<text x="392.70" y="905.26" textLength="11.97" lengthAdjust="spacingAndGlyphs">0.0</text>
<text x="409.72" y="905.26" textLength="11.97" lengthAdjust="spacingAndGlyphs">0.0</text>
<text x="426.74" y="905.26" textLength="11.97" lengthAdjust="spacingAndGlyphs">0.0</text>
<text x="443.76" y="905.26" textLength="11.97" lengthAdjust="spacingAndGlyphs">0.0</text>
<text x="460.78" y="905.26" textLength="11.97" lengthAdjust="spacingAndGlyphs">0.0</text>
<text x="477.80" y="905.26" textLength="11.97" lengthAdjust="spacingAndGlyphs">0.0</text>
<text x="494.82" y="905.26" textLength="11.97" lengthAdjust="spacingAndGlyphs">0.0</text>
<text x="511.84" y="905.26" textLength="11.97" lengthAdjust="spacingAndGlyphs">0.0</text>
<text x="528.86" y="905.26" textLength="16.79" lengthAdjust="spacingAndGlyphs">0.01</text>
<text x="545.88" y="905.26" textLength="16.79" lengthAdjust="spacingAndGlyphs">0.01</text>
<text x="562.90" y="905.26" textLength="11.97" lengthAdjust="spacingAndGlyphs">0.0</text>
<text x="579.92" y="905.26" textLength="11.97" lengthAdjust="spacingAndGlyphs">0.0</text>
<text x="596.94" y="905.26" textLength="11.97" lengthAdjust="spacingAndGlyphs">0.0</text>
<text x="103.36" y="922.26" textLength="11.97" lengthAdjust="spacingAndGlyphs">0.0</text>
<text x="120.38" y="922.26" textLength="11.97" lengthAdjust="spacingAndGlyphs">0.0</text>
<text x="137.40" y="922.26" textLength="11.97" lengthAdjust="spacingAndGlyphs">0.0</text>
<text x="154.42" y="922.26" textLength="11.97" lengthAdjust="spacingAndGlyphs">0.0</text>
<text x="171.44" y="922.26" textLength="11.97" lengthAdjust="spacingAndGlyphs">0.0</text>
<text x="188.46" y="922.26" textLength="11.97" lengthAdjust="spacingAndGlyphs">0.0</text>
<text x="205.48" y="922.26" textLength="11.97" lengthAdjust="spacingAndGlyphs">0.0</text>
<text x="222.50" y="922.26" textLength="11.97" lengthAdjust="spacingAndGlyphs">0.0</text>
<text x="239.52" y="922.26" textLength="11.97" lengthAdjust="spacingAndGlyphs">0.0</text>
<text x="256.54" y="922.26" textLength="11.97" lengthAdjust="spacingAndGlyphs">0.0</text>
<text x="273.56" y="922.26" textLength="11.97" lengthAdjust="spacingAndGlyphs">0.0</text>
<text x="290.58" y="922.26" textLength="11.97" lengthAdjust="spacingAndGlyphs">0.0</text>
<text x="307.60" y="922.26" textLength="11.97" lengthAdjust="spacingAndGlyphs">0.0</text>
<text x="324.62" y="922.26" textLength="11.97" lengthAdjust="spacingAndGlyphs">0.0</text>
<text x="341.64" y="922.26" textLength="11.97" lengthAdjust="spacingAndGlyphs">0.0</text>
<text x="375.68" y="922.26" textLength="11.97" lengthAdjust="spacingAndGlyphs">0.0</text>
<text x="392.70" y="922.26" textLength="11.97" lengthAdjust="spacingAndGlyphs">0.0</text>
<text x="409.72" y="922.26" textLength="11.97" lengthAdjust="spacingAndGlyphs">0.0</text>
<text x="426.74" y="922.26" textLength="11.97" lengthAdjust="spacingAndGlyphs">0.0</text>
<text x="443.76" y="922.26" textLength="11.97" lengthAdjust="spacingAndGlyphs">0.0</text>
<text x="460.78" y="922.26" textLength="11.97" lengthAdjust="spacingAndGlyphs">0.0</text>
<text x="477.80" y="922.26" textLength="11.97" lengthAdjust="spacingAndGlyphs">0.0</text>
<text x="494.82" y="922.26" textLength="11.97" lengthAdjust="spacingAndGlyphs">0.0</text>
<text x="511.84" y="922.26" textLength="11.97" lengthAdjust="spacingAndGlyphs">0.0</text>
<text x="528.86" y="922.26" textLength="11.97" lengthAdjust="spacingAndGlyphs">0.0</text>
<text x="545.88" y="922.26" textLength="11.97" lengthAdjust="spacingAndGlyphs">0.0</text>
<text x="562.90" y="922.26" textLength="11.97" lengthAdjust="spacingAndGlyphs">0.0</text>
<text x="579.92" y="922.26" textLength="11.97" lengthAdjust="spacingAndGlyphs">0.0</text>
<text x="596.94" y="922.26" textLength="11.97" lengthAdjust="spacingAndGlyphs">0.0</text>
<text x="103.36" y="939.26" textLength="11.97" lengthAdjust="spacingAndGlyphs">0.0</text>
<text x="120.38" y="939.26" textLength="11.97" lengthAdjust="spacingAndGlyphs">0.0</text>
<text x="137.40" y="939.26" textLength="11.97" lengthAdjust="spacingAndGlyphs">0.0</text>
<text x="154.42" y="939.26" textLength="11.97" lengthAdjust="spacingAndGlyphs">0.0</text>
<text x="171.44" y="939.26" textLength="11.97" lengthAdjust="spacingAndGlyphs">0.0</text>
<text x="188.46" y="939.26" textLength="11.97" lengthAdjust="spacingAndGlyphs">0.0</text>
<text x="205.48" y="939.26" textLength="11.97" lengthAdjust="spacingAndGlyphs">0.0</text>
<text x="222.50" y="939.26" textLength="16.79" lengthAdjust="spacingAndGlyphs">0.01</text>
<text x="239.52" y="939.26" textLength="16.74" lengthAdjust="spacingAndGlyphs">0.02</text>
<text x="256.54" y="939.26" textLength="11.97" lengthAdjust="spacingAndGlyphs">0.0</text>
<text x="273.56" y="939.26" textLength="11.97" lengthAdjust="spacingAndGlyphs">0.0</text>
<text x="290.58" y="939.26" textLength="11.97" lengthAdjust="spacingAndGlyphs">0.0</text>
<text x="307.60" y="939.26" textLength="11.97" lengthAdjust="spacingAndGlyphs">0.0</text>
<text x="324.62" y="939.26" textLength="11.97" lengthAdjust="spacingAndGlyphs">0.0</text>
<text x="341.64" y="939.26" textLength="11.97" lengthAdjust="spacingAndGlyphs">0.0</text>
<text x="358.66" y="939.26" textLength="11.97" lengthAdjust="spacingAndGlyphs">0.0</text>
<text x="392.70" y="939.26" textLength="11.97" lengthAdjust="spacingAndGlyphs">0.0</text>
<text x="409.72" y="939.26" textLength="11.97" lengthAdjust="spacingAndGlyphs">0.0</text>
<text x="426.74" y="939.26" textLength="11.97" lengthAdjust="spacingAndGlyphs">0.0</text>
<text x="443.76" y="939.26" textLength="11.97" lengthAdjust="spacingAndGlyphs">0.0</text>
<text x="460.78" y="939.26" textLength="16.79" lengthAdjust="spacingAndGlyphs">0.01</text>
<text x="477.80" y="939.26" textLength="16.86" lengthAdjust="spacingAndGlyphs">0.07</text>
<text x="494.82" y="939.26" textLength="11.97" lengthAdjust="spacingAndGlyphs">0.0</text>
<text x="511.84" y="939.26" textLength="16.74" lengthAdjust="spacingAndGlyphs">0.02</text>
<text x="528.86" y="939.26" textLength="16.74" lengthAdjust="spacingAndGlyphs">0.02</text>
<text x="545.88" y="939.26" textLength="16.84" lengthAdjust="spacingAndGlyphs">0.03</text>
<text x="562.90" y="939.26" textLength="11.97" lengthAdjust="spacingAndGlyphs">0.0</text>
<text x="579.92" y="939.26" textLength="16.79" lengthAdjust="spacingAndGlyphs">0.01</text>
<text x="596.94" y="939.26" textLength="11.97" lengthAdjust="spacingAndGlyphs">0.0</text>
<text x="103.36" y="956.26" textLength="11.97" lengthAdjust="spacingAndGlyphs">0.0</text>
<text x="120.38" y="956.26" textLength="11.97" lengthAdjust="spacingAndGlyphs">0.0</text>
<text x="137.40" y="956.26" textLength="11.97" lengthAdjust="spacingAndGlyphs">0.0</text>
<text x="154.42" y="956.26" textLength="11.97" lengthAdjust="spacingAndGlyphs">0.0</text>
<text x="171.44" y="956.26" textLength="11.97" lengthAdjust="spacingAndGlyphs">0.0</text>
<text x="188.46" y="956.26" textLength="11.97" lengthAdjust="spacingAndGlyphs">0.0</text>
<text x="205.48" y="956.26" textLength="11.97" lengthAdjust="spacingAndGlyphs">0.0</text>
<text x="222.50" y="956.26" textLength="11.97" lengthAdjust="spacingAndGlyphs">0.0</text>
<text x="239.52" y="956.26" textLength="11.97" lengthAdjust="spacingAndGlyphs">0.0</text>
<text x="256.54" y="956.26" textLength="11.97" lengthAdjust="spacingAndGlyphs">0.0</text>
<text x="273.56" y="956.26" textLength="11.97" lengthAdjust="spacingAndGlyphs">0.0</text>
<text x="290.58" y="956.26" textLength="11.97" lengthAdjust="spacingAndGlyphs">0.0</text>
<text x="307.60" y="956.26" textLength="11.97" lengthAdjust="spacingAndGlyphs">0.0</text>
<text x="324.62" y="956.26" textLength="11.97" lengthAdjust="spacingAndGlyphs">0.0</text>
<text x="341.64" y="956.26" textLength="11.97" lengthAdjust="spacingAndGlyphs">0.0</text>
<text x="358.66" y="956.26" textLength="11.97" lengthAdjust="spacingAndGlyphs">0.0</text>
<text x="375.68" y="956.26" textLength="11.97" lengthAdjust="spacingAndGlyphs">0.0</text>
<text x="409.72" y="956.26" textLength="11.97" lengthAdjust="spacingAndGlyphs">0.0</text>
<text x="426.74" y="956.26" textLength="11.97" lengthAdjust="spacingAndGlyphs">0.0</text>
<text x="443.76" y="956.26" textLength="11.97" lengthAdjust="spacingAndGlyphs">0.0</text>
<text x="460.78" y="956.26" textLength="11.97" lengthAdjust="spacingAndGlyphs">0.0</text>
<text x="477.80" y="956.26" textLength="11.97" lengthAdjust="spacingAndGlyphs">0.0</text>
<text x="494.82" y="956.26" textLength="11.97" lengthAdjust="spacingAndGlyphs">0.0</text>
<text x="511.84" y="956.26" textLength="11.97" lengthAdjust="spacingAndGlyphs">0.0</text>
<text x="528.86" y="956.26" textLength="11.97" lengthAdjust="spacingAndGlyphs">0.0</text>
<text x="545.88" y="956.26" textLength="11.97" lengthAdjust="spacingAndGlyphs">0.0</text>
<text x="562.90" y="956.26" textLength="11.97" lengthAdjust="spacingAndGlyphs">0.0</text>
<text x="579.92" y="956.26" textLength="11.97" lengthAdjust="spacingAndGlyphs">0.0</text>
<text x="596.94" y="956.26" textLength="11.97" lengthAdjust="spacingAndGlyphs">0.0</text>
<text x="103.36" y="973.26" textLength="11.97" lengthAdjust="spacingAndGlyphs">0.0</text>
<text x="120.38" y="973.26" textLength="11.97" lengthAdjust="spacingAndGlyphs">0.0</text>
<text x="137.40" y="973.26" textLength="16.79" lengthAdjust="spacingAndGlyphs">0.01</text>
<text x="154.42" y="973.26" textLength="11.97" lengthAdjust="spacingAndGlyphs">0.0</text>
<text x="171.44" y="973.26" textLength="11.97" lengthAdjust="spacingAndGlyphs">0.0</text>
<text x="188.46" y="973.26" textLength="16.79" lengthAdjust="spacingAndGlyphs">0.01</text>
<text x="205.48" y="973.26" textLength="11.97" lengthAdjust="spacingAndGlyphs">0.0</text>
<text x="222.50" y="973.26" textLength="11.97" lengthAdjust="spacingAndGlyphs">0.0</text>
<text x="239.52" y="973.26" textLength="11.97" lengthAdjust="spacingAndGlyphs">0.0</text>
<text x="256.54" y="973.26" textLength="11.97" lengthAdjust="spacingAndGlyphs">0.0</text>
<text x="273.56" y="973.26" textLength="11.97" lengthAdjust="spacingAndGlyphs">0.0</text>
<text x="290.58" y="973.26" textLength="11.97" lengthAdjust="spacingAndGlyphs">0.0</text>
<text x="307.60" y="973.26" textLength="11.97" lengthAdjust="spacingAndGlyphs">0.0</text>
<text x="324.62" y="973.26" textLength="11.97" lengthAdjust="spacingAndGlyphs">0.0</text>
<text x="341.64" y="973.26" textLength="11.97" lengthAdjust="spacingAndGlyphs">0.0</text>
<text x="358.66" y="973.26" textLength="11.97" lengthAdjust="spacingAndGlyphs">0.0</text>
<text x="375.68" y="973.26" textLength="11.97" lengthAdjust="spacingAndGlyphs">0.0</text>
<text x="392.70" y="973.26" textLength="11.97" lengthAdjust="spacingAndGlyphs">0.0</text>
<text x="426.74" y="973.26" textLength="16.79" lengthAdjust="spacingAndGlyphs">0.01</text>
<text x="443.76" y="973.26" textLength="11.97" lengthAdjust="spacingAndGlyphs">0.0</text>
<text x="460.78" y="973.26" textLength="11.97" lengthAdjust="spacingAndGlyphs">0.0</text>
<text x="477.80" y="973.26" textLength="11.97" lengthAdjust="spacingAndGlyphs">0.0</text>
<text x="494.82" y="973.26" textLength="11.97" lengthAdjust="spacingAndGlyphs">0.0</text>
<text x="511.84" y="973.26" textLength="16.79" lengthAdjust="spacingAndGlyphs">0.01</text>
<text x="528.86" y="973.26" textLength="11.97" lengthAdjust="spacingAndGlyphs">0.0</text>
<text x="545.88" y="973.26" textLength="11.97" lengthAdjust="spacingAndGlyphs">0.0</text>
<text x="562.90" y="973.26" textLength="16.74" lengthAdjust="spacingAndGlyphs">0.02</text>
<text x="579.92" y="973.26" textLength="11.97" lengthAdjust="spacingAndGlyphs">0.0</text>
<text x="596.94" y="973.26" textLength="11.97" lengthAdjust="spacingAndGlyphs">0.0</text>
<text x="103.36" y="990.26" textLength="11.97" lengthAdjust="spacingAndGlyphs">0.0</text>
<text x="120.38" y="990.26" textLength="11.97" lengthAdjust="spacingAndGlyphs">0.0</text>
<text x="137.40" y="990.26" textLength="11.97" lengthAdjust="spacingAndGlyphs">0.0</text>
<text x="154.42" y="990.26" textLength="11.97" lengthAdjust="spacingAndGlyphs">0.0</text>
<text x="171.44" y="990.26" textLength="11.97" lengthAdjust="spacingAndGlyphs">0.0</text>
<text x="188.46" y="990.26" textLength="11.97" lengthAdjust="spacingAndGlyphs">0.0</text>
<text x="205.48" y="990.26" textLength="11.97" lengthAdjust="spacingAndGlyphs">0.0</text>
<text x="222.50" y="990.26" textLength="11.97" lengthAdjust="spacingAndGlyphs">0.0</text>
<text x="239.52" y="990.26" textLength="11.97" lengthAdjust="spacingAndGlyphs">0.0</text>
<text x="256.54" y="990.26" textLength="11.97" lengthAdjust="spacingAndGlyphs">0.0</text>
<text x="273.56" y="990.26" textLength="11.97" lengthAdjust="spacingAndGlyphs">0.0</text>
<text x="290.58" y="990.26" textLength="11.97" lengthAdjust="spacingAndGlyphs">0.0</text>
<text x="307.60" y="990.26" textLength="11.97" lengthAdjust="spacingAndGlyphs">0.0</text>
<text x="324.62" y="990.26" textLength="16.79" lengthAdjust="spacingAndGlyphs">0.01</text>
<text x="341.64" y="990.26" textLength="11.97" lengthAdjust="spacingAndGlyphs">0.0</text>
<text x="358.66" y="990.26" textLength="11.97" lengthAdjust="spacingAndGlyphs">0.0</text>
<text x="375.68" y="990.26" textLength="11.97" lengthAdjust="spacingAndGlyphs">0.0</text>
<text x="392.70" y="990.26" textLength="11.97" lengthAdjust="spacingAndGlyphs">0.0</text>
<text x="409.72" y="990.26" textLength="11.97" lengthAdjust="spacingAndGlyphs">0.0</text>
<text x="443.76" y="990.26" textLength="16.79" lengthAdjust="spacingAndGlyphs">0.01</text>
<text x="460.78" y="990.26" textLength="11.97" lengthAdjust="spacingAndGlyphs">0.0</text>
<text x="477.80" y="990.26" textLength="11.97" lengthAdjust="spacingAndGlyphs">0.0</text>
<text x="494.82" y="990.26" textLength="16.79" lengthAdjust="spacingAndGlyphs">0.01</text>
<text x="511.84" y="990.26" textLength="11.97" lengthAdjust="spacingAndGlyphs">0.0</text>
<text x="528.86" y="990.26" textLength="11.97" lengthAdjust="spacingAndGlyphs">0.0</text>
<text x="545.88" y="990.26" textLength="11.97" lengthAdjust="spacingAndGlyphs">0.0</text>
<text x="562.90" y="990.26" textLength="11.97" lengthAdjust="spacingAndGlyphs">0.0</text>
<text x="579.92" y="990.26" textLength="11.97" lengthAdjust="spacingAndGlyphs">0.0</text>
<text x="596.94" y="990.26" textLength="11.97" lengthAdjust="spacingAndGlyphs">0.0</text>
<text x="103.36" y="1007.26" textLength="11.97" lengthAdjust="spacingAndGlyphs">0.0</text>
<text x="120.38" y="1007.26" textLength="11.97" lengthAdjust="spacingAndGlyphs">0.0</text>
<text x="137.40" y="1007.26" textLength="11.97" lengthAdjust="spacingAndGlyphs">0.0</text>
<text x="154.42" y="1007.26" textLength="11.97" lengthAdjust="spacingAndGlyphs">0.0</text>
<text x="171.44" y="1007.26" textLength="11.97" lengthAdjust="spacingAndGlyphs">0.0</text>
<text x="188.46" y="1007.26" textLength="11.97" lengthAdjust="spacingAndGlyphs">0.0</text>
<text x="205.48" y="1007.26" textLength="11.97" lengthAdjust="spacingAndGlyphs">0.0</text>
<text x="222.50" y="1007.26" textLength="11.97" lengthAdjust="spacingAndGlyphs">0.0</text>
<text x="239.52" y="1007.26" textLength="11.97" lengthAdjust="spacingAndGlyphs">0.0</text>
<text x="256.54" y="1007.26" textLength="11.97" lengthAdjust="spacingAndGlyphs">0.0</text>
<text x="273.56" y="1007.26" textLength="11.97" lengthAdjust="spacingAndGlyphs">0.0</text>
<text x="290.58" y="1007.26" textLength="11.97" lengthAdjust="spacingAndGlyphs">0.0</text>
<text x="307.60" y="1007.26" textLength="11.97" lengthAdjust="spacingAndGlyphs">0.0</text>
<text x="324.62" y="1007.26" textLength="11.97" lengthAdjust="spacingAndGlyphs">0.0</text>
<text x="341.64" y="1007.26" textLength="11.97" lengthAdjust="spacingAndGlyphs">0.0</text>
<text x="358.66" y="1007.26" textLength="11.97" lengthAdjust="spacingAndGlyphs">0.0</text>
<text x="375.68" y="1007.26" textLength="16.79" lengthAdjust="spacingAndGlyphs">0.01</text>
<text x="392.70" y="1007.26" textLength="16.79" lengthAdjust="spacingAndGlyphs">0.01</text>
<text x="409.72" y="1007.26" textLength="11.97" lengthAdjust="spacingAndGlyphs">0.0</text>
<text x="426.74" y="1007.26" textLength="16.79" lengthAdjust="spacingAndGlyphs">0.01</text>
<text x="460.78" y="1007.26" textLength="11.97" lengthAdjust="spacingAndGlyphs">0.0</text>
<text x="477.80" y="1007.26" textLength="11.97" lengthAdjust="spacingAndGlyphs">0.0</text>
<text x="494.82" y="1007.26" textLength="11.97" lengthAdjust="spacingAndGlyphs">0.0</text>
<text x="511.84" y="1007.26" textLength="11.97" lengthAdjust="spacingAndGlyphs">0.0</text>
<text x="528.86" y="1007.26" textLength="11.97" lengthAdjust="spacingAndGlyphs">0.0</text>
<text x="545.88" y="1007.26" textLength="11.97" lengthAdjust="spacingAndGlyphs">0.0</text>
<text x="562.90" y="1007.26" textLength="11.97" lengthAdjust="spacingAndGlyphs">0.0</text>
<text x="579.92" y="1007.26" textLength="11.97" lengthAdjust="spacingAndGlyphs">0.0</text>
<text x="596.94" y="1007.26" textLength="11.97" lengthAdjust="spacingAndGlyphs">0.0</text>
<text x="103.36" y="1024.26" textLength="16.74" lengthAdjust="spacingAndGlyphs">0.02</text>
<text x="120.38" y="1024.26" textLength="11.97" lengthAdjust="spacingAndGlyphs">0.0</text>
<text x="137.40" y="1024.26" textLength="11.97" lengthAdjust="spacingAndGlyphs">0.0</text>
<text x="154.42" y="1024.26" textLength="11.97" lengthAdjust="spacingAndGlyphs">0.0</text>
<text x="171.44" y="1024.26" textLength="16.79" lengthAdjust="spacingAndGlyphs">0.01</text>
<text x="188.46" y="1024.26" textLength="11.97" lengthAdjust="spacingAndGlyphs">0.0</text>
<text x="205.48" y="1024.26" textLength="11.97" lengthAdjust="spacingAndGlyphs">0.0</text>
<text x="222.50" y="1024.26" textLength="11.97" lengthAdjust="spacingAndGlyphs">0.0</text>
<text x="239.52" y="1024.26" textLength="11.97" lengthAdjust="spacingAndGlyphs">0.0</text>
<text x="256.54" y="1024.26" textLength="11.97" lengthAdjust="spacingAndGlyphs">0.0</text>
<text x="273.56" y="1024.26" textLength="11.97" lengthAdjust="spacingAndGlyphs">0.0</text>
<text x="290.58" y="1024.26" textLength="11.97" lengthAdjust="spacingAndGlyphs">0.0</text>
<text x="307.60" y="1024.26" textLength="16.74" lengthAdjust="spacingAndGlyphs">0.02</text>
<text x="324.62" y="1024.26" textLength="11.97" lengthAdjust="spacingAndGlyphs">0.0</text>
<text x="341.64" y="1024.26" textLength="11.97" lengthAdjust="spacingAndGlyphs">0.0</text>
<text x="358.66" y="1024.26" textLength="11.97" lengthAdjust="spacingAndGlyphs">0.0</text>
<text x="375.68" y="1024.26" textLength="16.79" lengthAdjust="spacingAndGlyphs">0.01</text>
<text x="392.70" y="1024.26" textLength="16.79" lengthAdjust="spacingAndGlyphs">0.01</text>
<text x="409.72" y="1024.26" textLength="16.79" lengthAdjust="spacingAndGlyphs">0.01</text>
<text x="426.74" y="1024.26" textLength="16.79" lengthAdjust="spacingAndGlyphs">0.01</text>
<text x="443.76" y="1024.26" textLength="11.97" lengthAdjust="spacingAndGlyphs">0.0</text>
<text x="477.80" y="1024.26" textLength="16.79" lengthAdjust="spacingAndGlyphs">0.01</text>
<text x="494.82" y="1024.26" textLength="11.97" lengthAdjust="spacingAndGlyphs">0.0</text>
<text x="511.84" y="1024.26" textLength="11.97" lengthAdjust="spacingAndGlyphs">0.0</text>
<text x="528.86" y="1024.26" textLength="11.97" lengthAdjust="spacingAndGlyphs">0.0</text>
<text x="545.88" y="1024.26" textLength="11.97" lengthAdjust="spacingAndGlyphs">0.0</text>
<text x="562.90" y="1024.26" textLength="11.97" lengthAdjust="spacingAndGlyphs">0.0</text>
<text x="579.92" y="1024.26" textLength="11.97" lengthAdjust="spacingAndGlyphs">0.0</text>
<text x="596.94" y="1024.26" textLength="11.97" lengthAdjust="spacingAndGlyphs">0.0</text>
<text x="103.36" y="1041.26" textLength="16.79" lengthAdjust="spacingAndGlyphs">0.01</text>
<text x="120.38" y="1041.26" textLength="11.97" lengthAdjust="spacingAndGlyphs">0.0</text>
<text x="137.40" y="1041.26" textLength="11.97" lengthAdjust="spacingAndGlyphs">0.0</text>
<text x="154.42" y="1041.26" textLength="11.97" lengthAdjust="spacingAndGlyphs">0.0</text>
<text x="171.44" y="1041.26" textLength="11.97" lengthAdjust="spacingAndGlyphs">0.0</text>
<text x="188.46" y="1041.26" textLength="16.79" lengthAdjust="spacingAndGlyphs">0.01</text>
<text x="205.48" y="1041.26" textLength="16.79" lengthAdjust="spacingAndGlyphs">0.01</text>
<text x="222.50" y="1041.26" textLength="16.79" lengthAdjust="spacingAndGlyphs">0.01</text>
<text x="239.52" y="1041.26" textLength="11.97" lengthAdjust="spacingAndGlyphs">0.0</text>
<text x="256.54" y="1041.26" textLength="11.97" lengthAdjust="spacingAndGlyphs">0.0</text>
<text x="273.56" y="1041.26" textLength="11.97" lengthAdjust="spacingAndGlyphs">0.0</text>
<text x="290.58" y="1041.26" textLength="11.97" lengthAdjust="spacingAndGlyphs">0.0</text>
<text x="307.60" y="1041.26" textLength="11.97" lengthAdjust="spacingAndGlyphs">0.0</text>
<text x="324.62" y="1041.26" textLength="11.97" lengthAdjust="spacingAndGlyphs">0.0</text>
<text x="341.64" y="1041.26" textLength="11.97" lengthAdjust="spacingAndGlyphs">0.0</text>
<text x="358.66" y="1041.26" textLength="11.97" lengthAdjust="spacingAndGlyphs">0.0</text>
<text x="375.68" y="1041.26" textLength="16.74" lengthAdjust="spacingAndGlyphs">0.02</text>
<text x="392.70" y="1041.26" textLength="11.97" lengthAdjust="spacingAndGlyphs">0.0</text>
<text x="409.72" y="1041.26" textLength="11.97" lengthAdjust="spacingAndGlyphs">0.0</text>
<text x="426.74" y="1041.26" textLength="16.79" lengthAdjust="spacingAndGlyphs">0.01</text>
<text x="443.76" y="1041.26" textLength="11.97" lengthAdjust="spacingAndGlyphs">0.0</text>
<text x="460.78" y="1041.26" textLength="11.97" lengthAdjust="spacingAndGlyphs">0.0</text>
<text x="494.82" y="1041.26" textLength="11.97" lengthAdjust="spacingAndGlyphs">0.0</text>
<text x="511.84" y="1041.26" textLength="11.97" lengthAdjust="spacingAndGlyphs">0.0</text>
<text x="528.86" y="1041.26" textLength="16.79" lengthAdjust="spacingAndGlyphs">0.01</text>
<text x="545.88" y="1041.26" textLength="11.97" lengthAdjust="spacingAndGlyphs">0.0</text>
<text x="562.90" y="1041.26" textLength="11.97" lengthAdjust="spacingAndGlyphs">0.0</text>
<text x="579.92" y="1041.26" textLength="11.97" lengthAdjust="spacingAndGlyphs">0.0</text>
<text x="596.94" y="1041.26" textLength="11.97" lengthAdjust="spacingAndGlyphs">0.0</text>
<text x="103.36" y="1058.26" textLength="11.97" lengthAdjust="spacingAndGlyphs">0.0</text>
<text x="120.38" y="1058.26" textLength="11.97" lengthAdjust="spacingAndGlyphs">0.0</text>
<text x="137.40" y="1058.26" textLength="11.97" lengthAdjust="spacingAndGlyphs">0.0</text>
<text x="154.42" y="1058.26" textLength="11.97" lengthAdjust="spacingAndGlyphs">0.0</text>
<text x="171.44" y="1058.26" textLength="11.97" lengthAdjust="spacingAndGlyphs">0.0</text>
<text x="188.46" y="1058.26" textLength="11.97" lengthAdjust="spacingAndGlyphs">0.0</text>
<text x="205.48" y="1058.26" textLength="11.97" lengthAdjust="spacingAndGlyphs">0.0</text>
<text x="222.50" y="1058.26" textLength="11.97" lengthAdjust="spacingAndGlyphs">0.0</text>
<text x="239.52" y="1058.26" textLength="11.97" lengthAdjust="spacingAndGlyphs">0.0</text>
<text x="256.54" y="1058.26" textLength="11.97" lengthAdjust="spacingAndGlyphs">0.0</text>
<text x="273.56" y="1058.26" textLength="16.79" lengthAdjust="spacingAndGlyphs">0.01</text>
<text x="290.58" y="1058.26" textLength="16.79" lengthAdjust="spacingAndGlyphs">0.01</text>
<text x="307.60" y="1058.26" textLength="11.97" lengthAdjust="spacingAndGlyphs">0.0</text>
<text x="324.62" y="1058.26" textLength="11.97" lengthAdjust="spacingAndGlyphs">0.0</text>
<text x="341.64" y="1058.26" textLength="11.97" lengthAdjust="spacingAndGlyphs">0.0</text>
<text x="358.66" y="1058.26" textLength="11.97" lengthAdjust="spacingAndGlyphs">0.0</text>
<text x="375.68" y="1058.26" textLength="16.79" lengthAdjust="spacingAndGlyphs">0.01</text>
<text x="392.70" y="1058.26" textLength="11.97" lengthAdjust="spacingAndGlyphs">0.0</text>
<text x="409.72" y="1058.26" textLength="11.97" lengthAdjust="spacingAndGlyphs">0.0</text>
<text x="426.74" y="1058.26" textLength="16.74" lengthAdjust="spacingAndGlyphs">0.02</text>
<text x="443.76" y="1058.26" textLength="11.97" lengthAdjust="spacingAndGlyphs">0.0</text>
<text x="460.78" y="1058.26" textLength="11.97" lengthAdjust="spacingAndGlyphs">0.0</text>
<text x="477.80" y="1058.26" textLength="11.97" lengthAdjust="spacingAndGlyphs">0.0</text>
<text x="511.84" y="1058.26" textLength="11.97" lengthAdjust="spacingAndGlyphs">0.0</text>
<text x="528.86" y="1058.26" textLength="11.97" lengthAdjust="spacingAndGlyphs">0.0</text>
<text x="545.88" y="1058.26" textLength="11.97" lengthAdjust="spacingAndGlyphs">0.0</text>
<text x="562.90" y="1058.26" textLength="11.97" lengthAdjust="spacingAndGlyphs">0.0</text>
<text x="579.92" y="1058.26" textLength="11.97" lengthAdjust="spacingAndGlyphs">0.0</text>
<text x="596.94" y="1058.26" textLength="11.97" lengthAdjust="spacingAndGlyphs">0.0</text>
<text x="103.36" y="1075.26" textLength="11.97" lengthAdjust="spacingAndGlyphs">0.0</text>
<text x="120.38" y="1075.26" textLength="11.97" lengthAdjust="spacingAndGlyphs">0.0</text>
<text x="137.40" y="1075.26" textLength="11.97" lengthAdjust="spacingAndGlyphs">0.0</text>
<text x="154.42" y="1075.26" textLength="11.97" lengthAdjust="spacingAndGlyphs">0.0</text>
<text x="171.44" y="1075.26" textLength="11.97" lengthAdjust="spacingAndGlyphs">0.0</text>
<text x="188.46" y="1075.26" textLength="11.97" lengthAdjust="spacingAndGlyphs">0.0</text>
<text x="205.48" y="1075.26" textLength="16.74" lengthAdjust="spacingAndGlyphs">0.02</text>
<text x="222.50" y="1075.26" textLength="16.74" lengthAdjust="spacingAndGlyphs">0.02</text>
<text x="239.52" y="1075.26" textLength="11.97" lengthAdjust="spacingAndGlyphs">0.0</text>
<text x="256.54" y="1075.26" textLength="11.97" lengthAdjust="spacingAndGlyphs">0.0</text>
<text x="273.56" y="1075.26" textLength="11.97" lengthAdjust="spacingAndGlyphs">0.0</text>
<text x="290.58" y="1075.26" textLength="11.97" lengthAdjust="spacingAndGlyphs">0.0</text>
<text x="307.60" y="1075.26" textLength="16.79" lengthAdjust="spacingAndGlyphs">0.01</text>
<text x="324.62" y="1075.26" textLength="11.97" lengthAdjust="spacingAndGlyphs">0.0</text>
<text x="341.64" y="1075.26" textLength="11.97" lengthAdjust="spacingAndGlyphs">0.0</text>
<text x="358.66" y="1075.26" textLength="11.97" lengthAdjust="spacingAndGlyphs">0.0</text>
<text x="375.68" y="1075.26" textLength="16.74" lengthAdjust="spacingAndGlyphs">0.02</text>
<text x="392.70" y="1075.26" textLength="11.97" lengthAdjust="spacingAndGlyphs">0.0</text>
<text x="409.72" y="1075.26" textLength="16.79" lengthAdjust="spacingAndGlyphs">0.01</text>
<text x="426.74" y="1075.26" textLength="11.97" lengthAdjust="spacingAndGlyphs">0.0</text>
<text x="443.76" y="1075.26" textLength="11.97" lengthAdjust="spacingAndGlyphs">0.0</text>
<text x="460.78" y="1075.26" textLength="11.97" lengthAdjust="spacingAndGlyphs">0.0</text>
<text x="477.80" y="1075.26" textLength="11.97" lengthAdjust="spacingAndGlyphs">0.0</text>
<text x="494.82" y="1075.26" textLength="11.97" lengthAdjust="spacingAndGlyphs">0.0</text>
<text x="528.86" y="1075.26" textLength="11.97" lengthAdjust="spacingAndGlyphs">0.0</text>
<text x="545.88" y="1075.26" textLength="16.79" lengthAdjust="spacingAndGlyphs">0.01</text>
<text x="562.90" y="1075.26" textLength="11.97" lengthAdjust="spacingAndGlyphs">0.0</text>
<text x="579.92" y="1075.26" textLength="11.97" lengthAdjust="spacingAndGlyphs">0.0</text>
<text x="596.94" y="1075.26" textLength="11.97" lengthAdjust="spacingAndGlyphs">0.0</text>
<text x="103.36" y="1092.26" textLength="11.97" lengthAdjust="spacingAndGlyphs">0.0</text>
<text x="120.38" y="1092.26" textLength="11.97" lengthAdjust="spacingAndGlyphs">0.0</text>
<text x="137.40" y="1092.26" textLength="16.79" lengthAdjust="spacingAndGlyphs">0.01</text>
<text x="154.42" y="1092.26" textLength="11.97" lengthAdjust="spacingAndGlyphs">0.0</text>
<text x="171.44" y="1092.26" textLength="11.97" lengthAdjust="spacingAndGlyphs">0.0</text>
<text x="188.46" y="1092.26" textLength="11.97" lengthAdjust="spacingAndGlyphs">0.0</text>
<text x="205.48" y="1092.26" textLength="11.97" lengthAdjust="spacingAndGlyphs">0.0</text>
<text x="222.50" y="1092.26" textLength="11.97" lengthAdjust="spacingAndGlyphs">0.0</text>
<text x="239.52" y="1092.26" textLength="11.97" lengthAdjust="spacingAndGlyphs">0.0</text>
<text x="256.54" y="1092.26" textLength="11.97" lengthAdjust="spacingAndGlyphs">0.0</text>
<text x="273.56" y="1092.26" textLength="11.97" lengthAdjust="spacingAndGlyphs">0.0</text>
<text x="290.58" y="1092.26" textLength="11.97" lengthAdjust="spacingAndGlyphs">0.0</text>
<text x="307.60" y="1092.26" textLength="11.97" lengthAdjust="spacingAndGlyphs">0.0</text>
<text x="324.62" y="1092.26" textLength="16.79" lengthAdjust="spacingAndGlyphs">0.01</text>
<text x="341.64" y="1092.26" textLength="11.97" lengthAdjust="spacingAndGlyphs">0.0</text>
<text x="358.66" y="1092.26" textLength="11.97" lengthAdjust="spacingAndGlyphs">0.0</text>
<text x="375.68" y="1092.26" textLength="11.97" lengthAdjust="spacingAndGlyphs">0.0</text>
<text x="392.70" y="1092.26" textLength="11.97" lengthAdjust="spacingAndGlyphs">0.0</text>
<text x="409.72" y="1092.26" textLength="16.79" lengthAdjust="spacingAndGlyphs">0.01</text>
<text x="426.74" y="1092.26" textLength="11.97" lengthAdjust="spacingAndGlyphs">0.0</text>
<text x="443.76" y="1092.26" textLength="11.97" lengthAdjust="spacingAndGlyphs">0.0</text>
<text x="460.78" y="1092.26" textLength="11.97" lengthAdjust="spacingAndGlyphs">0.0</text>
<text x="477.80" y="1092.26" textLength="16.79" lengthAdjust="spacingAndGlyphs">0.01</text>
<text x="494.82" y="1092.26" textLength="11.97" lengthAdjust="spacingAndGlyphs">0.0</text>
<text x="511.84" y="1092.26" textLength="11.97" lengthAdjust="spacingAndGlyphs">0.0</text>
<text x="545.88" y="1092.26" textLength="16.79" lengthAdjust="spacingAndGlyphs">0.01</text>
<text x="562.90" y="1092.26" textLength="11.97" lengthAdjust="spacingAndGlyphs">0.0</text>
<text x="579.92" y="1092.26" textLength="11.97" lengthAdjust="spacingAndGlyphs">0.0</text>
<text x="596.94" y="1092.26" textLength="11.97" lengthAdjust="spacingAndGlyphs">0.0</text>
<text x="103.36" y="1109.26" textLength="16.74" lengthAdjust="spacingAndGlyphs">0.02</text>
<text x="120.38" y="1109.26" textLength="11.97" lengthAdjust="spacingAndGlyphs">0.0</text>
<text x="137.40" y="1109.26" textLength="16.79" lengthAdjust="spacingAndGlyphs">0.01</text>
<text x="154.42" y="1109.26" textLength="11.97" lengthAdjust="spacingAndGlyphs">0.0</text>
<text x="171.44" y="1109.26" textLength="11.97" lengthAdjust="spacingAndGlyphs">0.0</text>
<text x="188.46" y="1109.26" textLength="16.79" lengthAdjust="spacingAndGlyphs">0.01</text>
<text x="205.48" y="1109.26" textLength="16.79" lengthAdjust="spacingAndGlyphs">0.01</text>
<text x="222.50" y="1109.26" textLength="11.97" lengthAdjust="spacingAndGlyphs">0.0</text>
<text x="239.52" y="1109.26" textLength="11.97" lengthAdjust="spacingAndGlyphs">0.0</text>
<text x="256.54" y="1109.26" textLength="11.97" lengthAdjust="spacingAndGlyphs">0.0</text>
<text x="273.56" y="1109.26" textLength="16.79" lengthAdjust="spacingAndGlyphs">0.01</text>
<text x="290.58" y="1109.26" textLength="11.97" lengthAdjust="spacingAndGlyphs">0.0</text>
<text x="307.60" y="1109.26" textLength="16.79" lengthAdjust="spacingAndGlyphs">0.01</text>
<text x="324.62" y="1109.26" textLength="11.97" lengthAdjust="spacingAndGlyphs">0.0</text>
<text x="341.64" y="1109.26" textLength="11.97" lengthAdjust="spacingAndGlyphs">0.0</text>
<text x="358.66" y="1109.26" textLength="11.97" lengthAdjust="spacingAndGlyphs">0.0</text>
<text x="375.68" y="1109.26" textLength="16.79" lengthAdjust="spacingAndGlyphs">0.01</text>
<text x="392.70" y="1109.26" textLength="11.97" lengthAdjust="spacingAndGlyphs">0.0</text>
<text x="409.72" y="1109.26" textLength="16.79" lengthAdjust="spacingAndGlyphs">0.01</text>
<text x="426.74" y="1109.26" textLength="16.79" lengthAdjust="spacingAndGlyphs">0.01</text>
<text x="443.76" y="1109.26" textLength="11.97" lengthAdjust="spacingAndGlyphs">0.0</text>
<text x="460.78" y="1109.26" textLength="11.97" lengthAdjust="spacingAndGlyphs">0.0</text>
<text x="477.80" y="1109.26" textLength="11.97" lengthAdjust="spacingAndGlyphs">0.0</text>
<text x="494.82" y="1109.26" textLength="11.97" lengthAdjust="spacingAndGlyphs">0.0</text>
<text x="511.84" y="1109.26" textLength="16.79" lengthAdjust="spacingAndGlyphs">0.01</text>
<text x="528.86" y="1109.26" textLength="16.79" lengthAdjust="spacingAndGlyphs">0.01</text>
<text x="562.90" y="1109.26" textLength="11.97" lengthAdjust="spacingAndGlyphs">0.0</text>
<text x="579.92" y="1109.26" textLength="11.97" lengthAdjust="spacingAndGlyphs">0.0</text>
<text x="596.94" y="1109.26" textLength="11.97" lengthAdjust="spacingAndGlyphs">0.0</text>
<text x="103.36" y="1126.26" textLength="11.97" lengthAdjust="spacingAndGlyphs">0.0</text>
<text x="120.38" y="1126.26" textLength="11.97" lengthAdjust="spacingAndGlyphs">0.0</text>
<text x="137.40" y="1126.26" textLength="11.97" lengthAdjust="spacingAndGlyphs">0.0</text>
<text x="154.42" y="1126.26" textLength="11.97" lengthAdjust="spacingAndGlyphs">0.0</text>
<text x="171.44" y="1126.26" textLength="11.97" lengthAdjust="spacingAndGlyphs">0.0</text>
<text x="188.46" y="1126.26" textLength="11.97" lengthAdjust="spacingAndGlyphs">0.0</text>
<text x="205.48" y="1126.26" textLength="11.97" lengthAdjust="spacingAndGlyphs">0.0</text>
<text x="222.50" y="1126.26" textLength="11.97" lengthAdjust="spacingAndGlyphs">0.0</text>
<text x="239.52" y="1126.26" textLength="11.97" lengthAdjust="spacingAndGlyphs">0.0</text>
<text x="256.54" y="1126.26" textLength="11.97" lengthAdjust="spacingAndGlyphs">0.0</text>
<text x="273.56" y="1126.26" textLength="11.97" lengthAdjust="spacingAndGlyphs">0.0</text>
<text x="290.58" y="1126.26" textLength="11.97" lengthAdjust="spacingAndGlyphs">0.0</text>
<text x="307.60" y="1126.26" textLength="11.97" lengthAdjust="spacingAndGlyphs">0.0</text>
<text x="324.62" y="1126.26" textLength="11.97" lengthAdjust="spacingAndGlyphs">0.0</text>
<text x="341.64" y="1126.26" textLength="11.97" lengthAdjust="spacingAndGlyphs">0.0</text>
<text x="358.66" y="1126.26" textLength="11.97" lengthAdjust="spacingAndGlyphs">0.0</text>
<text x="375.68" y="1126.26" textLength="11.97" lengthAdjust="spacingAndGlyphs">0.0</text>
<text x="392.70" y="1126.26" textLength="11.97" lengthAdjust="spacingAndGlyphs">0.0</text>
<text x="409.72" y="1126.26" textLength="16.79" lengthAdjust="spacingAndGlyphs">0.01</text>
<text x="426.74" y="1126.26" textLength="11.97" lengthAdjust="spacingAndGlyphs">0.0</text>
<text x="443.76" y="1126.26" textLength="11.97" lengthAdjust="spacingAndGlyphs">0.0</text>
<text x="460.78" y="1126.26" textLength="11.97" lengthAdjust="spacingAndGlyphs">0.0</text>
<text x="477.80" y="1126.26" textLength="11.97" lengthAdjust="spacingAndGlyphs">0.0</text>
<text x="494.82" y="1126.26" textLength="11.97" lengthAdjust="spacingAndGlyphs">0.0</text>
<text x="511.84" y="1126.26" textLength="11.97" lengthAdjust="spacingAndGlyphs">0.0</text>
<text x="528.86" y="1126.26" textLength="11.97" lengthAdjust="spacingAndGlyphs">0.0</text>
<text x="545.88" y="1126.26" textLength="11.97" lengthAdjust="spacingAndGlyphs">0.0</text>
<text x="579.92" y="1126.26" textLength="11.97" lengthAdjust="spacingAndGlyphs">0.0</text>
<text x="596.94" y="1126.26" textLength="11.97" lengthAdjust="spacingAndGlyphs">0.0</text>
<text x="103.36" y="1143.26" textLength="16.79" lengthAdjust="spacingAndGlyphs">0.01</text>
<text x="120.38" y="1143.26" textLength="11.97" lengthAdjust="spacingAndGlyphs">0.0</text>
<text x="137.40" y="1143.26" textLength="11.97" lengthAdjust="spacingAndGlyphs">0.0</text>
<text x="154.42" y="1143.26" textLength="11.97" lengthAdjust="spacingAndGlyphs">0.0</text>
<text x="171.44" y="1143.26" textLength="11.97" lengthAdjust="spacingAndGlyphs">0.0</text>
<text x="188.46" y="1143.26" textLength="11.97" lengthAdjust="spacingAndGlyphs">0.0</text>
<text x="205.48" y="1143.26" textLength="11.97" lengthAdjust="spacingAndGlyphs">0.0</text>
<text x="222.50" y="1143.26" textLength="11.97" lengthAdjust="spacingAndGlyphs">0.0</text>
<text x="239.52" y="1143.26" textLength="11.97" lengthAdjust="spacingAndGlyphs">0.0</text>
<text x="256.54" y="1143.26" textLength="11.97" lengthAdjust="spacingAndGlyphs">0.0</text>
<text x="273.56" y="1143.26" textLength="11.97" lengthAdjust="spacingAndGlyphs">0.0</text>
<text x="290.58" y="1143.26" textLength="11.97" lengthAdjust="spacingAndGlyphs">0.0</text>
<text x="307.60" y="1143.26" textLength="16.79" lengthAdjust="spacingAndGlyphs">0.01</text>
<text x="324.62" y="1143.26" textLength="11.97" lengthAdjust="spacingAndGlyphs">0.0</text>
<text x="341.64" y="1143.26" textLength="11.97" lengthAdjust="spacingAndGlyphs">0.0</text>
<text x="358.66" y="1143.26" textLength="11.97" lengthAdjust="spacingAndGlyphs">0.0</text>
<text x="375.68" y="1143.26" textLength="11.97" lengthAdjust="spacingAndGlyphs">0.0</text>
<text x="392.70" y="1143.26" textLength="11.97" lengthAdjust="spacingAndGlyphs">0.0</text>
<text x="409.72" y="1143.26" textLength="11.97" lengthAdjust="spacingAndGlyphs">0.0</text>
<text x="426.74" y="1143.26" textLength="11.97" lengthAdjust="spacingAndGlyphs">0.0</text>
<text x="443.76" y="1143.26" textLength="11.97" lengthAdjust="spacingAndGlyphs">0.0</text>
<text x="460.78" y="1143.26" textLength="16.79" lengthAdjust="spacingAndGlyphs">0.01</text>
<text x="477.80" y="1143.26" textLength="11.97" lengthAdjust="spacingAndGlyphs">0.0</text>
<text x="494.82" y="1143.26" textLength="11.97" lengthAdjust="spacingAndGlyphs">0.0</text>
<text x="511.84" y="1143.26" textLength="11.97" lengthAdjust="spacingAndGlyphs">0.0</text>
<text x="528.86" y="1143.26" textLength="11.97" lengthAdjust="spacingAndGlyphs">0.0</text>
<text x="545.88" y="1143.26" textLength="11.97" lengthAdjust="spacingAndGlyphs">0.0</text>
<text x="562.90" y="1143.26" textLength="11.97" lengthAdjust="spacingAndGlyphs">0.0</text>
<text x="596.94" y="1143.26" textLength="11.97" lengthAdjust="spacingAndGlyphs">0.0</text>
<text x="103.36" y="1160.26" textLength="11.97" lengthAdjust="spacingAndGlyphs">0.0</text>
<text x="120.38" y="1160.26" textLength="11.97" lengthAdjust="spacingAndGlyphs">0.0</text>
<text x="137.40" y="1160.26" textLength="11.97" lengthAdjust="spacingAndGlyphs">0.0</text>
<text x="154.42" y="1160.26" textLength="11.97" lengthAdjust="spacingAndGlyphs">0.0</text>
<text x="171.44" y="1160.26" textLength="16.79" lengthAdjust="spacingAndGlyphs">0.01</text>
<text x="188.46" y="1160.26" textLength="11.97" lengthAdjust="spacingAndGlyphs">0.0</text>
<text x="205.48" y="1160.26" textLength="11.97" lengthAdjust="spacingAndGlyphs">0.0</text>
<text x="222.50" y="1160.26" textLength="11.97" lengthAdjust="spacingAndGlyphs">0.0</text>
<text x="239.52" y="1160.26" textLength="11.97" lengthAdjust="spacingAndGlyphs">0.0</text>
<text x="256.54" y="1160.26" textLength="11.97" lengthAdjust="spacingAndGlyphs">0.0</text>
<text x="273.56" y="1160.26" textLength="11.97" lengthAdjust="spacingAndGlyphs">0.0</text>
<text x="290.58" y="1160.26" textLength="11.97" lengthAdjust="spacingAndGlyphs">0.0</text>
<text x="307.60" y="1160.26" textLength="11.97" lengthAdjust="spacingAndGlyphs">0.0</text>
<text x="324.62" y="1160.26" textLength="11.97" lengthAdjust="spacingAndGlyphs">0.0</text>
<text x="341.64" y="1160.26" textLength="11.97" lengthAdjust="spacingAndGlyphs">0.0</text>
<text x="358.66" y="1160.26" textLength="11.97" lengthAdjust="spacingAndGlyphs">0.0</text>
<text x="375.68" y="1160.26" textLength="11.97" lengthAdjust="spacingAndGlyphs">0.0</text>
<text x="392.70" y="1160.26" textLength="11.97" lengthAdjust="spacingAndGlyphs">0.0</text>
<text x="409.72" y="1160.26" textLength="11.97" lengthAdjust="spacingAndGlyphs">0.0</text>
<text x="426.74" y="1160.26" textLength="11.97" lengthAdjust="spacingAndGlyphs">0.0</text>
<text x="443.76" y="1160.26" textLength="11.97" lengthAdjust="spacingAndGlyphs">0.0</text>
<text x="460.78" y="1160.26" textLength="11.97" lengthAdjust="spacingAndGlyphs">0.0</text>
<text x="477.80" y="1160.26" textLength="11.97" lengthAdjust="spacingAndGlyphs">0.0</text>
<text x="494.82" y="1160.26" textLength="11.97" lengthAdjust="spacingAndGlyphs">0.0</text>
<text x="511.84" y="1160.26" textLength="11.97" lengthAdjust="spacingAndGlyphs">0.0</text>
<text x="528.86" y="1160.26" textLength="11.97" lengthAdjust="spacingAndGlyphs">0.0</text>
<text x="545.88" y="1160.26" textLength="16.79" lengthAdjust="spacingAndGlyphs">0.01</text>
<text x="562.90" y="1160.26" textLength="11.97" lengthAdjust="spacingAndGlyphs">0.0</text>
<text x="579.92" y="1160.26" textLength="11.97" lengthAdjust="spacingAndGlyphs">0.0</text>
</g>
<g class="w" font-size="8.24" text-anchor="middle" fill="#fff"><text x="103.36" y="667.26" textLength="16.86" lengthAdjust="spacingAndGlyphs">0.97</text><text x="120.38" y="684.26" textLength="16.86" lengthAdjust="spacingAndGlyphs">0.97</text><text x="137.40" y="701.26" textLength="11.95" lengthAdjust="spacingAndGlyphs">1.0</text><text x="154.42" y="718.26" textLength="16.95" lengthAdjust="spacingAndGlyphs">0.99</text><text x="171.44" y="735.26" textLength="16.93" lengthAdjust="spacingAndGlyphs">0.98</text><text x="188.46" y="752.26" textLength="16.93" lengthAdjust="spacingAndGlyphs">0.88</text><text x="205.48" y="769.26" textLength="16.93" lengthAdjust="spacingAndGlyphs">0.98</text><text x="222.50" y="786.26" textLength="16.95" lengthAdjust="spacingAndGlyphs">0.89</text><text x="239.52" y="803.26" textLength="16.86" lengthAdjust="spacingAndGlyphs">0.97</text><text x="256.54" y="820.26" textLength="16.95" lengthAdjust="spacingAndGlyphs">0.99</text><text x="273.56" y="837.26" textLength="16.93" lengthAdjust="spacingAndGlyphs">0.98</text><text x="290.58" y="854.26" textLength="16.95" lengthAdjust="spacingAndGlyphs">0.99</text><text x="307.60" y="871.26" textLength="16.95" lengthAdjust="spacingAndGlyphs">0.89</text><text x="324.62" y="888.26" textLength="16.95" lengthAdjust="spacingAndGlyphs">0.99</text><text x="341.64" y="905.26" textLength="16.95" lengthAdjust="spacingAndGlyphs">0.99</text><text x="358.66" y="922.26" textLength="11.95" lengthAdjust="spacingAndGlyphs">1.0</text><text x="375.68" y="939.26" textLength="16.84" lengthAdjust="spacingAndGlyphs">0.83</text><text x="392.70" y="956.26" textLength="11.95" lengthAdjust="spacingAndGlyphs">1.0</text><text x="409.72" y="973.26" textLength="16.98" lengthAdjust="spacingAndGlyphs">0.96</text><text x="426.74" y="990.26" textLength="16.77" lengthAdjust="spacingAndGlyphs">0.95</text><text x="443.76" y="1007.26" textLength="16.93" lengthAdjust="spacingAndGlyphs">0.98</text><text x="460.78" y="1024.26" textLength="16.74" lengthAdjust="spacingAndGlyphs">0.92</text><text x="477.80" y="1041.26" textLength="12.02" lengthAdjust="spacingAndGlyphs">0.9</text><text x="494.82" y="1058.26" textLength="16.84" lengthAdjust="spacingAndGlyphs">0.93</text><text x="511.84" y="1075.26" textLength="12.02" lengthAdjust="spacingAndGlyphs">0.9</text><text x="528.86" y="1092.26" textLength="16.77" lengthAdjust="spacingAndGlyphs">0.95</text><text x="545.88" y="1109.26" textLength="16.79" lengthAdjust="spacingAndGlyphs">0.91</text><text x="562.90" y="1126.26" textLength="16.95" lengthAdjust="spacingAndGlyphs">0.99</text><text x="579.92" y="1143.26" textLength="16.93" lengthAdjust="spacingAndGlyphs">0.98</text><text x="596.94" y="1160.26" textLength="16.86" lengthAdjust="spacingAndGlyphs">0.97</text></g>
<rect x="94.85" y="656.00" width="510.60" height="510.66" fill="none" stroke="#222" stroke-width="0.95"/>
<path d="M91.85 664.50H94.85M103.50 1166.66V1169.66M91.85 681.50H94.85M120.50 1166.66V1169.66M91.85 698.50H94.85M137.50 1166.66V1169.66M91.85 715.50H94.85M154.50 1166.66V1169.66M91.85 732.50H94.85M171.50 1166.66V1169.66M91.85 749.50H94.85M188.50 1166.66V1169.66M91.85 766.50H94.85M205.50 1166.66V1169.66M91.85 783.50H94.85M222.50 1166.66V1169.66M91.85 800.50H94.85M239.50 1166.66V1169.66M91.85 817.50H94.85M256.50 1166.66V1169.66M91.85 834.50H94.85M273.50 1166.66V1169.66M91.85 851.50H94.85M290.50 1166.66V1169.66M91.85 868.50H94.85M307.50 1166.66V1169.66M91.85 885.50H94.85M324.50 1166.66V1169.66M91.85 902.50H94.85M341.50 1166.66V1169.66M91.85 919.50H94.85M358.50 1166.66V1169.66M91.85 936.50H94.85M375.50 1166.66V1169.66M91.85 953.50H94.85M392.50 1166.66V1169.66M91.85 970.50H94.85M409.50 1166.66V1169.66M91.85 987.50H94.85M426.50 1166.66V1169.66M91.85 1004.50H94.85M443.50 1166.66V1169.66M91.85 1021.50H94.85M460.50 1166.66V1169.66M91.85 1038.50H94.85M477.50 1166.66V1169.66M91.85 1056.50H94.85M494.50 1166.66V1169.66M91.85 1073.50H94.85M511.50 1166.66V1169.66M91.85 1090.50H94.85M528.50 1166.66V1169.66M91.85 1107.50H94.85M545.50 1166.66V1169.66M91.85 1124.50H94.85M562.50 1166.66V1169.66M91.85 1141.50H94.85M579.50 1166.66V1169.66M91.85 1158.50H94.85M596.50 1166.66V1169.66" stroke="#2a2a2a" stroke-width="1" fill="none"/>
<g class="k" font-size="8.24" text-anchor="end" fill="#1a1a1a">
<text x="88.35" y="667.96" textLength="26.36" lengthAdjust="spacingAndGlyphs">Airport</text>
<text x="88.35" y="684.96" textLength="36.69" lengthAdjust="spacingAndGlyphs">BareLand</text>
<text x="88.35" y="701.96" textLength="51.08" lengthAdjust="spacingAndGlyphs">BaseballField</text>
<text x="88.35" y="718.96" textLength="23.82" lengthAdjust="spacingAndGlyphs">Beach</text>
<text x="88.35" y="735.96" textLength="25.19" lengthAdjust="spacingAndGlyphs">Bridge</text>
<text x="88.35" y="752.96" textLength="26.24" lengthAdjust="spacingAndGlyphs">Center</text>
<text x="88.35" y="769.96" textLength="27.49" lengthAdjust="spacingAndGlyphs">Church</text>
<text x="88.35" y="786.96" textLength="46.38" lengthAdjust="spacingAndGlyphs">Commercial</text>
<text x="88.35" y="803.96" textLength="67.28" lengthAdjust="spacingAndGlyphs">DenseResidential</text>
<text x="88.35" y="820.96" textLength="25.60" lengthAdjust="spacingAndGlyphs">Desert</text>
<text x="88.35" y="837.96" textLength="36.48" lengthAdjust="spacingAndGlyphs">Farmland</text>
<text x="88.35" y="854.96" textLength="24.04" lengthAdjust="spacingAndGlyphs">Forest</text>
<text x="88.35" y="871.96" textLength="36.28" lengthAdjust="spacingAndGlyphs">Industrial</text>
<text x="88.35" y="888.96" textLength="31.79" lengthAdjust="spacingAndGlyphs">Meadow</text>
<text x="88.35" y="905.96" textLength="73.83" lengthAdjust="spacingAndGlyphs">MediumResidential</text>
<text x="88.35" y="922.96" textLength="35.97" lengthAdjust="spacingAndGlyphs">Mountain</text>
<text x="88.35" y="939.96" textLength="16.98" lengthAdjust="spacingAndGlyphs">Park</text>
<text x="88.35" y="956.96" textLength="28.86" lengthAdjust="spacingAndGlyphs">Parking</text>
<text x="88.35" y="973.96" textLength="43.55" lengthAdjust="spacingAndGlyphs">Playground</text>
<text x="88.35" y="990.96" textLength="18.97" lengthAdjust="spacingAndGlyphs">Pond</text>
<text x="88.35" y="1007.96" textLength="15.45" lengthAdjust="spacingAndGlyphs">Port</text>
<text x="88.35" y="1024.96" textLength="57.53" lengthAdjust="spacingAndGlyphs">RailwayStation</text>
<text x="88.35" y="1041.96" textLength="24.97" lengthAdjust="spacingAndGlyphs">Resort</text>
<text x="88.35" y="1058.96" textLength="20.17" lengthAdjust="spacingAndGlyphs">River</text>
<text x="88.35" y="1075.96" textLength="25.43" lengthAdjust="spacingAndGlyphs">School</text>
<text x="88.35" y="1092.96" textLength="69.34" lengthAdjust="spacingAndGlyphs">SparseResidential</text>
<text x="88.35" y="1109.96" textLength="27.29" lengthAdjust="spacingAndGlyphs">Square</text>
<text x="88.35" y="1126.96" textLength="32.04" lengthAdjust="spacingAndGlyphs">Stadium</text>
<text x="88.35" y="1143.96" textLength="53.05" lengthAdjust="spacingAndGlyphs">StorageTanks</text>
<text x="88.35" y="1160.96" textLength="29.19" lengthAdjust="spacingAndGlyphs">Viaduct</text>
</g>
<g class="k" font-size="8.24" text-anchor="end" fill="#1a1a1a">
<text x="109.76" y="1175.57" transform="rotate(-70 109.76 1175.57)" textLength="26.36" lengthAdjust="spacingAndGlyphs">Airport</text>
<text x="128.55" y="1175.57" transform="rotate(-70 128.55 1175.57)" textLength="36.69" lengthAdjust="spacingAndGlyphs">BareLand</text>
<text x="148.03" y="1175.57" transform="rotate(-70 148.03 1175.57)" textLength="51.08" lengthAdjust="spacingAndGlyphs">BaseballField</text>
<text x="160.39" y="1175.57" transform="rotate(-70 160.39 1175.57)" textLength="23.82" lengthAdjust="spacingAndGlyphs">Beach</text>
<text x="177.64" y="1175.57" transform="rotate(-70 177.64 1175.57)" textLength="25.19" lengthAdjust="spacingAndGlyphs">Bridge</text>
<text x="194.84" y="1175.57" transform="rotate(-70 194.84 1175.57)" textLength="26.24" lengthAdjust="spacingAndGlyphs">Center</text>
<text x="212.07" y="1175.57" transform="rotate(-70 212.07 1175.57)" textLength="27.49" lengthAdjust="spacingAndGlyphs">Church</text>
<text x="232.33" y="1175.57" transform="rotate(-70 232.33 1175.57)" textLength="46.38" lengthAdjust="spacingAndGlyphs">Commercial</text>
<text x="252.92" y="1175.57" transform="rotate(-70 252.92 1175.57)" textLength="67.28" lengthAdjust="spacingAndGlyphs">DenseResidential</text>
<text x="262.81" y="1175.57" transform="rotate(-70 262.81 1175.57)" textLength="25.60" lengthAdjust="spacingAndGlyphs">Desert</text>
<text x="281.69" y="1175.57" transform="rotate(-70 281.69 1175.57)" textLength="36.48" lengthAdjust="spacingAndGlyphs">Farmland</text>
<text x="296.58" y="1175.57" transform="rotate(-70 296.58 1175.57)" textLength="24.04" lengthAdjust="spacingAndGlyphs">Forest</text>
<text x="315.70" y="1175.57" transform="rotate(-70 315.70 1175.57)" textLength="36.28" lengthAdjust="spacingAndGlyphs">Industrial</text>
<text x="331.95" y="1175.57" transform="rotate(-70 331.95 1175.57)" textLength="31.79" lengthAdjust="spacingAndGlyphs">Meadow</text>
<text x="356.16" y="1175.57" transform="rotate(-70 356.16 1175.57)" textLength="73.83" lengthAdjust="spacingAndGlyphs">MediumResidential</text>
<text x="366.70" y="1175.57" transform="rotate(-70 366.70 1175.57)" textLength="35.97" lengthAdjust="spacingAndGlyphs">Mountain</text>
<text x="380.48" y="1175.57" transform="rotate(-70 380.48 1175.57)" textLength="16.98" lengthAdjust="spacingAndGlyphs">Park</text>
<text x="399.53" y="1175.57" transform="rotate(-70 399.53 1175.57)" textLength="28.86" lengthAdjust="spacingAndGlyphs">Parking</text>
<text x="419.06" y="1175.57" transform="rotate(-70 419.06 1175.57)" textLength="43.55" lengthAdjust="spacingAndGlyphs">Playground</text>
<text x="431.88" y="1175.57" transform="rotate(-70 431.88 1175.57)" textLength="18.97" lengthAdjust="spacingAndGlyphs">Pond</text>
<text x="448.29" y="1175.57" transform="rotate(-70 448.29 1175.57)" textLength="15.45" lengthAdjust="spacingAndGlyphs">Port</text>
<text x="472.51" y="1175.57" transform="rotate(-70 472.51 1175.57)" textLength="57.53" lengthAdjust="spacingAndGlyphs">RailwayStation</text>
<text x="483.96" y="1175.57" transform="rotate(-70 483.96 1175.57)" textLength="24.97" lengthAdjust="spacingAndGlyphs">Resort</text>
<text x="500.16" y="1175.57" transform="rotate(-70 500.16 1175.57)" textLength="20.17" lengthAdjust="spacingAndGlyphs">River</text>
<text x="518.08" y="1175.57" transform="rotate(-70 518.08 1175.57)" textLength="25.43" lengthAdjust="spacingAndGlyphs">School</text>
<text x="542.61" y="1175.57" transform="rotate(-70 542.61 1175.57)" textLength="69.34" lengthAdjust="spacingAndGlyphs">SparseResidential</text>
<text x="552.44" y="1175.57" transform="rotate(-70 552.44 1175.57)" textLength="27.29" lengthAdjust="spacingAndGlyphs">Square</text>
<text x="570.27" y="1175.57" transform="rotate(-70 570.27 1175.57)" textLength="32.04" lengthAdjust="spacingAndGlyphs">Stadium</text>
<text x="590.89" y="1175.57" transform="rotate(-70 590.89 1175.57)" textLength="53.05" lengthAdjust="spacingAndGlyphs">StorageTanks</text>
<text x="603.83" y="1175.57" transform="rotate(-70 603.83 1175.57)" textLength="29.19" lengthAdjust="spacingAndGlyphs">Viaduct</text>
</g>
<text class="k" x="350.15" y="1255.20" font-size="8.24" text-anchor="middle" fill="#1a1a1a" textLength="45.15" lengthAdjust="spacingAndGlyphs">True Labels</text>
<text class="k" x="0" y="0" transform="translate(7.9 911.33) rotate(-90)" font-size="8.24" text-anchor="middle" fill="#1a1a1a" textLength="63.97" lengthAdjust="spacingAndGlyphs">Predicted Labels</text>
<text class="k" x="350.15" y="651.50" font-size="9.99" text-anchor="middle" fill="#1a1a1a" textLength="80.21" lengthAdjust="spacingAndGlyphs">Confusion matrix</text>
<rect x="640.7" y="656.00" width="25.30" height="510.66" fill="url(#cb)" stroke="#222" stroke-width="0.9"/>
<g class="k" font-size="8.24" fill="#1a1a1a">
<text x="672.00" y="1169.51" textLength="11.97" lengthAdjust="spacingAndGlyphs">0.0</text>
<text x="672.00" y="1067.38" textLength="11.80" lengthAdjust="spacingAndGlyphs">0.2</text>
<text x="672.00" y="965.25" textLength="11.97" lengthAdjust="spacingAndGlyphs">0.4</text>
<text x="672.00" y="863.11" textLength="12.05" lengthAdjust="spacingAndGlyphs">0.6</text>
<text x="672.00" y="760.98" textLength="12.00" lengthAdjust="spacingAndGlyphs">0.8</text>
<text x="672.00" y="658.85" textLength="11.95" lengthAdjust="spacingAndGlyphs">1.0</text>
</g>
<path d="M666.00 1166.66H669.50M666.00 1064.53H669.50M666.00 962.40H669.50M666.00 860.26H669.50M666.00 758.13H669.50M666.00 656.00H669.50" stroke="#2a2a2a" stroke-width="1" fill="none"/>
<text class="s" x="3.3" y="1249.3" font-size="20" letter-spacing="0.5" fill="#111" stroke="#111" stroke-width="0.35">(b)</text>
</svg></body></html>
